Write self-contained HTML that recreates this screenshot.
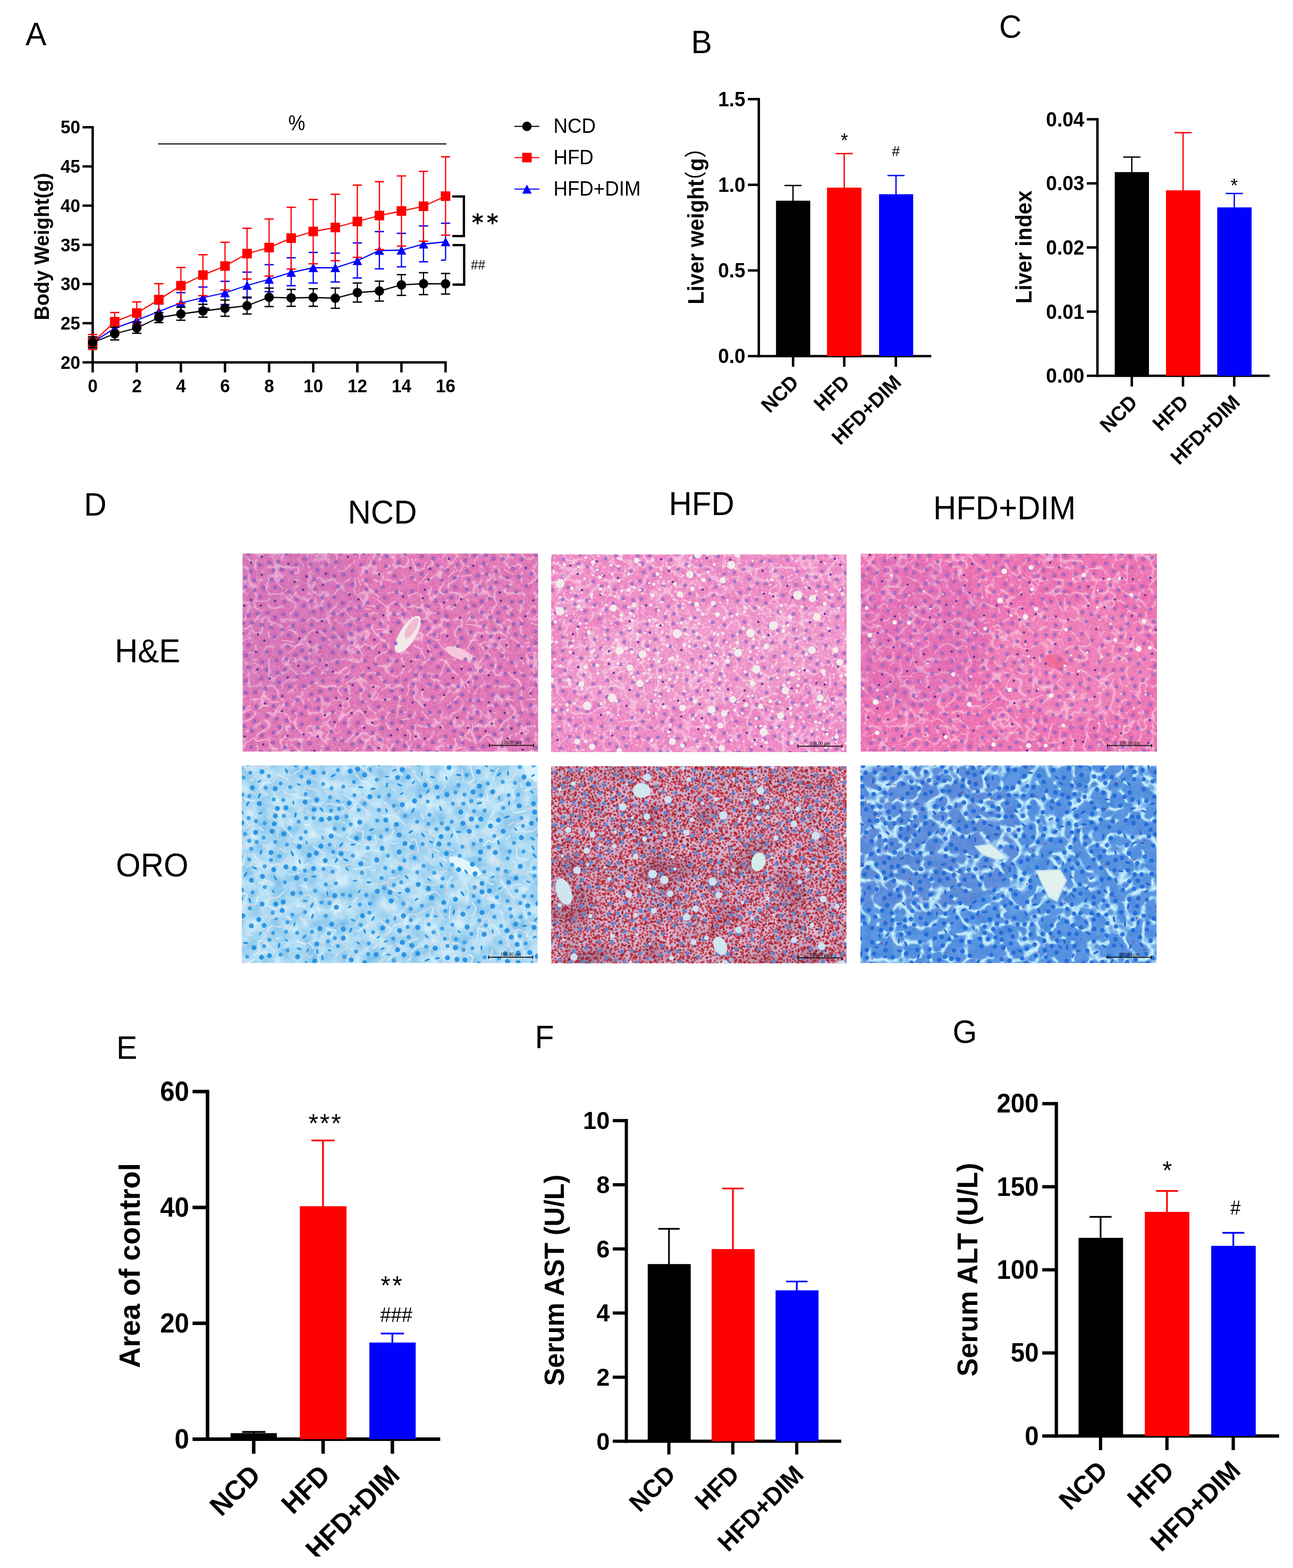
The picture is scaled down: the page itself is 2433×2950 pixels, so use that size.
<!DOCTYPE html>
<html lang="en"><head><meta charset="utf-8"><title>Figure</title>
<style>html,body{margin:0;padding:0;background:#fff}body{width:2433px;height:2950px}svg{display:block}text{font-family:"Liberation Sans",sans-serif;fill:#000}</style>
</head><body>
<svg width="2433" height="2950" viewBox="0 0 2433 2950">
<rect width="2433" height="2950" fill="#fff"/>
<text transform="translate(48 85) scale(1 1.041)" font-size="59">A</text>
<text transform="translate(1300.5 100) scale(1 1.041)" font-size="59">B</text>
<text transform="translate(1880 70.5) scale(1 1.041)" font-size="59">C</text>
<text transform="translate(158 970.3) scale(1 1.041)" font-size="59">D</text>
<text transform="translate(219 1992) scale(1 1.041)" font-size="59">E</text>
<text transform="translate(1006.5 1971.5) scale(1 1.041)" font-size="59">F</text>
<text transform="translate(1792.5 1961.5) scale(1 1.041)" font-size="59">G</text>
<line x1="174.4" y1="237.15" x2="174.4" y2="684.05" stroke="#000" stroke-width="4.5" stroke-linecap="butt"/>
<line x1="155.3" y1="681.8" x2="840.65" y2="681.8" stroke="#000" stroke-width="4.5" stroke-linecap="butt"/>
<text transform="translate(151 693.72) scale(1 1.041)" font-size="33.3" text-anchor="end" font-weight="bold">20</text>
<line x1="155.3" y1="608.07" x2="174.4" y2="608.07" stroke="#000" stroke-width="4.5" stroke-linecap="butt"/>
<text transform="translate(151 619.99) scale(1 1.041)" font-size="33.3" text-anchor="end" font-weight="bold">25</text>
<line x1="155.3" y1="534.33" x2="174.4" y2="534.33" stroke="#000" stroke-width="4.5" stroke-linecap="butt"/>
<text transform="translate(151 546.25) scale(1 1.041)" font-size="33.3" text-anchor="end" font-weight="bold">30</text>
<line x1="155.3" y1="460.6" x2="174.4" y2="460.6" stroke="#000" stroke-width="4.5" stroke-linecap="butt"/>
<text transform="translate(151 472.52) scale(1 1.041)" font-size="33.3" text-anchor="end" font-weight="bold">35</text>
<line x1="155.3" y1="386.87" x2="174.4" y2="386.87" stroke="#000" stroke-width="4.5" stroke-linecap="butt"/>
<text transform="translate(151 398.79) scale(1 1.041)" font-size="33.3" text-anchor="end" font-weight="bold">40</text>
<line x1="155.3" y1="313.13" x2="174.4" y2="313.13" stroke="#000" stroke-width="4.5" stroke-linecap="butt"/>
<text transform="translate(151 325.05) scale(1 1.041)" font-size="33.3" text-anchor="end" font-weight="bold">45</text>
<line x1="155.3" y1="239.4" x2="174.4" y2="239.4" stroke="#000" stroke-width="4.5" stroke-linecap="butt"/>
<text transform="translate(151 251.32) scale(1 1.041)" font-size="33.3" text-anchor="end" font-weight="bold">50</text>
<line x1="174.4" y1="681.8" x2="174.4" y2="700.7" stroke="#000" stroke-width="4.5" stroke-linecap="butt"/>
<text transform="translate(174.4 738.2) scale(1 1.041)" font-size="33.3" text-anchor="middle" font-weight="bold">0</text>
<line x1="257.4" y1="681.8" x2="257.4" y2="700.7" stroke="#000" stroke-width="4.5" stroke-linecap="butt"/>
<text transform="translate(257.4 738.2) scale(1 1.041)" font-size="33.3" text-anchor="middle" font-weight="bold">2</text>
<line x1="340.4" y1="681.8" x2="340.4" y2="700.7" stroke="#000" stroke-width="4.5" stroke-linecap="butt"/>
<text transform="translate(340.4 738.2) scale(1 1.041)" font-size="33.3" text-anchor="middle" font-weight="bold">4</text>
<line x1="423.4" y1="681.8" x2="423.4" y2="700.7" stroke="#000" stroke-width="4.5" stroke-linecap="butt"/>
<text transform="translate(423.4 738.2) scale(1 1.041)" font-size="33.3" text-anchor="middle" font-weight="bold">6</text>
<line x1="506.4" y1="681.8" x2="506.4" y2="700.7" stroke="#000" stroke-width="4.5" stroke-linecap="butt"/>
<text transform="translate(506.4 738.2) scale(1 1.041)" font-size="33.3" text-anchor="middle" font-weight="bold">8</text>
<line x1="589.4" y1="681.8" x2="589.4" y2="700.7" stroke="#000" stroke-width="4.5" stroke-linecap="butt"/>
<text transform="translate(589.4 738.2) scale(1 1.041)" font-size="33.3" text-anchor="middle" font-weight="bold">10</text>
<line x1="672.4" y1="681.8" x2="672.4" y2="700.7" stroke="#000" stroke-width="4.5" stroke-linecap="butt"/>
<text transform="translate(672.4 738.2) scale(1 1.041)" font-size="33.3" text-anchor="middle" font-weight="bold">12</text>
<line x1="755.4" y1="681.8" x2="755.4" y2="700.7" stroke="#000" stroke-width="4.5" stroke-linecap="butt"/>
<text transform="translate(755.4 738.2) scale(1 1.041)" font-size="33.3" text-anchor="middle" font-weight="bold">14</text>
<line x1="838.4" y1="681.8" x2="838.4" y2="700.7" stroke="#000" stroke-width="4.5" stroke-linecap="butt"/>
<text transform="translate(838.4 738.2) scale(1 1.041)" font-size="33.3" text-anchor="middle" font-weight="bold">16</text>
<text transform="translate(92.4 464) rotate(-90) scale(1 1.041)" font-size="37.6" text-anchor="middle" font-weight="bold">Body Weight(g)</text>
<line x1="297.5" y1="270.75" x2="840" y2="270.75" stroke="#000" stroke-width="2.2" stroke-linecap="butt"/>
<text transform="translate(558.4 245.1) scale(1 1.141)" font-size="35.8" text-anchor="middle">%</text>
<g stroke="#0000ff" stroke-width="2.3" fill="none">
<path d="M174.4 634V654M165.7 634h17.4M165.7 654h17.4M215.9 607V628M207.2 607h17.4M207.2 628h17.4M257.4 592V613M248.7 592h17.4M248.7 613h17.4M298.9 572V600M290.2 572h17.4M290.2 600h17.4M340.4 550.5V589.5M331.7 550.5h17.4M331.7 589.5h17.4M381.9 540V580M373.2 540h17.4M373.2 580h17.4M423.4 529.25V573M414.7 529.25h17.4M414.7 573h17.4M464.9 512V560.5M456.2 512h17.4M456.2 560.5h17.4M506.4 498V548.75M497.7 498h17.4M497.7 548.75h17.4M547.9 485V537.5M539.2 485h17.4M539.2 537.5h17.4M589.4 475V532.5M580.7 475h17.4M580.7 532.5h17.4M630.9 476.25V530.5M622.2 476.25h17.4M622.2 530.5h17.4M672.4 457V523M663.7 457h17.4M663.7 523h17.4M713.9 435.75V505.75M705.2 435.75h17.4M705.2 505.75h17.4M755.4 439V502M746.7 439h17.4M746.7 502h17.4M796.9 425V492.5M788.2 425h17.4M788.2 492.5h17.4M838.4 420V489.5M829.7 420h17.4M829.7 489.5h8.7"/>
<polyline points="174.4,644 215.9,617.5 257.4,602.5 298.9,586 340.4,570 381.9,560 423.4,551 464.9,537 506.4,525.5 547.9,512.5 589.4,503.75 630.9,503.75 672.4,490.5 713.9,471.25 755.4,470.75 796.9,459.25 838.4,455"/>
</g>
<g fill="#0000ff">
<path d="M174.4 635.2l9 17h-18z"/>
<path d="M215.9 608.7l9 17h-18z"/>
<path d="M257.4 593.7l9 17h-18z"/>
<path d="M298.9 577.2l9 17h-18z"/>
<path d="M340.4 561.2l9 17h-18z"/>
<path d="M381.9 551.2l9 17h-18z"/>
<path d="M423.4 542.2l9 17h-18z"/>
<path d="M464.9 528.2l9 17h-18z"/>
<path d="M506.4 516.7l9 17h-18z"/>
<path d="M547.9 503.7l9 17h-18z"/>
<path d="M589.4 494.95l9 17h-18z"/>
<path d="M630.9 494.95l9 17h-18z"/>
<path d="M672.4 481.7l9 17h-18z"/>
<path d="M713.9 462.45l9 17h-18z"/>
<path d="M755.4 461.95l9 17h-18z"/>
<path d="M796.9 450.45l9 17h-18z"/>
<path d="M838.4 446.2l9 17h-18z"/>
</g>
<g stroke="#ff0000" stroke-width="2.3" fill="none">
<path d="M174.4 629.25V657.5M165.7 629.25h17.4M165.7 657.5h17.4M215.9 588V622.5M207.2 588h17.4M207.2 622.5h17.4M257.4 568V610M248.7 568h17.4M248.7 610h17.4M298.9 533.75V593.75M290.2 533.75h17.4M290.2 593.75h17.4M340.4 503.25V571.25M331.7 503.25h17.4M331.7 571.25h17.4M381.9 479.25V556.25M373.2 479.25h17.4M373.2 556.25h17.4M423.4 455.75V545.5M414.7 455.75h17.4M414.7 545.5h17.4M464.9 429.5V525M456.2 429.5h17.4M456.2 525h17.4M506.4 412V519.5M497.7 412h17.4M497.7 519.5h17.4M547.9 390V506.25M539.2 390h17.4M539.2 506.25h17.4M589.4 375.25V496.25M580.7 375.25h17.4M580.7 496.25h17.4M630.9 365.5V490.5M622.2 365.5h17.4M622.2 490.5h17.4M672.4 348.25V484.25M663.7 348.25h17.4M663.7 484.25h17.4M713.9 341.75V469.5M705.2 341.75h17.4M705.2 469.5h17.4M755.4 331V463M746.7 331h17.4M746.7 463h17.4M796.9 322.5V453.75M788.2 322.5h17.4M788.2 453.75h17.4M838.4 295V442.5M829.7 295h17.4M829.7 442.5h17.4"/>
<polyline points="174.4,644.25 215.9,605.25 257.4,589 298.9,563.75 340.4,537.5 381.9,517.5 423.4,500.5 464.9,477.2 506.4,465.75 547.9,448 589.4,435.5 630.9,428 672.4,416.75 713.9,405.5 755.4,397 796.9,388 838.4,369"/>
</g>
<g fill="#ff0000">
<rect x="165.4" y="635.25" width="18" height="18"/>
<rect x="206.9" y="596.25" width="18" height="18"/>
<rect x="248.4" y="580" width="18" height="18"/>
<rect x="289.9" y="554.75" width="18" height="18"/>
<rect x="331.4" y="528.5" width="18" height="18"/>
<rect x="372.9" y="508.5" width="18" height="18"/>
<rect x="414.4" y="491.5" width="18" height="18"/>
<rect x="455.9" y="468.2" width="18" height="18"/>
<rect x="497.4" y="456.75" width="18" height="18"/>
<rect x="538.9" y="439" width="18" height="18"/>
<rect x="580.4" y="426.5" width="18" height="18"/>
<rect x="621.9" y="419" width="18" height="18"/>
<rect x="663.4" y="407.75" width="18" height="18"/>
<rect x="704.9" y="396.5" width="18" height="18"/>
<rect x="746.4" y="388" width="18" height="18"/>
<rect x="787.9" y="379" width="18" height="18"/>
<rect x="829.4" y="360" width="18" height="18"/>
</g>
<g stroke="#000" stroke-width="2.3" fill="none">
<path d="M174.4 633.75V654.5M165.7 633.75h17.4M165.7 654.5h17.4M215.9 615.75V639.5M207.2 615.75h17.4M207.2 639.5h17.4M257.4 606V627M248.7 606h17.4M248.7 627h17.4M298.9 588V607M290.2 588h17.4M290.2 607h17.4M340.4 578V602.5M331.7 578h17.4M331.7 602.5h17.4M381.9 572.5V596.75M373.2 572.5h17.4M373.2 596.75h17.4M423.4 564.5V595M414.7 564.5h17.4M414.7 595h17.4M464.9 559V590.75M456.2 559h17.4M456.2 590.75h17.4M506.4 542V576.75M497.7 542h17.4M497.7 576.75h17.4M547.9 544.5V576.25M539.2 544.5h17.4M539.2 576.25h17.4M589.4 543.25V576.25M580.7 543.25h17.4M580.7 576.25h17.4M630.9 542V580M622.2 542h17.4M622.2 580h17.4M672.4 532.5V568.25M663.7 532.5h17.4M663.7 568.25h17.4M713.9 529V566.5M705.2 529h17.4M705.2 566.5h17.4M755.4 516.75V555.75M746.7 516.75h17.4M746.7 555.75h17.4M796.9 513V554.25M788.2 513h17.4M788.2 554.25h17.4M838.4 514.5V553.25M829.7 514.5h17.4M829.7 553.25h17.4"/>
<polyline points="174.4,644.25 215.9,628 257.4,617 298.9,597.5 340.4,590.75 381.9,585 423.4,580 464.9,575.2 506.4,559.25 547.9,560.5 589.4,559.75 630.9,561 672.4,550.5 713.9,547.5 755.4,536 796.9,533.75 838.4,534"/>
</g>
<g fill="#000">
<circle cx="174.4" cy="644.25" r="8.9"/>
<circle cx="215.9" cy="628" r="8.9"/>
<circle cx="257.4" cy="617" r="8.9"/>
<circle cx="298.9" cy="597.5" r="8.9"/>
<circle cx="340.4" cy="590.75" r="8.9"/>
<circle cx="381.9" cy="585" r="8.9"/>
<circle cx="423.4" cy="580" r="8.9"/>
<circle cx="464.9" cy="575.2" r="8.9"/>
<circle cx="506.4" cy="559.25" r="8.9"/>
<circle cx="547.9" cy="560.5" r="8.9"/>
<circle cx="589.4" cy="559.75" r="8.9"/>
<circle cx="630.9" cy="561" r="8.9"/>
<circle cx="672.4" cy="550.5" r="8.9"/>
<circle cx="713.9" cy="547.5" r="8.9"/>
<circle cx="755.4" cy="536" r="8.9"/>
<circle cx="796.9" cy="533.75" r="8.9"/>
<circle cx="838.4" cy="534" r="8.9"/>
</g>
<text transform="translate(388.5 590.5) scale(1 1.041)" font-size="17" font-weight="bold">*</text>
<path d="M851 369.7H872.9V444.1H851M851.6 461.2H873.4V535.5H851.6" fill="none" stroke="#000" stroke-width="4.3"/>
<text transform="translate(887.8 433.6) scale(1 1.041)" font-size="42" font-weight="bold" style="font-family:'DejaVu Sans',sans-serif;letter-spacing:6px">**</text>
<text transform="translate(886 507) scale(1 1.041)" font-size="24.5">##</text>
<line x1="968" y1="237.75" x2="1015" y2="237.75" stroke="#000" stroke-width="2" stroke-linecap="butt"/>
<circle cx="991.5" cy="237.75" r="8.9" fill="#000"/>
<text transform="translate(1041.4 250.15) scale(1 1.041)" font-size="36.7">NCD</text>
<line x1="968" y1="296.5" x2="1015" y2="296.5" stroke="#ff0000" stroke-width="2" stroke-linecap="butt"/>
<rect x="982.5" y="287.5" width="18" height="18" fill="#ff0000"/>
<text transform="translate(1041.4 308.9) scale(1 1.041)" font-size="36.7">HFD</text>
<line x1="968" y1="355.75" x2="1015" y2="355.75" stroke="#0000ff" stroke-width="2" stroke-linecap="butt"/>
<path d="M991.5 347.25l9 17h-18z" fill="#0000ff"/>
<text transform="translate(1041.4 368.15) scale(1 1.041)" font-size="36.7">HFD+DIM</text>
<line x1="1427.8" y1="184.2" x2="1427.8" y2="672.3" stroke="#000" stroke-width="4.6" stroke-linecap="butt"/>
<line x1="1407.3" y1="670" x2="1752.3" y2="670" stroke="#000" stroke-width="4.6" stroke-linecap="butt"/>
<line x1="1407.3" y1="186.5" x2="1427.8" y2="186.5" stroke="#000" stroke-width="4.6" stroke-linecap="butt"/>
<text transform="translate(1402.6 199.75) scale(1 1.041)" font-size="37" text-anchor="end" font-weight="bold">1.5</text>
<line x1="1407.3" y1="347.7" x2="1427.8" y2="347.7" stroke="#000" stroke-width="4.6" stroke-linecap="butt"/>
<text transform="translate(1402.6 360.95) scale(1 1.041)" font-size="37" text-anchor="end" font-weight="bold">1.0</text>
<line x1="1407.3" y1="508.8" x2="1427.8" y2="508.8" stroke="#000" stroke-width="4.6" stroke-linecap="butt"/>
<text transform="translate(1402.6 522.05) scale(1 1.041)" font-size="37" text-anchor="end" font-weight="bold">0.5</text>
<text transform="translate(1402.6 683.25) scale(1 1.041)" font-size="37" text-anchor="end" font-weight="bold">0.0</text>
<path d="M1492.15 378.6V349.1M1476 349.1H1508.3" stroke="#000" stroke-width="2.5" fill="none"/>
<rect x="1460.2" y="377.6" width="64.4" height="292.4" fill="#000"/>
<path d="M1588.55 354V288.9M1572.5 288.9H1604.6" stroke="#ff0000" stroke-width="2.5" fill="none"/>
<rect x="1556.2" y="353" width="64.8" height="317" fill="#ff0000"/>
<path d="M1686 366.4V330.3M1670 330.3H1702" stroke="#0000ff" stroke-width="2.5" fill="none"/>
<rect x="1654.1" y="365.4" width="64.2" height="304.6" fill="#0000ff"/>
<line x1="1492.3" y1="670" x2="1492.3" y2="690" stroke="#000" stroke-width="4.6" stroke-linecap="butt"/>
<line x1="1588.6" y1="670" x2="1588.6" y2="690" stroke="#000" stroke-width="4.6" stroke-linecap="butt"/>
<line x1="1685.7" y1="670" x2="1685.7" y2="690" stroke="#000" stroke-width="4.6" stroke-linecap="butt"/>
<text transform="translate(1505 721.8) rotate(-45) scale(1 1.041)" font-size="37" text-anchor="end" font-weight="bold">NCD</text>
<text transform="translate(1601 721.8) rotate(-45) scale(1 1.041)" font-size="37" text-anchor="end" font-weight="bold">HFD</text>
<text transform="translate(1698 721.8) rotate(-45) scale(1 1.041)" font-size="37" text-anchor="end" font-weight="bold">HFD+DIM</text>
<text transform="translate(1323.9 572.8) rotate(-90) scale(1 1.041)" font-size="40.3" font-weight="bold" style="font-family:'Liberation Sans','Noto Sans CJK SC',sans-serif">Liver weight<tspan dx="-24.5" font-weight="normal">（</tspan>g<tspan font-weight="normal">）</tspan></text>
<text transform="translate(1588.9 277.2) scale(1 1.041)" font-size="35.5" text-anchor="middle">*</text>
<text transform="translate(1685.7 293.6) scale(1 1.041)" font-size="27" text-anchor="middle">#</text>
<line x1="2065" y1="222.1" x2="2065" y2="709.3" stroke="#000" stroke-width="4.6" stroke-linecap="butt"/>
<line x1="2045" y1="707" x2="2389.1" y2="707" stroke="#000" stroke-width="4.6" stroke-linecap="butt"/>
<line x1="2045" y1="224.4" x2="2065" y2="224.4" stroke="#000" stroke-width="4.6" stroke-linecap="butt"/>
<text transform="translate(2040.3 237.65) scale(1 1.041)" font-size="37" text-anchor="end" font-weight="bold">0.04</text>
<line x1="2045" y1="345" x2="2065" y2="345" stroke="#000" stroke-width="4.6" stroke-linecap="butt"/>
<text transform="translate(2040.3 358.25) scale(1 1.041)" font-size="37" text-anchor="end" font-weight="bold">0.03</text>
<line x1="2045" y1="465.6" x2="2065" y2="465.6" stroke="#000" stroke-width="4.6" stroke-linecap="butt"/>
<text transform="translate(2040.3 478.85) scale(1 1.041)" font-size="37" text-anchor="end" font-weight="bold">0.02</text>
<line x1="2045" y1="586.3" x2="2065" y2="586.3" stroke="#000" stroke-width="4.6" stroke-linecap="butt"/>
<text transform="translate(2040.3 599.55) scale(1 1.041)" font-size="37" text-anchor="end" font-weight="bold">0.01</text>
<text transform="translate(2040.3 720.25) scale(1 1.041)" font-size="37" text-anchor="end" font-weight="bold">0.00</text>
<path d="M2129.65 324.8V295.4M2113.5 295.4H2145.8" stroke="#000" stroke-width="2.5" fill="none"/>
<rect x="2097.6" y="323.8" width="64.4" height="383.2" fill="#000"/>
<path d="M2226.15 359.1V249.5M2210 249.5H2242.3" stroke="#ff0000" stroke-width="2.5" fill="none"/>
<rect x="2194" y="358.1" width="64.5" height="348.9" fill="#ff0000"/>
<path d="M2322.5 391.2V363.95M2306.3 363.95H2338.7" stroke="#0000ff" stroke-width="2.5" fill="none"/>
<rect x="2290.4" y="390.2" width="64.7" height="316.8" fill="#0000ff"/>
<line x1="2129.7" y1="707" x2="2129.7" y2="727.2" stroke="#000" stroke-width="4.6" stroke-linecap="butt"/>
<line x1="2226" y1="707" x2="2226" y2="727.2" stroke="#000" stroke-width="4.6" stroke-linecap="butt"/>
<line x1="2322.4" y1="707" x2="2322.4" y2="727.2" stroke="#000" stroke-width="4.6" stroke-linecap="butt"/>
<text transform="translate(2142.5 759.3) rotate(-45) scale(1 1.041)" font-size="37" text-anchor="end" font-weight="bold">NCD</text>
<text transform="translate(2238.5 759.3) rotate(-45) scale(1 1.041)" font-size="37" text-anchor="end" font-weight="bold">HFD</text>
<text transform="translate(2335.5 759.3) rotate(-45) scale(1 1.041)" font-size="37" text-anchor="end" font-weight="bold">HFD+DIM</text>
<text transform="translate(1940.8 464.8) rotate(-90) scale(1 1.041)" font-size="40.3" text-anchor="middle" font-weight="bold">Liver index</text>
<text transform="translate(2322.3 362.2) scale(1 1.041)" font-size="35.5" text-anchor="middle">*</text>
<line x1="390.5" y1="2050.4" x2="390.5" y2="2710.9" stroke="#000" stroke-width="6.6" stroke-linecap="butt"/>
<line x1="362.3" y1="2707.6" x2="828.3" y2="2707.6" stroke="#000" stroke-width="6.6" stroke-linecap="butt"/>
<line x1="362.3" y1="2053.7" x2="390.5" y2="2053.7" stroke="#000" stroke-width="6.6" stroke-linecap="butt"/>
<text transform="translate(356 2071.35) scale(1 1.041)" font-size="49.3" text-anchor="end" font-weight="bold">60</text>
<line x1="362.3" y1="2271.7" x2="390.5" y2="2271.7" stroke="#000" stroke-width="6.6" stroke-linecap="butt"/>
<text transform="translate(356 2289.35) scale(1 1.041)" font-size="49.3" text-anchor="end" font-weight="bold">40</text>
<line x1="362.3" y1="2489.6" x2="390.5" y2="2489.6" stroke="#000" stroke-width="6.6" stroke-linecap="butt"/>
<text transform="translate(356 2507.25) scale(1 1.041)" font-size="49.3" text-anchor="end" font-weight="bold">20</text>
<text transform="translate(356 2725.25) scale(1 1.041)" font-size="49.3" text-anchor="end" font-weight="bold">0</text>
<path d="M477.6 2697.3V2694M455.8 2694H499.4" stroke="#000" stroke-width="3.3" fill="none"/>
<rect x="433.8" y="2696.3" width="87.1" height="11.3" fill="#000"/>
<path d="M607.8 2270.3V2145.7M586 2145.7H629.6" stroke="#ff0000" stroke-width="3.3" fill="none"/>
<rect x="564.2" y="2269.3" width="87.8" height="438.3" fill="#ff0000"/>
<path d="M738.3 2526.8V2508.9M716.5 2508.9H760.1" stroke="#0000ff" stroke-width="3.3" fill="none"/>
<rect x="695" y="2525.8" width="87.2" height="181.8" fill="#0000ff"/>
<line x1="477.4" y1="2707.6" x2="477.4" y2="2735" stroke="#000" stroke-width="6.6" stroke-linecap="butt"/>
<line x1="608" y1="2707.6" x2="608" y2="2735" stroke="#000" stroke-width="6.6" stroke-linecap="butt"/>
<line x1="738.3" y1="2707.6" x2="738.3" y2="2735" stroke="#000" stroke-width="6.6" stroke-linecap="butt"/>
<text transform="translate(493 2778.3) rotate(-45) scale(1 1.041)" font-size="50" text-anchor="end" font-weight="bold">NCD</text>
<text transform="translate(624 2778.3) rotate(-45) scale(1 1.041)" font-size="50" text-anchor="end" font-weight="bold">HFD</text>
<text transform="translate(755 2778.3) rotate(-45) scale(1 1.041)" font-size="50" text-anchor="end" font-weight="bold">HFD+DIM</text>
<text transform="translate(262.5 2381) rotate(-90) scale(1 1.041)" font-size="54.2" text-anchor="middle" font-weight="bold">Area of control</text>
<text transform="translate(612.55 2130.9) scale(1 1.041)" font-size="47.5" text-anchor="middle" style="letter-spacing:2.9px">***</text>
<text transform="translate(738.25 2436.1) scale(1 1.041)" font-size="47.5" text-anchor="middle" style="letter-spacing:3.4px">**</text>
<text transform="translate(745.65 2487.3) scale(1 1.041)" font-size="36.6" text-anchor="middle">###</text>
<line x1="1178.6" y1="2105.3" x2="1178.6" y2="2714.6" stroke="#000" stroke-width="6" stroke-linecap="butt"/>
<line x1="1153" y1="2711.6" x2="1583" y2="2711.6" stroke="#000" stroke-width="6" stroke-linecap="butt"/>
<line x1="1153" y1="2108.3" x2="1178.6" y2="2108.3" stroke="#000" stroke-width="6" stroke-linecap="butt"/>
<text transform="translate(1147.3 2124.48) scale(1 1.041)" font-size="45.2" text-anchor="end" font-weight="bold">10</text>
<line x1="1153" y1="2229" x2="1178.6" y2="2229" stroke="#000" stroke-width="6" stroke-linecap="butt"/>
<text transform="translate(1147.3 2245.18) scale(1 1.041)" font-size="45.2" text-anchor="end" font-weight="bold">8</text>
<line x1="1153" y1="2349.7" x2="1178.6" y2="2349.7" stroke="#000" stroke-width="6" stroke-linecap="butt"/>
<text transform="translate(1147.3 2365.88) scale(1 1.041)" font-size="45.2" text-anchor="end" font-weight="bold">6</text>
<line x1="1153" y1="2470.3" x2="1178.6" y2="2470.3" stroke="#000" stroke-width="6" stroke-linecap="butt"/>
<text transform="translate(1147.3 2486.48) scale(1 1.041)" font-size="45.2" text-anchor="end" font-weight="bold">4</text>
<line x1="1153" y1="2591" x2="1178.6" y2="2591" stroke="#000" stroke-width="6" stroke-linecap="butt"/>
<text transform="translate(1147.3 2607.18) scale(1 1.041)" font-size="45.2" text-anchor="end" font-weight="bold">2</text>
<text transform="translate(1147.3 2727.78) scale(1 1.041)" font-size="45.2" text-anchor="end" font-weight="bold">0</text>
<path d="M1258.8 2379.2V2311.8M1238.7 2311.8H1278.9" stroke="#000" stroke-width="3.2" fill="none"/>
<rect x="1218.8" y="2378.2" width="80.9" height="333.4" fill="#000"/>
<path d="M1379.1 2351V2236M1359 2236H1399.2" stroke="#ff0000" stroke-width="3.2" fill="none"/>
<rect x="1339.1" y="2350" width="80.9" height="361.6" fill="#ff0000"/>
<path d="M1499.3 2428.6V2411M1479.2 2411H1519.4" stroke="#0000ff" stroke-width="3.2" fill="none"/>
<rect x="1459.4" y="2427.6" width="80.8" height="284" fill="#0000ff"/>
<line x1="1258.6" y1="2711.6" x2="1258.6" y2="2736.5" stroke="#000" stroke-width="6" stroke-linecap="butt"/>
<line x1="1378.9" y1="2711.6" x2="1378.9" y2="2736.5" stroke="#000" stroke-width="6" stroke-linecap="butt"/>
<line x1="1499.2" y1="2711.6" x2="1499.2" y2="2736.5" stroke="#000" stroke-width="6" stroke-linecap="butt"/>
<text transform="translate(1273.8 2777) rotate(-45) scale(1 1.041)" font-size="45.7" text-anchor="end" font-weight="bold">NCD</text>
<text transform="translate(1393.8 2777) rotate(-45) scale(1 1.041)" font-size="45.7" text-anchor="end" font-weight="bold">HFD</text>
<text transform="translate(1514.8 2777) rotate(-45) scale(1 1.041)" font-size="45.7" text-anchor="end" font-weight="bold">HFD+DIM</text>
<text transform="translate(1061.2 2408.5) rotate(-90) scale(1 1.041)" font-size="50.3" text-anchor="middle" font-weight="bold">Serum AST (U/L)</text>
<line x1="1987.7" y1="2073.3" x2="1987.7" y2="2704.8" stroke="#000" stroke-width="6.2" stroke-linecap="butt"/>
<line x1="1961.2" y1="2701.7" x2="2406.9" y2="2701.7" stroke="#000" stroke-width="6.2" stroke-linecap="butt"/>
<line x1="1961.2" y1="2076.4" x2="1987.7" y2="2076.4" stroke="#000" stroke-width="6.2" stroke-linecap="butt"/>
<text transform="translate(1954.7 2093.41) scale(1 1.041)" font-size="47.5" text-anchor="end" font-weight="bold">200</text>
<line x1="1961.2" y1="2232.7" x2="1987.7" y2="2232.7" stroke="#000" stroke-width="6.2" stroke-linecap="butt"/>
<text transform="translate(1954.7 2249.7) scale(1 1.041)" font-size="47.5" text-anchor="end" font-weight="bold">150</text>
<line x1="1961.2" y1="2389" x2="1987.7" y2="2389" stroke="#000" stroke-width="6.2" stroke-linecap="butt"/>
<text transform="translate(1954.7 2406.01) scale(1 1.041)" font-size="47.5" text-anchor="end" font-weight="bold">100</text>
<line x1="1961.2" y1="2545.4" x2="1987.7" y2="2545.4" stroke="#000" stroke-width="6.2" stroke-linecap="butt"/>
<text transform="translate(1954.7 2562.41) scale(1 1.041)" font-size="47.5" text-anchor="end" font-weight="bold">50</text>
<text transform="translate(1954.7 2718.7) scale(1 1.041)" font-size="47.5" text-anchor="end" font-weight="bold">0</text>
<path d="M2070.95 2329.8V2289.4M2050.2 2289.4H2091.7" stroke="#000" stroke-width="3.2" fill="none"/>
<rect x="2029.5" y="2328.8" width="83.7" height="372.9" fill="#000"/>
<path d="M2195.9 2281V2240.7M2175.1 2240.7H2216.7" stroke="#ff0000" stroke-width="3.2" fill="none"/>
<rect x="2154.2" y="2280" width="83.8" height="421.7" fill="#ff0000"/>
<path d="M2320.7 2344.9V2319.3M2300 2319.3H2341.4" stroke="#0000ff" stroke-width="3.2" fill="none"/>
<rect x="2279.1" y="2343.9" width="83.8" height="357.8" fill="#0000ff"/>
<line x1="2070.9" y1="2701.7" x2="2070.9" y2="2728.2" stroke="#000" stroke-width="6.2" stroke-linecap="butt"/>
<line x1="2195.8" y1="2701.7" x2="2195.8" y2="2728.2" stroke="#000" stroke-width="6.2" stroke-linecap="butt"/>
<line x1="2320.6" y1="2701.7" x2="2320.6" y2="2728.2" stroke="#000" stroke-width="6.2" stroke-linecap="butt"/>
<text transform="translate(2087 2769.7) rotate(-45) scale(1 1.041)" font-size="48" text-anchor="end" font-weight="bold">NCD</text>
<text transform="translate(2212 2769.7) rotate(-45) scale(1 1.041)" font-size="48" text-anchor="end" font-weight="bold">HFD</text>
<text transform="translate(2337 2769.7) rotate(-45) scale(1 1.041)" font-size="48" text-anchor="end" font-weight="bold">HFD+DIM</text>
<text transform="translate(1839.2 2388.7) rotate(-90) scale(1 1.041)" font-size="51.7" text-anchor="middle" font-weight="bold">Serum ALT (U/L)</text>
<text transform="translate(2196.35 2218.1) scale(1 1.041)" font-size="46" text-anchor="middle">*</text>
<text transform="translate(2324.7 2285.4) scale(1 1.041)" font-size="35" text-anchor="middle">#</text>
<text transform="translate(654.5 985) scale(1 1.041)" font-size="60">NCD</text>
<text transform="translate(1258.5 969.3) scale(1 1.041)" font-size="60">HFD</text>
<text transform="translate(1755.9 977) scale(1 1.041)" font-size="60">HFD+DIM</text>
<text transform="translate(216 1246.4) scale(1 1.041)" font-size="60">H&amp;E</text>
<text transform="translate(218 1649.3) scale(1 1.041)" font-size="60">ORO</text>
<defs><clipPath id="cl0"><rect width="556" height="372.5"/></clipPath><filter id="he1n" x="0" y="0" width="100%" height="100%" color-interpolation-filters="sRGB"><feTurbulence type="fractalNoise" baseFrequency="0.09" numOctaves="2" seed="4"/><feColorMatrix type="matrix" values="0 0 0 0.090 0.827 0 0 0 0.118 0.400 0 0 0 0.102 0.659 0 0 0 0 1"/></filter><filter id="he1nr" x="0" y="0" width="100%" height="100%" color-interpolation-filters="sRGB"><feTurbulence type="turbulence" baseFrequency="0.04" numOctaves="2" seed="7"/><feComponentTransfer><feFuncR type="linear" slope="0" intercept="0.984"/><feFuncG type="linear" slope="0" intercept="0.827"/><feFuncB type="linear" slope="0" intercept="0.910"/><feFuncA type="table" tableValues="0.95 0.75 0.3 0.05 0 0 0 0 0 0 0 0 0 0 0 0"/></feComponentTransfer></filter><clipPath id="cl1"><rect width="556" height="372"/></clipPath><filter id="he2n" x="0" y="0" width="100%" height="100%" color-interpolation-filters="sRGB"><feTurbulence type="fractalNoise" baseFrequency="0.09" numOctaves="2" seed="14"/><feColorMatrix type="matrix" values="0 0 0 0.075 0.890 0 0 0 0.133 0.463 0 0 0 0.086 0.722 0 0 0 0 1"/></filter><filter id="he2nr" x="0" y="0" width="100%" height="100%" color-interpolation-filters="sRGB"><feTurbulence type="turbulence" baseFrequency="0.04" numOctaves="2" seed="17"/><feComponentTransfer><feFuncR type="linear" slope="0" intercept="0.984"/><feFuncG type="linear" slope="0" intercept="0.839"/><feFuncB type="linear" slope="0" intercept="0.918"/><feFuncA type="table" tableValues="0.95 0.75 0.3 0.05 0 0 0 0 0 0 0 0 0 0 0 0"/></feComponentTransfer></filter><filter id="he2v" x="0" y="0" width="100%" height="100%" color-interpolation-filters="sRGB"><feTurbulence type="fractalNoise" baseFrequency="0.2" numOctaves="1" seed="5"/><feComponentTransfer><feFuncR type="linear" slope="0" intercept="0.973"/><feFuncG type="linear" slope="0" intercept="0.918"/><feFuncB type="linear" slope="0" intercept="0.941"/><feFuncA type="table" tableValues="0 0 0 0 0 0 0 0.5 1 1 1"/></feComponentTransfer></filter><clipPath id="cl2"><rect width="557.3" height="372.2"/></clipPath><filter id="he3n" x="0" y="0" width="100%" height="100%" color-interpolation-filters="sRGB"><feTurbulence type="fractalNoise" baseFrequency="0.09" numOctaves="2" seed="24"/><feColorMatrix type="matrix" values="0 0 0 0.082 0.882 0 0 0 0.125 0.384 0 0 0 0.110 0.643 0 0 0 0 1"/></filter><filter id="he3nr" x="0" y="0" width="100%" height="100%" color-interpolation-filters="sRGB"><feTurbulence type="turbulence" baseFrequency="0.04" numOctaves="2" seed="27"/><feComponentTransfer><feFuncR type="linear" slope="0" intercept="0.988"/><feFuncG type="linear" slope="0" intercept="0.816"/><feFuncB type="linear" slope="0" intercept="0.894"/><feFuncA type="table" tableValues="0.95 0.75 0.3 0.05 0 0 0 0 0 0 0 0 0 0 0 0"/></feComponentTransfer></filter><clipPath id="cl3"><rect width="556.7" height="371.7"/></clipPath><filter id="o1n" x="0" y="0" width="100%" height="100%" color-interpolation-filters="sRGB"><feTurbulence type="fractalNoise" baseFrequency="0.035" numOctaves="3" seed="7"/><feColorMatrix type="matrix" values="0 0 0 0.483 0.425 0 0 0 0.264 0.715 0 0 0 0.093 0.904 0 0 0 0 1"/></filter><clipPath id="cl4"><rect width="556" height="370.9"/></clipPath><filter id="o2n" x="0" y="0" width="100%" height="100%" color-interpolation-filters="sRGB"><feTurbulence type="fractalNoise" baseFrequency="0.03" numOctaves="2" seed="31"/><feColorMatrix type="matrix" values="0 0 0 0.141 0.745 0 0 0 0.173 0.596 0 0 0 0.125 0.745 0 0 0 0 1"/></filter><filter id="o2b" x="0" y="0" width="100%" height="100%" color-interpolation-filters="sRGB"><feTurbulence type="fractalNoise" baseFrequency="0.022" numOctaves="2" seed="77"/><feComponentTransfer><feFuncR type="linear" slope="0" intercept="0.612"/><feFuncG type="linear" slope="0" intercept="0.714"/><feFuncB type="linear" slope="0" intercept="0.886"/><feFuncA type="table" tableValues="0.9 0.8 0.6 0.3 0 0 0 0 0 0"/></feComponentTransfer></filter><filter id="o2s" x="0" y="0" width="100%" height="100%" color-interpolation-filters="sRGB"><feTurbulence type="fractalNoise" baseFrequency="0.012" numOctaves="2" seed="5"/><feComponentTransfer><feFuncR type="linear" slope="0" intercept="0.431"/><feFuncG type="linear" slope="0" intercept="0.118"/><feFuncB type="linear" slope="0" intercept="0.235"/><feFuncA type="table" tableValues="0.5 0.45 0.35 0.2 0.05 0 0 0 0 0"/></feComponentTransfer></filter><clipPath id="cl5"><rect width="557.2" height="371.7"/></clipPath><filter id="o3n" x="0" y="0" width="100%" height="100%" color-interpolation-filters="sRGB"><feTurbulence type="fractalNoise" baseFrequency="0.05" numOctaves="2" seed="41"/><feColorMatrix type="matrix" values="0 0 0 0.157 0.259 0 0 0 0.125 0.510 0 0 0 0.063 0.847 0 0 0 0 1"/></filter><filter id="o3p" x="0" y="0" width="100%" height="100%" color-interpolation-filters="sRGB"><feTurbulence type="fractalNoise" baseFrequency="0.2" numOctaves="1" seed="3"/><feComponentTransfer><feFuncR type="linear" slope="0" intercept="0.745"/><feFuncG type="linear" slope="0" intercept="0.353"/><feFuncB type="linear" slope="0" intercept="0.510"/><feFuncA type="table" tableValues="0 0 0 0 0 0 0 0.5 0.8 1"/></feComponentTransfer></filter><filter id="o3g" x="0" y="0" width="100%" height="100%" color-interpolation-filters="sRGB"><feTurbulence type="turbulence" baseFrequency="0.03" numOctaves="2" seed="8"/><feComponentTransfer><feFuncR type="linear" slope="0" intercept="0.690"/><feFuncG type="linear" slope="0" intercept="0.886"/><feFuncB type="linear" slope="0" intercept="0.973"/><feFuncA type="table" tableValues="1 1 0.55 0 0 0 0 0 0 0 0 0 0 0"/></feComponentTransfer></filter><filter id="o3h" x="0" y="0" width="100%" height="100%" color-interpolation-filters="sRGB"><feTurbulence type="turbulence" baseFrequency="0.03" numOctaves="2" seed="8"/><feComponentTransfer><feFuncR type="linear" slope="0" intercept="0.839"/><feFuncG type="linear" slope="0" intercept="0.949"/><feFuncB type="linear" slope="0" intercept="0.988"/><feFuncA type="table" tableValues="1 0.5 0 0 0 0 0 0 0 0 0 0 0 0 0 0 0 0 0 0"/></feComponentTransfer></filter></defs>
<g transform="translate(456.5 1041.5)"><g clip-path="url(#cl0)">
<rect width="556" height="372.5" filter="url(#he1n)"/>
<path d="M544 16l-4 -2M538 7l2 7M534 308l15 7M534 308l2 -12M536 296l19 -4M549 315l15 -18M564 297l-9 -5M550 323l-1 -8M9 141l0 -15M9 126l-17 -13M26 -83l-26 90M31 -26l-8 31M23 5l-19 6M0 7l4 4M15 293l9 8M0 301l5 13M5 314l6 2M24 301l-13 15M9 141l5 4M14 145l0 12M-57 108l60 -24M3 84l5 -8M-14 55l26 -1M12 54l5 6M17 60l-6 15M8 76l3 -1M17 60l11 -1M23 79l-12 -4M23 79l9 -7M32 72l-4 -13M-36 47l37 -14M12 54l2 -11M14 43l-13 -10M4 11l2 13M1 33l5 -9M23 5l3 6M6 24l16 2M31 -26l18 31M49 5l-8 11M26 11l15 5M756 50l-208 12M548 62l-5 -11M543 51l17 -16M544 16l2 9M546 25l14 10M15 293l-2 -16M0 301l-54 -21M13 277l-32 -4M-36 337l44 -3M11 316l3 6M8 334l6 -12M-80 349l81 10M8 334l12 14M28 364l-10 20M28 364l15 4M43 368l-12 343M14 183l-33 -7M14 183l12 -14M14 157l12 10M26 169l0 -2M374 143l-1 -2M374 143l20 2M394 145l6 -14M373 141l3 -14M400 131l-4 -7M376 127l20 -3M538 7l-16 -9M540 14l-19 9M521 23l-8 -8M513 15l9 -17M521 31l-13 8M521 31l10 9M531 40l2 7M533 47l-13 12M508 39l2 14M520 59l-7 -2M513 57l-3 -4M521 23l0 8M546 25l-15 15M543 51l-10 -4M534 308l-5 4M536 296l-9 -10M529 312l-8 -2M510 293l11 17M510 293l5 -7M527 286l-12 0M548 62l-6 11M542 73l36 23M243 192l-12 -3M243 192l8 -17M237 166l14 9M237 166l-12 8M231 189l-6 -15M245 196l-2 -4M245 196l-4 10M231 189l-15 11M216 200l6 13M241 206l-19 7M283 195l-1 14M283 195l5 -4M288 191l15 8M303 199l-11 14M292 213l-10 -4M374 143l-2 19M394 145l5 10M390 170l-9 2M390 170l8 -9M399 155l-1 6M381 172l-9 -10M529 312l1 16M521 310l-11 9M530 328l-14 3M510 319l6 12M-19 273l26 -23M-17 227l24 23M13 277l2 -2M15 275l-1 -25M14 250l-7 0M21 201l1 4M21 201l-15 2M22 205l-6 23M6 203l-13 20M-7 223l23 5M14 183l7 17M-19 176l25 27M21 200l0 1M20 232l-4 -4M20 232l1 13M21 245l-7 5M59 254l-3 -6M59 254l-15 14M56 248l-12 -5M44 243l-14 6M30 249l7 19M30 274l7 -6M21 245l9 4M58 173l0 16M58 173l-2 -1M56 172l-21 4M58 189l-8 10M50 199l-15 -7M35 192l0 -16M26 169l9 7M26 167l17 -18M47 151l-4 -2M47 151l9 21M21 200l14 -8M57 212l-6 -7M57 212l-3 12M51 205l-14 9M54 224l-11 4M37 214l0 11M37 225l6 3M50 199l1 6M61 234l-5 14M61 234l-7 -10M44 243l-1 -15M20 232l17 -7M225 174l-7 -2M207 197l-1 -16M207 197l-12 6M222 215l0 -2M222 215l-12 13M210 228l-18 -12M195 203l-3 13M161 133l-16 5M161 133l4 16M161 154l4 -5M161 154l-12 -2M149 152l-4 -14M144 115l-8 7M144 115l13 0M136 122l6 15M157 115l7 12M161 133l3 -6M142 137l3 1M164 171l-3 -17M139 161l10 -9M139 161l1 4M162 172l-22 -7M126 121l-8 -9M126 121l10 1M118 112l8 -12M144 115l-6 -17M126 100l12 -2M159 110l-6 -17M153 93l-12 0M141 93l-3 5M180 29l12 -6M180 29l-9 -1M192 23l-5 -14M187 9l-13 -6M174 3l-9 8M165 11l6 17M156 -124l-6 132M174 3l-13 -164M165 11l-15 -3M156 -124l-27 130M129 6l1 1M150 8l-7 6M130 7l13 7M74 156l-10 -11M74 156l12 -13M64 145l2 -12M86 143l-5 -15M66 133l8 -5M74 163l-4 6M74 163l0 -7M70 169l-12 4M47 151l17 -6M14 145l11 -5M43 149l0 -1M25 140l18 8M43 148l5 -22M64 104l-2 0M64 104l10 24M62 104l-14 21M48 126l0 -1M64 104l4 -2M50 76l-1 1M49 77l-3 12M71 76l1 1M62 104l-13 -8M68 102l4 -25M46 89l3 7M23 79l3 11M32 72l17 5M462 101l-8 -25M462 101l-15 0M447 101l-7 -13M454 76l-14 12M305 -49l12 60M305 -49l-9 54M296 5l12 9M317 11l-9 3M325 133l4 8M325 133l-19 -3M306 130l-5 10M301 140l11 14M329 141l-17 13M100 67l-15 -8M100 67l12 -13M112 54l-6 -12M106 42l-20 4M86 46l-1 13M50 76l0 -16M71 76l4 -11M50 60l14 -6M68 102l22 1M81 128l8 -6M90 103l-1 19M90 85l3 16M101 73l15 9M101 101l-8 0M101 101l15 -17M116 82l0 2M72 77l18 8M90 103l3 -2M100 67l1 6M75 65l10 -6M115 112l-13 15M115 112l-14 -11M89 122l13 5M118 112l-3 0M126 100l-10 -16M69 1l9 9M69 1l-11 6M78 10l-2 10M76 20l-10 5M85 29l-9 -9M85 29l-3 12M82 41l-15 0M66 25l1 16M82 41l4 5M64 54l1 -12M67 41l-2 1M69 1l17 -110M78 10l17 -2M95 8l-9 -117M93 25l3 -17M93 25l15 9M108 34l7 -6M105 10l-9 -2M115 23l0 5M85 29l8 -4M95 8l1 0M106 42l2 -8M115 0l-10 10M115 0l-28 -132M129 6l-14 -6M130 7l-15 16M129 33l-14 -5M129 33l14 -18M143 15l0 -1M513 15l-10 0M522 -2l-42 -135M503 15l-20 -49M539 251l-8 12M539 251l11 5M550 256l2 14M531 263l5 11M549 274l3 -4M555 292l-6 -18M527 286l9 -12M810 229l-258 41M537 241l2 10M537 241l3 -4M550 256l29 -18M540 237l39 1M501 77l14 7M501 77l12 -20M520 59l10 17M530 76l-15 8M542 73l-8 4M530 76l4 1M577 96l-40 3M534 77l3 22M420 229l-9 4M420 229l8 1M411 233l0 3M425 257l-7 -4M425 257l9 -15M428 230l6 12M390 170l12 15M398 161l21 11M419 172l-2 12M412 187l5 -3M420 229l0 -19M411 233l-12 -12M399 211l10 -5M399 211l0 10M420 210l-11 -4M245 196l16 3M261 199l7 -9M268 190l0 -5M251 175l3 -1M268 185l-14 -11M268 190l15 5M289 180l-1 11M289 180l-11 -6M268 185l10 -11M261 199l5 15M241 206l6 13M247 219l19 -5M282 209l-15 6M266 214l1 1M340 174l-3 9M340 174l14 1M354 175l7 11M343 196l18 -10M510 319l-11 -2M516 331l-5 11M496 322l3 -5M496 322l2 15M511 342l-13 -5M480 324l16 -2M480 324l-3 5M477 329l9 15M498 337l-12 7M510 293l-4 2M499 317l-1 -5M506 295l-8 17M550 323l-7 12M554 348l-11 -13M543 335l-4 -1M70 169l13 18M58 189l15 6M73 195l10 -8M126 254l-12 10M126 254l-7 -20M102 245l0 14M102 245l16 -12M102 259l12 5M118 233l1 1M126 121l-7 15M102 127l4 9M106 136l13 0M142 137l-15 10M119 136l8 11M139 161l-13 -9M127 147l-1 5M208 142l-17 1M208 142l7 13M191 143l7 17M215 155l-1 3M164 171l16 -8M164 171l18 15M180 163l12 6M182 186l11 -13M193 173l-1 -4M179 149l1 14M179 149l-14 0M187 140l4 3M187 140l-8 9M198 160l-6 9M206 181l-13 -8M181 191l14 12M181 191l1 -5M218 172l-4 -14M181 191l-14 8M167 199l-8 -3M162 172l-7 16M159 196l-4 -8M166 55l-4 -4M166 55l16 -5M182 50l-2 -21M171 28l-3 2M162 51l6 -21M143 15l9 14M168 30l-16 -1M112 54l12 3M131 37l-7 20M152 29l-6 14M131 37l15 6M162 51l-14 -4M146 43l2 4M325 133l4 -14M329 119l-10 -11M306 130l-1 -4M319 108l-5 1M305 126l9 -17M164 127l13 0M187 140l-2 -8M296 5l-12 4M284 9l-4 6M300 33l8 -19M300 33l-16 -5M284 28l-4 -13M272 39l12 -11M272 39l-15 -13M280 15l-19 -1M257 26l4 -12M187 9l12 -18M20 100l-2 1M17 102l4 18M17 102l1 -1M37 108l1 13M21 120l8 5M29 125l9 -4M49 96l-12 12M26 90l-6 10M3 84l15 17M9 126l12 -6M-8 113l25 -11M48 125l-10 -4M25 140l4 -15M458 53l5 -1M458 53l-3 22M455 75l17 1M472 76l5 -12M477 64l-14 -12M476 81l21 -1M476 81l-4 -5M499 77l-2 3M499 77l-12 -16M477 64l10 -3M510 53l-21 1M487 61l2 -7M454 75l0 1M454 75l-19 -9M435 66l-10 15M440 88l-14 -2M426 86l-1 -5M334 143l6 11M334 143l17 -14M361 140l-10 -11M361 140l-13 14M348 154l-8 0M329 141l5 2M337 164l-15 1M337 164l3 -10M322 165l-10 -11M373 141l-12 -1M340 174l-3 -10M354 175l9 -12M48 38l-3 -9M48 38l-6 14M43 28l-16 4M43 28l2 1M25 38l2 -6M25 38l9 14M34 52l8 0M60 22l-15 7M65 42l-17 -4M50 60l-8 -8M41 16l2 12M22 26l5 6M14 43l11 -5M470 44l15 0M470 44l-4 -19M485 44l8 -14M481 21l11 5M481 21l-14 3M493 30l-1 -4M467 24l-1 1M489 54l-4 -10M503 15l-11 11M480 -25l1 46M462 12l5 12M462 12l18 -37M435 66l-2 -6M425 81l-16 -9M409 72l3 -16M412 56l21 4M494 253l22 5M494 253l4 20M510 277l7 -16M517 261l-1 -3M515 286l-5 -9M487 279l1 11M487 279l11 -6M506 295l-18 -5M531 263l-14 -2M537 241l-16 -1M521 240l-5 18M481 255l-5 -1M481 255l11 -4M476 254l-8 -14M492 251l3 -10M495 241l-13 -14M468 240l9 -13M477 227l5 0M479 274l8 5M479 274l2 -19M494 253l-2 -2M517 237l-12 -2M505 235l-10 6M399 155l19 -6M419 172l8 -8M418 149l9 15M400 131l21 2M418 149l3 -16M453 240l15 0M453 240l-2 -8M474 223l-14 -5M474 223l3 4M460 218l-9 14M428 230l10 -6M434 242l16 2M450 244l3 -4M438 224l13 8M554 218l-14 6M554 218l-6 -14M548 204l-13 0M540 224l-13 -11M527 213l8 -9M540 237l0 -13M605 232l-51 -14M766 228l-211 -32M555 196l-7 8M534 190l15 -5M534 190l1 14M555 196l-6 -11M524 213l-7 24M524 213l3 0M249 303l20 -8M249 303l8 15M269 295l8 13M257 318l12 1M277 308l-8 11M303 199l2 0M292 213l4 13M305 199l11 18M312 223l-16 3M278 232l18 -5M278 232l-8 -6M270 226l-3 -11M296 226l0 1M24 301l6 1M30 274l7 21M30 302l7 -7M44 268l8 11M52 279l-5 14M37 295l10 -2M213 270l-3 14M213 270l15 -2M210 284l7 7M228 268l13 16M241 284l0 1M217 291l24 -6M188 302l16 12M188 302l10 -14M198 288l12 -4M217 291l1 13M204 314l14 -10M247 302l-6 -17M247 302l-16 11M231 313l-13 -9M278 246l0 -14M270 226l-16 14M254 240l8 17M309 194l10 -2M309 194l-6 -18M319 192l5 -7M324 185l-7 -11M303 176l14 -2M301 174l-12 6M305 199l4 -5M337 183l-13 2M322 165l-5 9M300 165l12 -11M300 165l1 9M316 217l6 -2M319 192l9 13M322 215l6 -10M343 196l-1 6M328 205l14 -3M380 173l-18 14M380 173l5 28M362 187l8 13M370 200l12 3M382 203l3 -1M385 202l0 -1M381 172l-1 1M361 186l1 1M402 185l-17 16M342 202l10 12M352 214l18 -14M399 211l-14 -9M412 187l-3 19M539 362l15 -14M539 362l21 123M511 342l-8 21M511 342l15 8M528 357l-11 9M517 366l-14 -3M539 334l-13 16M539 362l-11 -5M560 485l-43 -119M483 373l-12 -16M483 373l18 -8M501 365l2 -2M503 363l-18 -15M471 357l14 -9M473 481l10 -108M473 481l-15 -107M469 357l-11 17M469 357l2 0M486 344l-1 4M399 221l-19 12M375 223l5 10M411 236l-14 8M397 244l-17 -11M289 309l-12 -1M289 309l1 13M275 330l5 0M290 322l-10 8M304 329l-10 14M304 329l-14 -7M280 330l10 13M290 343l4 0M429 350l-9 15M429 350l12 8M441 358l2 10M443 368l-13 15M430 383l-10 -18M479 274l-7 2M472 276l-4 11M488 290l-8 9M468 287l12 12M480 324l-6 -16M498 312l-19 -10M474 308l5 -6M479 302l1 -3M472 276l-17 -10M453 290l15 -3M453 290l-1 -1M452 289l3 -23M450 244l1 18M476 254l-21 10M451 262l4 2M455 266l0 -2M477 329l-9 2M468 331l-7 18M458 374l-15 -6M441 358l19 -9M461 349l-1 0M441 309l13 -6M441 309l-4 10M437 319l13 8M461 309l-3 13M458 322l-8 5M453 290l1 13M474 308l-13 1M468 331l-10 -9M447 336l3 -9M447 336l13 13M57 212l12 0M73 195l2 12M69 212l6 -5M136 173l4 14M136 173l-16 1M120 174l0 13M120 187l13 7M140 187l-7 7M140 165l-4 8M155 188l-15 -1M159 196l-15 19M132 203l1 -9M132 203l5 8M137 211l7 4M117 227l1 6M119 234l21 1M144 215l5 9M149 224l-9 11M135 254l-9 0M135 254l7 -6M140 235l2 13M186 303l2 -1M186 303l-16 -18M198 288l-11 -13M187 275l-17 10M100 148l-5 18M100 148l18 9M95 166l5 7M115 170l3 -13M106 136l-6 12M126 152l-8 5M99 177l1 -4M83 187l4 0M99 177l11 16M110 193l10 -6M120 174l-5 -4M125 58l16 0M125 58l0 18M141 58l6 13M147 71l-10 9M125 76l12 4M148 47l-7 11M124 57l1 1M116 82l9 -6M141 93l-4 -13M271 48l8 9M271 48l-22 6M249 54l12 19M279 57l0 3M279 60l-4 11M261 73l14 -2M300 33l3 5M272 39l-1 9M303 40l0 -2M303 40l-24 17M305 66l-2 1M305 66l5 -8M303 67l-24 -7M310 58l-7 -18M303 67l-12 17M275 71l6 13M281 84l10 0M305 66l10 17M315 83l-14 10M291 84l10 9M201 119l-16 13M177 127l3 -23M190 104l-10 0M159 110l18 -9M177 101l3 3M182 50l10 5M192 23l11 22M203 45l-11 10M244 58l-4 22M244 58l-22 1M240 80l-10 1M222 59l-4 11M230 81l-12 -11M217 45l-14 0M192 55l1 9M193 64l21 7M218 70l-4 1M244 58l5 -4M240 80l9 6M261 73l-8 13M253 86l-4 0M272 100l9 -16M272 100l-1 0M249 54l-5 -12M217 45l3 -3M220 42l24 0M257 26l-10 5M244 42l3 -11M261 14l-1 -2M260 12l10 -31M425 89l-14 7M425 89l6 20M411 96l-3 12M408 108l13 7M431 109l-10 6M426 86l-1 3M402 88l9 8M402 88l1 -13M403 75l6 -3M438 110l9 -9M438 110l-7 -1M396 124l2 -12M398 112l10 -4M421 133l0 -18M398 112l-11 -8M402 88l-12 6M390 94l-3 10M376 127l-2 -4M374 123l5 -18M387 104l-8 1M329 119l17 -4M351 129l0 -12M351 117l-5 -2M374 123l-23 -7M351 117l0 -1M368 100l11 5M368 100l-6 1M351 116l11 -15M462 12l-15 -3M447 9l1 -71M387 57l7 15M387 57l-15 6M372 63l2 17M394 72l-12 10M382 82l-8 -2M388 55l-1 2M388 55l23 -1M403 75l-9 -3M411 54l1 2M390 94l-8 -12M368 100l5 -19M373 81l1 -1M448 31l-2 -1M448 31l6 20M446 30l-13 5M454 51l-17 3M437 54l-6 -14M433 35l-2 5M447 9l-5 5M442 14l4 16M466 25l-18 6M458 53l-4 -2M433 60l4 -6M411 54l1 -11M524 213l-4 -2M505 235l-2 -19M520 211l-17 5M482 227l15 -14M497 213l6 3M534 190l-8 -6M520 211l-10 -23M526 184l-16 4M438 110l8 14M438 135l8 -11M462 101l3 2M465 103l-11 20M446 124l8 -1M458 166l0 -19M458 147l-15 -3M443 144l-8 19M435 163l10 8M438 135l5 9M417 184l10 6M445 171l0 16M445 187l-18 3M420 210l8 -3M427 190l1 17M438 224l2 -13M428 207l12 4M549 185l2 -5M551 180l50 -25M249 303l-2 -1M241 284l12 -10M269 295l2 -6M271 289l-18 -15M228 268l7 -11M235 257l20 7M277 130l-9 12M277 130l15 13M268 142l6 19M292 143l-4 13M288 156l-13 5M275 161l-1 0M300 165l-12 -9M301 140l-9 3M278 174l-3 -13M254 174l6 -10M260 164l14 -3M125 329l4 7M125 329l3 -9M128 320l25 -1M153 336l-24 0M153 336l3 -15M156 321l-3 -2M128 320l-4 -10M130 299l15 2M124 310l3 -8M153 319l-8 -18M59 254l6 2M68 279l-3 -23M68 279l2 2M90 265l-1 6M90 265l-15 -11M75 254l-10 2M89 271l-19 10M14 322l13 4M30 302l5 12M27 326l8 -12M47 293l10 7M57 300l-6 19M35 314l16 5M125 329l-19 3M129 336l-1 8M128 344l-13 8M106 332l-6 10M100 342l0 3M100 345l15 7M72 351l19 5M72 351l-7 17M65 368l8 26M73 394l19 -35M92 359l-1 -3M208 263l-21 4M208 263l0 -1M208 262l-14 -17M191 245l3 0M191 245l-11 9M213 270l-5 -7M187 275l0 -8M221 243l-13 19M221 243l-10 -10M230 244l1 1M230 244l4 -18M231 245l22 -6M253 239l-8 -16M221 243l9 1M235 257l-4 -12M222 215l12 11M210 228l1 5M254 240l-1 -1M262 257l0 1M262 258l-7 6M247 219l-2 4M418 253l-22 11M397 244l-3 17M394 261l2 3M435 286l1 -21M435 286l-5 4M430 290l-15 -10M427 261l-12 16M427 261l9 4M415 277l0 3M452 289l-17 -3M451 262l-15 3M441 309l-13 -12M428 297l2 -7M428 297l-11 9M417 306l-15 -12M402 294l13 -14M396 264l19 13M73 231l7 12M73 231l2 -3M75 228l18 -6M80 243l14 -3M94 240l-1 -18M61 234l12 -3M75 254l5 -11M69 212l6 16M102 245l-8 -5M102 259l-12 6M94 220l-3 -10M94 220l18 2M112 222l2 -16M95 203l-4 7M114 206l-6 -7M93 222l1 -2M117 227l-5 -5M132 203l-18 3M87 187l8 16M110 193l-2 6M165 235l-10 -10M165 235l18 -8M155 225l14 -14M169 211l17 8M183 227l3 -8M165 241l-11 10M165 241l0 -6M165 241l15 13M191 245l-8 -18M167 199l2 12M192 216l-6 3M135 254l4 12M114 264l3 9M117 273l12 6M139 266l-10 13M303 38l22 -4M326 32l-1 2M273 101l20 5M273 101l3 27M293 106l0 14M293 120l-16 9M276 128l1 1M301 101l-8 5M301 101l0 -8M314 109l-13 -8M277 130l0 -1M186 75l1 4M186 75l-22 -6M187 79l-12 16M175 95l-13 -9M162 86l-1 -15M161 71l3 -2M201 91l-14 -12M193 64l-7 11M214 71l-9 19M166 55l-2 14M201 91l-11 13M177 101l-2 -6M153 93l9 -7M147 71l14 0M208 142l5 -8M201 119l3 0M215 155l16 -7M213 134l12 -1M225 133l6 15M237 166l1 -15M231 148l7 3M260 164l-13 -17M238 151l9 -4M247 147l3 -4M225 93l-15 2M225 93l6 11M231 104l-9 9M210 95l2 17M212 112l10 1M230 81l-5 12M205 90l5 5M249 86l-8 19M204 119l8 -7M225 133l4 -6M229 127l-7 -14M253 113l5 10M245 110l-7 16M258 123l-9 12M249 135l-11 -9M271 100l-18 13M241 105l4 5M276 128l-18 -5M229 127l9 -1M250 143l-1 -8M220 42l0 -8M247 31l-11 -9M220 34l16 -12M192 23l17 -6M220 34l-11 -17M199 -9l12 23M362 101l-11 -13M338 96l13 -8M319 108l8 -15M338 96l-11 -3M373 81l-21 -1M352 80l-1 8M315 83l9 3M327 93l-3 -7M319 11l6 -2M341 27l-15 5M345 17l-20 -8M325 9l24 -39M497 213l-3 -9M510 188l-3 -1M507 187l-3 1M494 204l10 -16M474 223l5 -21M494 204l-15 -2M476 81l-2 17M497 80l-1 12M496 92l-13 8M483 100l-9 -2M474 98l-9 5M446 187l3 19M446 187l24 -1M473 196l0 -8M473 196l-18 12M455 208l-6 -2M470 186l3 2M445 187l1 0M440 211l9 -5M458 166l6 2M464 168l6 18M504 188l-18 -9M486 179l-13 9M479 202l-6 -6M460 218l-5 -10M271 289l8 -5M262 258l15 10M277 268l2 16M291 307l-2 2M279 284l13 2M157 321l24 8M165 309l19 -4M181 329l3 -24M156 321l1 0M158 290l7 19M158 290l-13 11M57 300l5 -1M70 281l0 4M20 348l1 1M27 326l2 7M29 333l-8 16M1 359l17 25M28 364l-2 -11M26 353l-5 -4M43 368l6 -4M49 364l-3 -15M139 358l-11 -14M139 358l-15 10M115 352l1 13M124 368l-8 -3M100 345l-9 11M116 365l-9 7M107 372l-29 133M257 318l-6 9M231 313l0 1M231 314l9 14M251 327l-11 1M231 314l-12 15M240 328l-8 15M232 343l-3 -1M229 342l-10 -13M237 349l-5 -6M213 350l16 -8M213 350l4 15M226 366l-9 -1M380 233l-5 7M394 261l-16 -6M375 240l3 15M322 215l12 9M352 214l0 2M334 224l18 -8M312 223l6 13M318 236l14 3M375 223l-21 -4M352 216l2 3M431 341l-3 3M428 344l-18 -18M433 321l-16 -5M417 316l-8 7M447 336l-16 5M437 319l-4 2M429 350l-1 -3M428 347l0 -3M400 349l10 -23M400 349l28 -2M417 306l0 10M405 366l-15 33M400 349l-1 1M167 266l2 18M167 266l-10 -3M157 263l-7 5M150 268l1 14M151 282l7 7M158 289l11 -5M170 285l-1 -1M179 258l-12 8M154 251l3 12M139 266l11 2M132 284l-3 -5M132 284l19 -2M130 299l2 -15M158 290l0 -1M186 303l-2 2M234 13l-14 -4M234 13l8 -9M242 4l-5 -394M211 14l9 -5M236 22l-2 -9M260 12l-18 -8M332 74l20 5M332 74l-2 -16M330 58l3 -3M356 62l-21 -8M335 54l-2 1M352 80l0 -1M324 86l8 -12M310 58l20 0M325 34l8 21M362 58l10 5M362 58l-6 4M363 40l-1 18M363 40l-15 -2M348 38l-7 -11M363 40l3 -3M388 55l-1 -11M387 44l-15 -9M366 37l6 -2M412 43l-4 -8M408 35l-9 -2M454 123l12 10M458 147l5 -3M463 144l3 -11M476 119l-11 -16M476 119l-7 13M469 132l-3 1M551 180l-12 -13M601 155l-57 3M544 158l-5 9M526 184l6 -15M296 227l3 18M318 236l-9 12M299 245l10 3M278 246l12 6M299 245l-9 7M277 268l14 -7M290 252l1 9M328 254l7 -12M328 254l-15 0M332 239l3 3M309 248l4 6M293 285l16 3M309 288l4 -18M297 267l13 -1M313 270l-3 -4M292 286l1 -1M291 261l6 6M361 286l1 25M361 286l-3 -1M362 311l-13 0M358 285l-20 12M328 254l6 17M313 270l20 2M334 271l-1 1M106 332l-7 -19M100 342l-18 -11M99 313l-16 13M53 323l-7 13M53 323l4 0M57 323l15 17M48 345l-2 -9M48 345l22 3M70 348l2 -8M51 319l2 4M29 333l17 3M62 299l12 9M74 308l-1 8M73 316l-16 7M82 331l-10 9M83 326l-10 -10M46 349l2 -4M72 351l-2 -3M256 339l-11 12M256 339l11 2M267 341l7 16M248 356l23 4M248 356l-3 -5M274 357l-3 3M251 327l5 12M237 349l8 2M275 330l-8 11M290 343l-14 14M276 357l-2 0M271 361l0 -1M271 361l-26 33M245 393l3 -37M226 366l19 27M200 349l6 -2M200 349l-17 -13M206 347l3 -19M183 333l22 -9M183 333l0 3M205 324l4 4M213 350l-7 -3M219 329l-10 -1M204 314l1 10M181 329l2 4M153 336l4 11M157 347l26 -11M124 368l22 54M389 275l-15 7M389 275l13 19M374 282l12 22M402 294l-12 10M390 304l-4 0M396 264l-7 11M371 281l3 1M371 281l-3 -18M378 255l-10 8M406 323l3 0M406 323l-16 -19M339 243l15 -9M339 243l13 16M352 259l4 -1M356 258l6 -17M335 242l4 1M354 219l0 15M344 270l-10 1M344 270l8 -11M361 286l10 -5M368 263l-12 -5M358 285l-14 -15M375 240l-13 1M311 292l18 2M311 292l-6 15M324 315l6 -20M324 315l-12 2M329 294l1 1M312 317l-7 -10M309 288l2 4M333 272l-4 22M291 307l14 0M336 326l13 -15M336 326l-12 -11M338 297l-8 -2M306 328l-2 1M306 328l6 -11M390 399l-15 -39M399 350l-3 -1M396 349l-21 11M294 343l8 9M276 357l18 8M302 352l-8 13M306 328l10 10M302 352l13 1M336 326l1 5M316 338l21 -7M294 365l1 3M285 390l10 -22M352 -14l-6 30M352 -14l19 24M371 10l-14 9M346 16l11 3M345 17l1 -1M366 37l-9 -18M431 12l-7 11M431 12l-4 -6M427 6l-21 -2M424 23l-9 1M415 24l-10 -19M406 4l-1 1M442 14l-11 -2M433 35l-9 -12M463 -473l-57 477M402 6l-19 -6M392 21l-12 -1M375 10l5 10M399 33l-7 -12M405 5l-3 1M353 -225l30 225M372 35l8 -15M371 10l4 0M485 148l-9 4M486 170l-12 -7M486 170l12 -13M474 163l2 -11M484 138l1 10M484 138l-15 -6M463 144l13 8M464 168l10 -5M486 179l0 -9M476 119l17 1M484 138l11 -12M495 126l-2 -6M483 100l10 16M493 116l0 4M496 92l11 11M493 116l14 -13M515 84l0 19M507 103l8 0M495 126l11 18M498 157l1 -1M506 144l-7 12M507 187l2 -23M532 169l-11 -8M521 161l-12 3M509 164l-10 -8M100 312l6 -23M100 312l-1 1M99 313l-14 -11M95 285l-10 10M95 285l11 4M85 295l0 7M124 310l-24 2M127 302l-21 -13M74 308l11 -6M89 271l6 14M70 285l15 10M117 273l-11 16M208 372l-8 56M208 372l-12 -11M196 361l-14 4M200 349l-4 12M183 336l-5 27M178 363l4 2M152 394l22 -30M152 394l-6 -35M174 364l-18 -13M146 359l10 -8M178 363l-4 1M139 358l7 1M157 347l-1 4M362 311l2 2M386 304l-8 8M378 312l-14 1M406 323l-21 7M378 312l7 18M396 349l-11 -18M385 330l0 1M315 353l3 3M295 368l13 3M537 99l-3 4M515 103l5 4M534 103l-14 4M534 103l12 19M546 122l-2 9M337 331l1 1M318 356l15 -4M338 332l-5 20M518 122l1 -1M518 122l0 19M519 121l24 10M524 145l-6 -4M524 145l13 -3M537 142l6 -11M495 126l23 -4M520 107l-1 14M506 144l12 -3M544 131l-1 0M521 161l3 -16M544 158l-7 -16M318 359l15 22M333 352l10 8M343 360l-10 21M308 371l27 90M358 366l-11 -6M358 366l16 -6M347 360l10 -22M374 360l-8 -18M366 342l-7 -4M359 338l-2 0M343 360l4 0M339 493l19 -127M375 360l-1 0M338 332l19 6M385 331l-19 11M364 313l-5 25" stroke="#f6b4da" stroke-width="1.2" stroke-linecap="round" fill="none" stroke-opacity="0.4"/>
<path d="M9 141l-265 -13M15 293l-15 8M-20 175l34 -18M-14 55l22 21M26 11l-4 15M-36 337l41 -23M1 359l19 -11M44 268l-7 0M15 275l15 -1M22 205l15 9M207 197l9 3M218 172l-12 9M164 171l-2 1M159 110l-2 5M74 128l7 0M66 133l-18 -7M50 76l21 0M46 89l-20 1M64 54l11 11M90 85l11 -12M58 7l2 15M60 22l6 3M49 5l9 2M105 10l10 13M536 274l13 0M411 236l7 17M402 185l10 2M337 183l6 13M530 328l9 6M198 160l16 -2M129 33l2 4M177 127l8 5M20 100l17 8M501 77l-2 0M372 162l-9 1M363 163l-15 -9M28 59l6 -7M463 52l7 -8M508 39l-15 -9M498 273l12 4M521 240l-4 -3M316 217l-4 6M278 246l-16 11M301 174l2 2M526 350l2 7M382 203l-7 20M269 319l6 11M469 357l-8 -8M461 309l-7 -6M117 227l20 -16M100 173l15 -3M86 143l14 5M74 163l21 3M99 177l-12 10M201 119l-11 -15M222 59l-5 -14M253 86l18 14M284 9l-14 -28M454 75l1 0M412 43l19 -3M421 133l17 2M458 166l-13 5M427 164l8 -1M253 274l2 -10M130 299l-3 3M52 279l16 0M187 267l-8 -9M180 254l-1 4M211 233l-17 12M234 226l11 -3M425 257l2 4M95 203l13 -4M75 207l16 3M149 224l6 1M142 248l12 3M317 11l2 0M319 11l7 21M272 100l1 1M305 126l-12 -6M201 91l4 -1M213 134l-9 -15M268 142l-18 1M241 105l-10 -1M253 113l-8 -3M209 17l2 -3M346 115l-8 -19M341 27l4 -10M291 307l1 -21M157 321l8 -12M62 299l8 -14M26 353l20 -4M92 359l15 13M49 364l16 4M237 349l-11 17M334 224l-2 15M431 341l2 -20M409 323l1 3M420 365l-15 1M405 366l-6 -16M220 9l16 -419M356 62l-4 17M348 38l-13 16M387 44l12 -11M532 169l7 -2M293 285l4 -18M313 254l-3 12M349 311l-11 -14M82 331l1 -5M362 241l-8 -7M316 338l-1 15M271 361l14 29M448 -62l-21 68M408 35l7 -11M402 6l-10 15M383 0l-8 10M485 148l13 9M200 428l-18 -63M217 365l-9 7M308 371l10 -12M318 359l0 -3M577 96l-31 26M608 153l-64 -22" stroke="#fbd3e8" stroke-width="1.92" stroke-linecap="round" fill="none" stroke-opacity="0.7"/>
<rect width="556" height="372.5" filter="url(#he1nr)" opacity="0.75"/>
<ellipse cx="60" cy="110" rx="170" ry="150" fill="#a060c0" opacity="0.12"/>
<ellipse rx="15" ry="40" transform="translate(311 152) rotate(32)" fill="#f3e9ea"/>
<ellipse rx="8" ry="22" transform="translate(318 140) rotate(32)" fill="#ee9cc0" opacity="0.6"/>
<ellipse rx="27" ry="10" transform="translate(407 188) rotate(22)" fill="#f7c6dd"/>
<path d="M238 364h0M280 258h0M342 230h0M475 173h0M268 241h0M463 250h0M498 284h0M114 146h0M330 194h0M132 225h0M551 229h0M441 298h0M293 130h0M151 240h0M59 270h0M367 22h0M45 218h0M484 214h0M218 186h0M366 251h0M24 261h0M561 317h0M544 196h0M114 126h0M319 71h0M141 31h0M80 218h0M538 320h0M87 72h0M141 328h0M433 120h0M171 141h0M384 118h0M45 185h0M135 49h0M490 10h0M429 148h0M515 72h0M171 113h0M516 355h0M321 262h0M471 266h0M16 364h0M2 290h0M205 168h0M364 73h0M545 303h0M122 213h0M102 87h0M95 297h0M436 98h0M15 33h0M64 201h0M467 156h0M358 355h0M303 276h0M363 128h0M126 357h0M215 339h0M163 98h0M74 51h0M233 34h0M11 214h0M200 337h0M35 374h0M195 373h0M331 21h0M187 115h0M494 102h0M169 186h0M289 95h0M412 159h0M285 114h0M537 349h0M519 173h0M331 363h0M312 96h0M129 265h0M74 30h0M251 209h0M364 175h0M101 21h0M551 3h0M68 242h0M6 63h0M158 21h0M333 107h0M67 15h0M361 152h0M178 240h0M524 272h0M358 9h0M207 58h0M466 120h0M558 19h0M179 62h0M494 377h0M543 212h0M130 134h0M387 246h0M507 115h0M120 197h0M59 337h0M290 72h0M548 109h0M71 185h0M133 109h0M18 130h0M389 289h0M180 174h0M510 375h0M542 285h0M458 3h0M33 82h0M352 299h0M398 334h0M94 136h0M112 182h0M402 280h0M436 198h0M117 10h0M524 91h0M428 276h0M11 -1h0M471 375h0M558 207h0M365 231h0M430 310h0M118 378h0M485 315h0M480 128h0M247 17h0M223 257h0M509 28h0M494 142h0M37 134h0M220 376h0M54 139h0M282 220h0M560 122h0M-6 75h0M150 83h0M387 219h0M43 254h0M459 38h0M194 186h0M520 44h0M505 264h0M267 174h0M51 17h0M432 366h0M223 21h0M136 67h0M337 38h0M111 302h0M226 161h0M79 365h0M58 31h0M287 272h0M477 54h0M351 166h0M179 205h0M-5 -6h0M289 240h0M443 42h0M291 354h0M301 257h0M274 201h0M165 255h0M185 -2h0M551 247h0M405 174h0M382 344h0M338 5h0M239 268h0M119 288h0M433 179h0M510 133h0M46 305h0M219 143h0M295 55h0M488 331h0M281 319h0M415 375h0M472 10h0M319 45h0M444 277h0M173 42h0M32 21h0M317 373h0M75 143h0M70 326h0M514 152h0M83 284h0M526 132h0M420 -2h0M290 202h0M488 362h0M323 -4h0M400 63h0M-5 250h0M106 -2h0M237 136h0M453 363h0M233 50h0M525 11h0M531 156h0M152 161h0M248 123h0M39 64h0M5 46h0M102 275h0M404 21h0M-6 20h0M454 136h0M413 265h0M94 373h0M357 198h0M256 288h0M85 175h0M267 83h0M245 337h0M556 51h0M448 221h0M551 147h0M212 -1h0M413 340h0M446 378h0M509 2h0M223 354h0M498 45h0M61 120h0M552 168h0M259 350h0M479 241h0M369 213h0M220 101h0M65 224h0M392 319h0M26 288h0M231 202h0M190 40h0M450 111h0M38 326h0M358 270h0M477 285h0M143 291h0M552 365h0M508 248h0M207 359h0M349 99h0M11 172h0M264 63h0M557 71h0M79 91h0M425 49h0M77 114h0M325 228h0M255 0h0M208 213h0M534 -6h0M22 315h0M140 311h0M474 340h0M475 143h0M36 342h0M3 325h0M315 305h0M440 330h0M363 88h0M129 90h0M60 156h0M58 287h0M420 102h0M529 229h0M279 185h0M524 300h0M465 85h0M299 317h0M270 376h0M64 311h0M260 133h0M383 71h0M167 334h0M115 249h0M439 234h0M510 308h0M47 111h0M225 229h0M454 19h0M562 278h0M559 260h0M481 111h0M147 176h0M507 205h0M83 0h0M439 78h0M142 275h0M393 83h0M99 191h0M422 33h0M302 114h0M449 316h0M192 319h0M321 246h0M283 297h0M95 328h0M335 214h0M176 15h0M233 116h0M139 -2h0M351 323h0M264 309h0M-5 203h0M159 274h0M18 333h0M170 298h0M284 369h0M155 145h0M0 131h0M194 257h0M7 192h0M173 349h0M386 31h0M392 364h0M348 372h0M337 311h0M128 20h0M115 98h0M539 180h0M544 38h0M450 90h0M101 115h0M414 356h0M399 46h0M57 356h0M83 314h0M160 367h0M112 321h0M488 192h0M419 199h0M373 -3h0M6 239h0M299 298h0M488 268h0M241 233h0M93 35h0M534 61h0M271 5h0M-1 150h0M188 352h0M37 204h0M306 0h0M226 279h0M145 200h0M83 198h0M459 194h0M128 182h0M51 374h0M387 134h0M520 321h0M61 64h0M408 143h0M447 62h0M89 250h0M233 67h0M466 65h0M254 101h0M23 69h0M217 318h0M406 250h0M196 232h0M103 232h0M499 62h0M365 374h0M218 124h0M202 104h0M28 113h0M320 327h0M458 178h0M338 128h0M286 42h0M477 34h0M131 243h0M527 253h0M203 150h0M207 32h0M428 218h0M375 50h0M558 332h0M106 359h0M10 304h0M469 210h0M202 134h0M294 17h0M171 157h0M437 3h0M235 93h0M270 24h0M438 251h0M288 169h0M251 71h0M173 82h0M261 152h0M352 246h0M495 226h0M374 188h0M305 362h0M54 49h0M371 298h0M368 112h0M255 226h0M262 329h0M11 116h0M349 141h0M35 236h0M6 262h0M146 259h0M307 237h0M188 156h0M445 346h0M149 104h0M238 178h0M417 293h0M188 93h0M419 13h0M22 50h0M87 154h0M422 67h0M507 91h0" stroke="#8459b9" stroke-width="7.2" stroke-linecap="round" fill="none" stroke-opacity="0.82"/>
<path d="M238 364h0M280 258h0M342 230h0M475 173h0M268 241h0M463 250h0M498 284h0M114 146h0M330 194h0M132 225h0M551 229h0M441 298h0M293 130h0M151 240h0M59 270h0M367 22h0M45 218h0M484 214h0M218 186h0M366 251h0M24 261h0M561 317h0M544 196h0M114 126h0M319 71h0M141 31h0M80 218h0M538 320h0M87 72h0M141 328h0M433 120h0M171 141h0M384 118h0M45 185h0M135 49h0M490 10h0M429 148h0M515 72h0M171 113h0M516 355h0M321 262h0M471 266h0M16 364h0M2 290h0M205 168h0M364 73h0M545 303h0M122 213h0M102 87h0M95 297h0M436 98h0M15 33h0M64 201h0M467 156h0M358 355h0M303 276h0M363 128h0M126 357h0M215 339h0M163 98h0M74 51h0M233 34h0M11 214h0M200 337h0M35 374h0M195 373h0M331 21h0M187 115h0M494 102h0M169 186h0M289 95h0M412 159h0M285 114h0M537 349h0M519 173h0M331 363h0M312 96h0M129 265h0M74 30h0M251 209h0M364 175h0M101 21h0M551 3h0M68 242h0M6 63h0M158 21h0M333 107h0M67 15h0M361 152h0M178 240h0M524 272h0M358 9h0M207 58h0M466 120h0M558 19h0M179 62h0M494 377h0M543 212h0M130 134h0M387 246h0M507 115h0M120 197h0M59 337h0M290 72h0M548 109h0M71 185h0M133 109h0M18 130h0M389 289h0M180 174h0M510 375h0M542 285h0M458 3h0M33 82h0M352 299h0M398 334h0M94 136h0M112 182h0M402 280h0M436 198h0M117 10h0M524 91h0M428 276h0M11 -1h0M471 375h0M558 207h0M365 231h0M430 310h0M118 378h0M485 315h0M480 128h0M247 17h0M223 257h0M509 28h0M494 142h0M37 134h0M220 376h0M54 139h0M282 220h0M560 122h0M-6 75h0M150 83h0M387 219h0M43 254h0M459 38h0M194 186h0M520 44h0M505 264h0M267 174h0M51 17h0M432 366h0M223 21h0M136 67h0M337 38h0M111 302h0M226 161h0M79 365h0M58 31h0M287 272h0M477 54h0M351 166h0M179 205h0M-5 -6h0M289 240h0M443 42h0M291 354h0M301 257h0M274 201h0M165 255h0M185 -2h0M551 247h0M405 174h0M382 344h0M338 5h0M239 268h0M119 288h0M433 179h0M510 133h0M46 305h0M219 143h0M295 55h0M488 331h0M281 319h0M415 375h0M472 10h0M319 45h0M444 277h0M173 42h0M32 21h0M317 373h0M75 143h0M70 326h0M514 152h0M83 284h0M526 132h0M420 -2h0M290 202h0M488 362h0M323 -4h0M400 63h0M-5 250h0M106 -2h0M237 136h0M453 363h0M233 50h0M525 11h0M531 156h0M152 161h0M248 123h0M39 64h0M5 46h0M102 275h0M404 21h0M-6 20h0M454 136h0M413 265h0M94 373h0M357 198h0M256 288h0M85 175h0M267 83h0M245 337h0M556 51h0M448 221h0M551 147h0M212 -1h0M413 340h0M446 378h0M509 2h0M223 354h0M498 45h0M61 120h0M552 168h0M259 350h0M479 241h0M369 213h0M220 101h0M65 224h0M392 319h0M26 288h0M231 202h0M190 40h0M450 111h0M38 326h0M358 270h0M477 285h0M143 291h0M552 365h0M508 248h0M207 359h0M349 99h0M11 172h0M264 63h0M557 71h0M79 91h0M425 49h0M77 114h0M325 228h0M255 0h0M208 213h0M534 -6h0M22 315h0M140 311h0M474 340h0M475 143h0M36 342h0M3 325h0M315 305h0M440 330h0M363 88h0M129 90h0M60 156h0M58 287h0M420 102h0M529 229h0M279 185h0M524 300h0M465 85h0M299 317h0M270 376h0M64 311h0M260 133h0M383 71h0M167 334h0M115 249h0M439 234h0M510 308h0M47 111h0M225 229h0M454 19h0M562 278h0M559 260h0M481 111h0M147 176h0M507 205h0M83 0h0M439 78h0M142 275h0M393 83h0M99 191h0M422 33h0M302 114h0M449 316h0M192 319h0M321 246h0M283 297h0M95 328h0M335 214h0M176 15h0M233 116h0M139 -2h0M351 323h0M264 309h0M-5 203h0M159 274h0M18 333h0M170 298h0M284 369h0M155 145h0M0 131h0M194 257h0M7 192h0M173 349h0M386 31h0M392 364h0M348 372h0M337 311h0M128 20h0M115 98h0M539 180h0M544 38h0M450 90h0M101 115h0M414 356h0M399 46h0M57 356h0M83 314h0M160 367h0M112 321h0M488 192h0M419 199h0M373 -3h0M6 239h0M299 298h0M488 268h0M241 233h0M93 35h0M534 61h0M271 5h0M-1 150h0M188 352h0M37 204h0M306 0h0M226 279h0M145 200h0M83 198h0M459 194h0M128 182h0M51 374h0M387 134h0M520 321h0M61 64h0M408 143h0M447 62h0M89 250h0M233 67h0M466 65h0M254 101h0M23 69h0M217 318h0M406 250h0M196 232h0M103 232h0M499 62h0M365 374h0M218 124h0M202 104h0M28 113h0M320 327h0M458 178h0M338 128h0M286 42h0M477 34h0M131 243h0M527 253h0M203 150h0M207 32h0M428 218h0M375 50h0M558 332h0M106 359h0M10 304h0M469 210h0M202 134h0M294 17h0M171 157h0M437 3h0M235 93h0M270 24h0M438 251h0M288 169h0M251 71h0M173 82h0M261 152h0M352 246h0M495 226h0M374 188h0M305 362h0M54 49h0M371 298h0M368 112h0M255 226h0M262 329h0M11 116h0M349 141h0M35 236h0M6 262h0M146 259h0M307 237h0M188 156h0M445 346h0M149 104h0M238 178h0M417 293h0M188 93h0M419 13h0M22 50h0M87 154h0M422 67h0M507 91h0" stroke="#b58fd4" stroke-width="3.2" stroke-linecap="round" fill="none" stroke-opacity="0.55"/>
<path d="M450 156h0M425 242h0M532 118h0M29 152h0M231 298h0M4 344h0M533 27h0M114 68h0M127 166h0M326 344h0M75 268h0M469 320h0M561 186h0M248 162h0M244 318h0M379 266h0M396 234h0M268 275h0M16 17h0M379 92h0M61 89h0M155 304h0M317 203h0M228 0h0M16 87h0M525 197h0M343 285h0M343 348h0M41 164h0M135 371h0M86 19h0M279 147h0M353 29h0M0 375h0M484 73h0M411 86h0M98 53h0M506 329h0M404 309h0M39 359h0M115 340h0M339 256h0M457 334h0M34 98h0M246 251h0M122 -5h0M463 229h0M388 10h0M162 -1h0M205 300h0M349 184h0M542 263h0M120 43h0M412 217h0M400 97h0M486 89h0M512 224h0M424 328h0M320 280h0M36 6h0M547 88h0M25 185h0M303 212h0M434 23h0M85 343h0M74 297h0M372 327h0M301 377h0M140 148h0M207 247h0M173 317h0M483 159h0M302 81h0M176 272h0M493 300h0M51 235h0M198 6h0M85 233h0M175 378h0M229 328h0M316 27h0M256 366h0M350 49h0M527 369h0M343 68h0M151 59h0M141 344h0M36 40h0M56 -5h0M3 98h0M218 86h0M237 216h0M257 186h0M158 210h0M265 116h0M409 121h0M466 296h0M339 84h0M28 218h0M170 222h0M149 127h0M393 -5h0M197 273h0M184 286h0M107 160h0M306 342h0M497 172h0M288 -3h0M463 280h0M499 348h0M525 338h0M279 342h0M201 77h0M-5 310h0M42 282h0M157 38h0M105 211h0M291 331h0M385 155h0M257 39h0" stroke="#4f349c" stroke-width="4.6" stroke-linecap="round" fill="none" stroke-opacity="0.95"/>
</g></g>
<g transform="translate(1037 1043)"><g clip-path="url(#cl1)">
<rect width="556" height="372" filter="url(#he2n)"/>
<path d="M298 393l3 -31M298 393l-23 -29M301 362l-12 -9M289 353l-14 11M-129 53l133 32M-24 48l41 16M17 64l1 6M4 85l14 -15M659 66l-105 -42M550 7l4 17M540 34l14 -10M540 34l15 18M555 52l72 16M202 275l-4 12M202 275l20 -6M224 277l-2 -8M224 277l-4 13M198 287l7 5M220 290l-15 2M289 353l-1 -12M275 364l-9 0M288 341l-30 -2M258 339l8 25M248 386l18 -22M8 239l-41 6M8 239l7 9M15 248l-7 14M-33 245l41 17M8 239l5 -15M13 224l-1 -3M12 221l-130 8M137 400l-5 -45M132 355l-8 -5M124 350l-3 2M121 352l-25 48M1396 81l-845 38M551 119l-4 8M547 127l8 15M1054 136l-499 6M551 119l-3 -10M548 109l42 -31M164 128l-5 6M164 128l13 13M159 134l-3 20M156 154l19 3M177 141l-2 16M118 235l13 -15M118 235l-16 -14M131 220l-11 -9M250 69l20 -10M250 69l3 18M275 76l-5 -17M275 76l-2 6M273 82l-20 5M187 257l15 18M187 257l9 -8M222 269l1 -4M223 265l-9 -12M196 249l18 4M223 265l12 -5M235 260l8 -13M243 247l-1 -2M242 245l-19 -11M169 178l12 10M164 178l-13 17M181 188l2 5M183 193l-11 14M151 195l13 12M164 207l8 0M141 194l-3 26M141 194l10 1M146 226l-8 -6M146 226l1 0M104 334l-19 -1M104 334l2 12M106 346l-9 11M97 357l-15 -16M82 341l3 -8M124 350l3 -13M110 328l17 9M110 328l-6 6M121 352l-15 -6M96 400l1 -43M179 223l-10 12M147 226l20 10M167 236l2 -1M119 241l12 10M119 241l-1 -6M146 226l-6 17M140 243l-9 8M167 236l-9 15M140 243l18 8M185 258l-5 4M185 258l-16 -23M180 262l-21 -7M158 251l1 4M187 257l-2 1M198 287l-13 3M180 262l-7 16M173 278l12 12M124 314l-14 12M124 314l-14 -19M110 326l-9 -14M135 315l-2 19M135 315l-11 -1M110 328l0 -2M127 337l6 -3M137 400l21 -40M190 398l-22 -39M158 360l10 -1M132 355l18 -6M158 360l-8 -11M133 334l17 7M150 349l0 -8M313 44l-1 3M313 44l21 2M334 46l3 22M337 68l-14 0M312 47l11 21M310 37l-26 3M310 37l3 7M284 40l-3 10M281 50l16 11M312 47l-15 14M301 362l17 -10M321 498l12 -126M333 372l-15 -20M201 478l15 -116M190 398l6 -40M216 362l-7 -6M209 356l-13 2M168 359l4 -2M172 357l22 0M194 357l2 1M219 320l13 2M219 320l-2 -10M217 310l9 -10M232 322l6 -9M238 313l-5 -12M226 300l7 1M220 290l6 10M205 292l0 13M205 305l12 5M224 277l24 12M248 289l-15 12M258 338l-23 23M258 338l-22 -5M228 341l8 -8M228 341l7 20M258 338l0 1M248 386l-13 -25M258 338l3 -19M232 322l4 11M238 313l19 2M257 315l4 4M209 331l5 9M209 331l10 -11M214 340l14 1M216 362l19 -1M214 340l-5 16M340 168l-12 -20M343 136l-15 12M343 136l11 23M354 159l-2 5M366 179l-14 -15M366 179l16 -20M354 159l19 -12M373 147l9 12M4 85l6 10M-11 118l21 -23M165 120l-1 8M165 120l-21 -6M137 134l-1 -7M144 114l-8 13M65 241l0 12M65 241l-16 -11M65 253l-6 3M59 256l-22 -10M49 230l-12 16M13 224l12 5M15 248l14 -3M25 229l4 16M50 273l9 -17M50 273l-17 -8M33 265l0 -18M33 247l4 -1M8 262l5 13M-84 311l94 -32M33 265l-15 10M29 245l4 2M18 275l-5 0M50 275l-14 18M50 275l0 -2M18 275l18 18M72 381l-6 -29M82 341l-15 10M67 351l-1 1M-7 360l18 -21M-5 316l16 23M43 353l23 -1M43 353l0 -19M67 351l-11 -20M56 331l-13 3M50 275l12 8M62 283l-6 24M36 293l0 3M36 296l13 10M72 9l7 13M72 9l19 -10M79 22l18 -1M97 21l-6 -22M68 8l4 1M104 -27l-13 26M-24 48l33 -11M17 64l4 -10M9 37l12 17M9 37l8 -12M310 37l3 -14M282 35l2 5M282 35l10 -17M313 23l-7 -6M292 18l14 -1M540 34l-1 0M550 7l-2 -1M548 6l-20 17M528 23l11 11M539 104l1 -10M539 104l-11 6M528 110l-16 -15M532 87l-20 8M532 87l8 7M548 109l-9 -5M563 81l-23 13M534 72l29 9M534 72l-2 15M21 119l-11 -23M21 119l18 -10M10 96l23 -4M39 109l-6 -17M18 70l15 6M10 95l0 1M33 76l2 9M33 92l2 -7M76 259l18 -14M76 259l4 12M80 271l13 1M93 272l10 -15M103 257l-3 -8M100 249l-6 -4M79 226l10 0M79 226l-14 15M89 226l5 19M65 253l11 6M75 281l-13 2M75 281l5 -10M110 288l0 2M110 288l-17 -16M75 281l7 14M110 290l-28 5M110 288l8 -22M118 266l-15 -9M118 266l13 -7M119 241l-19 8M131 259l0 -8M89 226l7 -6M96 220l6 1M143 154l8 3M151 157l0 10M151 167l-10 8M141 175l-19 -8M123 161l-1 6M136 135l1 -1M136 135l7 19M176 158l-1 -1M176 158l-7 20M164 178l-13 -11M141 194l0 -19M104 171l15 -1M104 171l-6 19M119 170l2 23M98 190l2 4M100 194l20 0M121 193l-1 1M141 194l-20 -1M122 167l-3 3M96 220l-1 -17M120 211l0 -17M95 203l5 -9M290 164l19 9M290 164l3 -20M293 144l19 1M313 172l-4 1M313 172l3 -24M316 148l-4 -3M328 148l-12 0M324 179l13 -5M324 179l-11 -7M345 130l-26 -14M345 130l-2 6M319 116l-7 29M192 194l-9 -1M192 194l19 -11M211 183l-3 -13M181 188l10 -19M208 170l-17 -1M176 158l7 1M183 159l8 10M210 167l-4 -19M183 159l17 -13M206 148l-6 -2M177 141l16 -5M200 146l-7 -10M171 114l13 0M171 114l-6 6M193 136l1 -15M184 114l9 -26M193 88l16 9M194 121l5 -2M199 119l12 -13M209 97l2 9M206 148l13 -8M199 119l18 10M219 140l-2 -11M284 170l6 -6M284 170l-20 -11M264 159l23 -20M319 116l-1 -3M303 112l-18 22M285 134l2 5M192 226l9 -18M192 226l4 5M201 208l19 0M220 208l1 16M221 224l-1 3M192 194l9 14M179 223l13 3M196 249l0 -18M223 234l-3 -7M211 183l17 11M228 194l-8 14M242 245l7 -23M159 255l-10 16M173 278l-14 4M159 282l-10 -11M131 259l10 10M141 269l8 2M110 288l19 2M141 269l-12 21M337 68l23 -11M337 68l2 8M339 76l20 6M360 57l7 18M359 82l8 -7M543 253l19 11M543 253l-12 5M531 258l12 20M562 264l-19 14M623 257l-76 -18M547 239l-4 14M288 341l0 -1M318 352l-6 -12M312 340l-24 0M272 316l-11 3M272 316l18 6M288 340l2 -18M203 329l-12 9M203 329l-8 -15M187 312l8 2M187 312l-13 16M191 338l-15 -4M174 328l0 4M176 334l-2 -2M209 331l-6 -2M194 357l-3 -19M205 305l-10 9M182 303l3 -13M182 303l5 9M172 357l4 -23M150 341l1 -2M151 339l23 -7M266 287l-12 2M266 287l9 -17M251 274l1 14M251 274l12 -13M252 288l2 1M263 261l12 9M272 316l7 -21M279 295l-13 -8M257 315l-3 -26M235 260l16 14M248 289l4 -1M243 247l18 3M261 250l2 11M462 237l0 -4M462 237l-18 10M444 247l-14 -10M430 234l0 3M430 234l9 -10M439 224l23 9M333 372l17 -15M318 352l21 -14M350 357l-11 -19M350 357l12 0M373 147l0 -5M373 142l-28 -12M335 95l22 12M335 95l-9 4M326 99l-8 14M345 130l12 -23M378 91l-1 -13M359 82l1 24M367 75l10 3M363 107l-3 -1M339 76l-4 19M357 107l3 -1M398 136l9 -22M398 136l-21 1M377 117l0 20M377 117l22 -6M399 111l8 3M382 159l8 3M402 143l-4 -7M402 143l-5 16M373 142l4 -5M363 107l14 10M378 91l15 4M393 95l6 16M402 143l14 1M397 159l9 3M406 162l16 -8M416 144l6 10M-58 191l69 -16M-58 191l66 9M8 200l7 -11M11 175l4 14M-118 192l126 -36M15 168l-7 -12M15 168l-4 7M12 221l2 -11M14 210l-6 -10M26 354l-25 8M26 354l8 6M34 363l0 -3M34 363l-8 20M26 383l-25 -21M-7 360l8 2M22 340l-11 -1M22 340l4 14M43 353l-9 7M31 327l-9 13M31 327l1 0M32 327l11 7M72 381l-38 -18M27 302l-14 -3M27 302l-4 17M23 319l-26 -3M13 299l-16 17M10 279l3 20M36 296l-9 6M31 327l-8 -8M49 306l-17 21M62 320l19 4M58 309l23 -10M81 299l7 15M81 324l7 -10M56 331l6 -11M56 307l2 2M85 333l-4 -9M82 295l-1 4M110 290l0 5M101 312l-13 2M115 17l-6 8M115 17l20 -5M137 35l5 -19M114 34l-5 -9M97 21l5 3M104 -27l11 44M102 24l7 1M112 -71l23 83M170 -64l-21 78M149 14l-7 2M36 35l-15 -10M36 35l9 -8M45 27l-3 -19M21 25l18 -20M39 5l3 3M17 25l4 0M21 54l17 -7M38 47l-2 -12M63 11l-6 17M57 28l-12 -1M68 8l-5 3M171 114l-6 -17M193 88l-3 -9M165 97l25 -18M144 114l-2 -4M142 110l7 -14M149 96l14 0M165 97l-2 -1M111 52l3 -18M111 52l24 7M137 35l5 9M135 59l7 -15M282 -119l-29 120M288 -86l-6 95M253 1l15 17M268 18l14 -9M292 18l-10 -9M282 35l-15 -10M267 25l1 -7M334 46l2 -3M313 23l9 -3M336 43l-2 -18M334 25l-12 -5M292 -73l34 76M548 6l-11 -22M528 23l-5 -2M523 21l-2 -10M336 43l21 -1M360 57l0 -1M358 43l-1 -1M334 25l15 -5M357 42l-8 -22M1054 136l-502 30M555 142l-8 9M547 151l5 15M547 127l-21 0M526 127l10 24M547 151l-11 0M514 142l11 -15M514 142l-18 1M498 128l11 -7M498 128l-2 14M509 121l16 5M496 143l0 -1M525 126l0 1M486 114l12 14M486 114l10 -14M503 100l-7 0M503 100l6 21M473 118l13 -4M473 118l-4 8M469 126l1 3M470 129l26 13M503 100l9 -5M528 110l-3 16M470 129l-2 19M495 146l1 -3M495 146l-21 9M474 155l-6 -7M526 127l-1 0M170 -64l4 70M149 14l8 3M79 22l-5 15M102 24l-15 18M87 42l-13 -5M57 28l9 12M74 37l-8 3M79 135l-15 2M79 135l-2 -20M51 123l13 14M51 116l26 -1M39 109l8 2M55 87l-20 -2M55 87l3 8M47 111l11 -16M119 143l-12 -17M119 143l-1 7M118 150l-24 2M107 126l-21 14M94 152l-8 -11M86 140l0 1M136 135l-17 8M108 121l8 -6M108 121l-1 5M123 161l-5 -11M95 164l-1 -12M95 164l9 7M317 71l-19 -5M317 71l-4 15M313 86l-14 1M299 87l-5 -11M294 76l4 -10M323 68l-6 3M297 61l1 5M326 99l-13 -13M303 112l-10 -12M293 100l6 -13M275 76l19 0M273 82l7 18M280 100l13 0M281 50l-11 7M270 59l0 -2M249 222l1 -1M228 194l2 0M230 194l15 5M245 199l7 11M250 221l2 -11M282 179l14 12M282 179l-12 7M270 186l8 23M296 192l-7 13M296 192l0 -1M289 205l-11 4M284 170l-2 9M309 173l-13 18M245 199l15 -15M260 184l10 2M252 210l26 -1M227 144l10 -3M227 144l0 19M227 163l10 6M237 169l17 -7M254 162l0 -1M210 167l17 -4M219 140l8 4M230 194l7 -25M260 184l-6 -22M264 159l-7 1M257 160l-3 1M211 106l10 3M217 129l8 -9M221 109l4 11M165 304l-9 -12M165 304l-4 12M156 292l-16 7M161 316l-10 3M151 319l-13 -6M138 313l2 -14M182 303l-17 1M159 282l-3 10M174 328l-13 -12M129 290l11 9M151 339l0 -20M135 315l3 -2M470 253l-8 -16M470 253l-3 10M444 247l0 19M444 266l21 -1M467 263l-2 2M547 321l-9 -5M547 321l72 -21M538 316l20 -21M555 340l-8 -19M555 340l-6 5M549 345l-19 -9M530 336l-1 -10M529 326l8 -10M537 316l1 0M543 278l-2 5M541 283l17 12M392 181l16 4M392 181l-7 6M385 187l3 19M388 206l21 -5M409 201l-1 -16M414 180l-8 -18M414 180l-6 5M366 179l1 4M367 183l18 4M337 174l10 15M367 183l-3 4M347 189l17 -2M296 237l-12 12M296 237l-17 -12M284 249l-19 -3M279 225l-12 8M265 246l2 -13M303 231l-6 6M303 231l3 -12M306 219l-17 -14M297 237l-1 0M278 209l1 16M261 250l4 -4M275 270l10 -2M250 221l17 12M418 250l12 -13M418 250l4 12M444 266l-4 3M440 269l-18 -6M416 144l8 -19M407 114l17 11M474 155l0 11M468 148l-20 5M474 166l-22 2M452 168l-4 -15M80 81l17 10M80 81l-10 16M97 91l-7 15M70 97l9 14M90 106l-11 5M51 116l-4 -5M58 95l12 2M77 115l2 -4M79 135l7 5M108 121l-18 -15M116 115l3 -8M97 91l4 -2M101 89l18 18M142 110l-18 -6M119 107l5 -3M51 123l-13 15M64 137l-10 12M54 149l-16 -11M4 142l13 -19M4 142l5 9M9 151l20 -8M20 122l11 17M31 139l-2 4M-38 125l42 17M-11 118l28 5M8 156l1 -5M21 119l-1 3M38 138l-7 1M144 90l-15 2M144 90l3 -19M138 65l9 6M138 65l-16 15M122 80l7 12M149 96l-5 -6M124 104l5 -12M109 78l-8 11M109 78l13 2M163 96l-2 -21M190 79l0 -3M161 75l29 1M147 71l8 -1M161 75l-6 -5M162 38l-6 5M162 38l15 7M156 43l6 17M177 45l-3 12M174 57l-12 3M142 44l14 -1M157 17l6 9M163 26l-1 12M135 59l3 6M155 70l7 -10M191 74l-17 -17M191 74l-1 2M267 25l-14 9M241 11l-1 2M241 11l12 -10M240 13l13 21M250 69l-11 -6M270 57l-19 -17M239 63l5 -19M244 44l7 -4M251 40l2 -6M226 83l-17 14M226 83l-2 -11M191 74l5 -4M196 70l28 2M473 118l-10 -22M496 100l-9 -10M487 90l-24 6M351 17l13 -5M351 17l-9 -15M354 -26l12 36M354 -26l-12 28M366 10l-2 2M374 33l-10 -21M374 33l-16 10M349 20l2 -3M444 -4l17 18M461 14l22 -41M419 2l10 10M419 2l-13 -556M429 12l15 -16M486 23l-8 1M486 23l-3 -50M478 24l-17 -9M461 15l0 -1M521 11l-16 -10M505 1l-17 -53M360 56l18 0M378 56l8 -16M374 33l9 2M383 35l3 5M523 21l-10 26M539 34l-13 16M513 47l13 3M526 50l8 12M534 72l-2 -3M534 62l-2 7M512 95l-1 -22M532 69l-21 4M496 71l14 2M496 71l-9 6M487 90l0 -13M511 73l-1 0M491 25l-3 26M491 25l1 0M488 51l5 3M493 54l19 -6M513 47l-20 -22M492 25l1 0M475 54l-8 -9M475 54l13 -3M486 23l5 2M467 45l11 -21M505 1l-13 24M475 54l-4 14M496 71l-3 -17M471 68l16 9M510 73l2 -25M523 21l-30 4M536 151l-10 8M514 142l9 16M523 158l3 1M555 217l-13 11M90 49l-9 17M90 49l20 4M81 66l25 3M110 53l-4 16M111 52l-1 1M87 42l3 7M109 78l-3 -9M76 70l0 -1M76 70l-18 9M76 69l-15 -19M58 79l-13 -14M61 50l-14 4M47 54l-2 11M80 81l-4 -11M81 66l-5 3M55 87l3 -8M66 40l-5 10M33 76l12 -11M38 47l9 7M226 83l4 3M221 109l10 -8M230 86l1 15M253 87l-1 1M239 63l-13 6M224 72l2 -3M230 86l22 2M237 141l5 -8M225 120l11 1M242 133l-6 -12M231 101l12 9M236 121l7 -11M252 88l3 19M243 110l12 -3M549 345l-3 11M549 362l-3 -6M512 352l-12 26M512 352l7 -1M519 351l7 6M526 357l4 45M530 336l-11 15M546 356l-20 1M549 362l-19 40M529 326l-27 -3M512 352l-7 -7M505 345l-3 -22M540 284l-10 21M540 284l-22 -3M518 281l-5 8M513 289l6 12M530 305l-11 -4M541 283l-1 1M537 316l-7 -11M500 321l19 -20M285 268l3 1M297 237l13 21M288 269l22 -11M279 295l7 -1M286 294l9 -10M288 269l7 15M303 231l28 6M331 237l-14 24M310 258l7 3M312 340l3 -16M290 322l6 -5M315 324l-19 -7M416 207l-3 14M416 207l-7 -6M413 221l-9 5M388 206l-4 7M384 213l20 13M413 221l17 13M410 247l8 3M410 247l-8 -14M402 233l2 -7M324 179l-2 18M347 189l-6 11M341 200l-19 -3M306 219l12 -9M296 192l23 9M318 210l1 -9M422 263l-6 23M399 281l-3 -10M362 357l4 -3M339 338l2 -9M366 354l-10 -27M341 329l15 -2M441 115l-14 10M441 115l17 11M427 125l15 20M458 126l-16 19M422 154l6 3M424 125l3 0M428 157l14 -8M442 149l0 -4M469 126l-11 0M442 149l6 4M163 26l14 -1M174 6l9 7M183 13l-6 12M244 44l-12 -5M226 69l-9 -25M217 44l15 -5M240 13l-11 9M232 39l-3 -17M438 26l-19 21M438 26l7 2M445 28l7 16M419 47l5 12M451 45l1 -1M451 45l-27 15M424 60l0 -1M429 15l9 11M429 15l-19 10M410 25l0 16M410 41l9 6M429 12l0 3M461 15l-16 13M467 45l-15 -1M405 21l-15 2M405 21l-1 -15M390 23l-7 -17M404 6l-13 -10M391 -4l-8 10M383 35l7 -12M386 40l10 4M410 25l-5 -4M396 44l14 -3M419 2l-15 4M366 10l17 -4M495 146l5 17M477 171l-3 -5M477 171l6 2M483 173l17 -10M526 159l5 17M520 186l11 -10M520 186l-9 2M511 188l-7 -23M500 163l4 2M568 189l-23 7M568 189l-19 -16M545 196l-5 -18M549 173l-9 5M555 217l-12 -17M543 200l2 -4M552 166l-3 7M520 186l13 16M531 176l9 2M533 202l10 -2M470 253l17 -5M497 266l-1 -12M497 266l-9 11M488 277l-21 -14M487 248l9 6M439 224l0 -18M462 233l3 -4M439 206l24 3M463 209l2 20M491 233l-4 15M491 233l-6 -6M465 229l20 -2M15 168l8 0M15 189l15 1M30 190l4 -12M34 178l-11 -10M29 143l4 14M23 168l10 -11M54 149l1 15M33 157l22 7M44 200l-6 3M44 200l22 7M37 205l1 -2M37 205l3 14M48 225l-8 -6M48 225l18 -12M66 213l0 -6M14 210l23 -5M30 190l8 13M25 229l15 -10M49 230l-1 -5M79 226l-13 -13M95 203l-24 -6M71 197l-5 10M275 105l-18 3M275 105l8 28M257 108l3 22M283 133l-22 -2M261 131l-1 -1M280 100l-5 5M255 107l2 1M285 134l-2 -1M242 133l18 -3M257 160l4 -29M440 269l0 9M465 265l-3 27M440 278l21 15M462 292l-1 1M429 296l11 -18M461 293l-11 10M494 321l5 -1M494 321l-20 -9M499 320l-6 -30M474 312l-2 -16M472 296l17 -9M489 287l4 3M500 321l-1 -1M513 289l-20 1M488 277l1 10M462 292l10 4M516 270l-19 -4M516 270l2 11M500 378l-15 -16M505 345l-15 4M485 362l5 -13M494 321l-17 17M490 349l-13 -11M416 286l4 8M429 296l-1 1M420 294l8 3M295 284l5 1M297 313l12 -13M309 300l-9 -15M317 261l-1 15M316 276l-16 9M331 237l1 0M318 210l18 15M332 237l4 -12M341 200l9 16M336 225l14 -9M410 247l-20 10M396 271l-1 0M395 271l-5 -14M378 244l24 -11M390 257l-9 -7M315 324l13 -7M309 300l11 1M328 317l-8 -16M341 329l-12 -11M328 317l1 1M316 276l11 10M320 301l7 -15M395 271l-20 8M381 250l-11 16M375 279l-5 -13M449 175l-21 1M449 175l4 8M453 183l-16 21M427 178l1 -2M427 178l8 25M435 203l2 1M428 157l0 19M452 168l-3 7M477 171l-14 17M463 188l-10 -5M463 188l7 14M439 206l-2 -2M470 202l-7 7M414 180l13 -2M416 207l19 -4M241 11l-24 -17M229 22l-13 -3M216 19l1 -25M183 13l11 0M194 13l13 -42M210 42l-5 -16M210 42l-12 11M198 53l-16 -11M203 25l2 1M203 25l-19 10M182 42l2 -7M217 44l-7 -2M216 19l-11 7M196 70l2 -17M177 45l5 -3M194 13l9 12M177 25l7 10M466 71l-4 25M466 71l-12 -3M454 68l-8 3M446 71l-4 25M443 97l-1 -1M471 68l-5 3M463 96l-1 0M451 45l3 23M425 61l21 10M425 61l-1 -1M425 61l3 31M428 92l14 4M441 115l2 -18M407 114l13 -19M420 95l8 -3M396 63l16 3M396 63l-9 6M386 70l1 -1M386 70l12 14M412 66l-4 16M398 84l10 -2M396 44l0 19M378 56l9 13M377 78l9 -8M393 95l5 -11M420 95l-12 -13M542 228l-12 -1M533 202l-6 12M530 227l-3 -13M509 190l2 -2M509 190l3 17M527 214l-15 -7M474 202l13 7M474 202l12 -19M486 183l17 8M503 191l-15 17M488 208l-1 1M470 202l4 0M485 227l2 -18M483 173l3 10M509 190l-6 1M512 207l-8 9M491 233l14 -4M505 229l-1 -13M55 164l-3 9M55 164l13 0M55 181l16 11M68 164l13 9M71 192l10 -12M81 173l0 7M34 178l18 -5M86 141l-18 23M44 200l11 -19M71 197l0 -5M95 164l-14 9M98 190l-17 -10M450 303l1 17M474 312l-14 12M460 324l-9 -4M422 332l13 5M427 312l-7 6M427 312l16 11M443 323l-8 14M427 312l1 -15M443 323l8 -3M462 457l4 -92M485 362l-17 1M466 365l2 -2M477 338l-4 0M468 363l5 -25M460 324l4 9M473 338l-9 -5M393 352l13 5M393 352l-8 8M406 357l-12 31M385 360l9 28M427 359l-14 -6M427 359l-31 73M413 353l-7 4M367 353l-1 1M367 353l18 7M399 281l-7 14M420 294l-17 11M403 305l-11 -10M378 243l2 -29M378 243l-16 -2M362 241l-9 -24M380 214l-15 -4M365 210l-12 7M378 244l0 -1M384 213l-4 1M332 237l17 14M349 251l13 -10M350 216l3 1M364 187l1 23M356 327l3 -3M359 324l4 -16M329 318l18 -19M347 299l16 9M375 279l-2 6M392 295l-16 2M373 285l3 12M525 231l-16 1M525 231l1 26M509 232l-3 17M506 249l18 9M526 257l-2 1M505 229l4 3M530 227l-5 4M531 258l-5 -1M496 254l10 -5M516 270l8 -12M458 361l-5 -15M458 361l-19 4M453 346l-17 -2M436 344l-7 15M439 365l-10 -6M466 365l-8 -4M464 333l-11 13M462 457l-23 -92M435 337l1 7M427 359l2 0M422 332l-12 6M413 353l-3 -15M403 316l0 -1M403 315l-19 2M402 333l-11 5M384 317l-4 14M391 338l-9 -3M382 335l-2 -4M420 318l-17 -2M403 305l0 10M374 302l2 -5M374 302l10 15M393 352l-2 -14M359 324l21 7M363 308l11 -6M367 353l15 -18M335 285l11 8M335 285l7 -20M346 293l11 -11M357 282l-4 -17M342 265l6 -4M348 261l5 4M327 286l8 -1M347 299l-1 -6M317 261l25 4M373 285l-16 -3M370 266l-17 -1M349 251l-1 10" stroke="#f8c0e0" stroke-width="1.2" stroke-linecap="round" fill="none" stroke-opacity="0.4"/>
<path d="M102 221l18 -10M214 253l9 -19M169 178l-5 0M147 226l17 -19M179 223l-7 -16M138 220l-7 0M110 295l-9 17M340 168l12 -4M159 134l-22 0M10 279l3 -4M56 307l-7 -1M143 154l-20 7M156 154l-5 3M340 168l-3 6M210 167l-2 3M184 114l10 7M293 144l-6 -5M318 113l-15 -1M196 231l24 -4M249 222l-28 2M388 484l-26 -127M378 91l-15 16M390 162l7 -3M62 320l-4 -11M137 35l-23 -1M135 12l7 4M63 11l-21 -3M306 17l-14 -90M322 20l4 -17M537 -16l-16 27M360 56l-2 -13M157 17l17 -11M51 123l0 -7M136 127l-20 -12M237 141l17 20M390 162l2 19M285 268l-1 -19M422 262l0 1M20 122l-3 1M326 3l16 -1M555 52l-21 10M513 47l-1 1M547 239l-5 -11M663 210l-108 7M502 323l-2 -2M286 294l11 19M296 317l1 -4M319 201l3 -4M422 262l-26 9M416 286l-17 -5M523 158l-19 7M429 296l21 7M378 244l3 6M462 96l-19 1M424 59l-12 7M504 216l-16 -8M52 173l3 8M422 332l-2 -14M403 316l-1 17M410 338l-8 -5" stroke="#fbd6ea" stroke-width="1.6" stroke-linecap="round" fill="none" stroke-opacity="0.7"/>
<rect width="556" height="372" filter="url(#he2nr)" opacity="0.75"/>
<rect width="556" height="372" filter="url(#he2v)" opacity="0.8"/>
<ellipse cx="290" cy="190" rx="270" ry="95" fill="#fff" opacity="0.1" transform="rotate(-8 290 190)"/>
<path d="M444 130h0M274 378h0M387 85h0M326 37h0M440 165h0M420 192h0M401 347h0M250 262h0M125 302h0M152 307h0M61 227h0M401 213h0M110 356h0M94 177h0M165 344h0M64 107h0M504 277h0M68 149h0M79 244h0M79 51h0M286 86h0M106 143h0M3 295h0M55 0h0M23 41h0M36 232h0M37 125h0M529 273h0M540 164h0M436 77h0M536 244h0M408 -4h0M335 352h0M486 159h0M295 177h0M231 112h0M404 55h0M167 376h0M235 215h0M4 248h0M255 236h0M231 289h0M414 326h0M542 83h0M212 58h0M95 60h0M95 344h0M326 163h0M535 347h0M154 241h0M-5 149h0M373 47h0M551 186h0M282 193h0M180 131h0M132 148h0M181 172h0M238 346h0M319 225h0M554 35h0M308 96h0M429 -4h0M310 310h0M454 279h0M463 348h0M25 102h0M517 368h0M445 11h0M520 61h0M82 95h0M449 336h0M163 3h0M113 312h0M194 39h0M535 191h0M2 67h0M104 104h0M560 111h0M138 99h0M225 10h0M497 358h0M77 -5h0M187 25h0M496 178h0M206 370h0M416 166h0M348 314h0M266 94h0M558 -5h0M120 66h0M353 372h0M57 195h0M105 268h0M554 375h0M67 86h0M196 160h0M376 197h0M206 263h0M209 315h0M333 209h0M167 50h0M326 133h0M501 206h0M152 55h0M416 308h0M547 67h0M173 314h0M230 130h0M141 361h0M314 4h0M22 85h0M270 119h0M481 41h0M352 2h0M148 209h0M298 300h0M332 298h0M195 180h0M201 344h0M35 343h0M445 236h0M362 28h0M396 13h0M124 363h0M103 8h0M397 194h0M224 372h0M188 326h0M247 122h0M241 97h0M255 19h0M390 308h0M391 146h0M523 81h0M3 130h0M562 16h0M545 264h0M167 145h0M499 83h0M380 268h0M7 377h0M337 189h0M170 67h0M130 207h0M168 249h0M392 325h0M301 331h0M364 127h0M251 142h0M310 61h0M503 60h0M223 351h0M251 358h0M338 112h0M91 121h0M288 366h0M22 257h0M278 157h0M429 324h0M463 175h0M65 124h0M16 139h0M368 87h0M1 213h0M405 260h0M383 101h0M271 172h0M136 345h0M189 209h0M486 305h0M127 26h0M18 365h0M221 98h0M160 328h0M96 324h0M543 299h0M348 278h0M479 351h0M480 143h0M242 77h0M268 39h0M65 269h0M207 198h0M451 219h0M434 252h0M500 117h0M26 218h0M47 78h0M267 302h0M90 284h0M325 336h0M51 344h0M4 186h0M513 218h0M171 294h0M304 128h0M486 261h0M476 7h0M456 112h0M114 253h0M529 97h0M538 48h0M236 231h0M235 -3h0M550 98h0M183 367h0M268 145h0M263 273h0M45 258h0M50 291h0M0 25h0M23 9h0M335 -6h0M184 54h0M374 319h0M373 65h0M555 311h0M52 18h0M0 339h0M414 234h0M493 6h0M292 218h0M488 195h0M-6 100h0M342 153h0M461 57h0M131 180h0M380 174h0M275 351h0M107 159h0M517 171h0M266 221h0M124 129h0M172 17h0M135 83h0M454 196h0M368 227h0M153 106h0M506 302h0M473 281h0M412 12h0M35 278h0M491 338h0M353 342h0M510 32h0M51 362h0M215 118h0M542 333h0M440 185h0M15 329h0M206 218h0M81 208h0M163 265h0M427 219h0M405 292h0M519 314h0M270 5h0M457 141h0M117 92h0M422 31h0M106 237h0M219 155h0M376 368h0M199 104h0M68 178h0M22 181h0M360 292h0M421 342h0M345 51h0M475 84h0M163 223h0M463 32h0M373 -5h0M17 308h0M227 312h0M378 20h0M2 231h0M313 290h0M301 349h0M508 132h0M508 259h0M479 238h0M130 233h0M281 21h0M275 257h0M559 354h0M0 168h0M476 325h0M303 271h0M91 260h0M-5 270h0M517 -2h0M388 54h0M174 34h0M127 276h0M87 29h0M122 3h0M462 308h0M47 322h0M461 159h0M243 323h0M539 117h0M183 347h0M475 185h0M170 84h0M143 328h0M34 311h0M51 243h0M252 58h0M210 85h0M302 160h0M20 292h0M298 48h0M495 220h0M151 31h0M306 77h0M278 238h0M391 229h0M439 309h0M435 43h0M138 165h0M324 54h0M316 243h0M351 88h0M411 367h0M367 164h0M527 291h0M458 -3h0M227 248h0M427 143h0M480 373h0M142 -3h0M151 180h0M22 156h0M84 355h0M428 108h0M239 28h0M22 198h0M310 187h0M561 157h0M125 326h0M446 355h0M426 280h0M349 235h0M68 295h0M433 376h0M356 146h0M45 94h0M32 62h0M351 179h0M555 201h0M85 192h0M522 202h0M295 30h0M498 43h0M410 135h0M387 283h0M70 334h0M554 249h0M330 272h0M182 239h0M36 167h0M214 300h0M353 198h0M148 142h0M68 23h0M345 34h0M510 152h0M189 276h0M356 72h0M402 172h0M75 311h0M185 2h0M537 366h0M404 92h0M479 102h0M313 369h0M17 237h0M165 191h0M265 198h0M82 160h0M562 173h0M560 126h0M224 173h0M324 81h0M44 377h0M539 138h0M261 74h0M557 280h0M154 86h0" stroke="#9468c4" stroke-width="7.2" stroke-linecap="round" fill="none" stroke-opacity="0.82"/>
<path d="M444 130h0M274 378h0M387 85h0M326 37h0M440 165h0M420 192h0M401 347h0M250 262h0M125 302h0M152 307h0M61 227h0M401 213h0M110 356h0M94 177h0M165 344h0M64 107h0M504 277h0M68 149h0M79 244h0M79 51h0M286 86h0M106 143h0M3 295h0M55 0h0M23 41h0M36 232h0M37 125h0M529 273h0M540 164h0M436 77h0M536 244h0M408 -4h0M335 352h0M486 159h0M295 177h0M231 112h0M404 55h0M167 376h0M235 215h0M4 248h0M255 236h0M231 289h0M414 326h0M542 83h0M212 58h0M95 60h0M95 344h0M326 163h0M535 347h0M154 241h0M-5 149h0M373 47h0M551 186h0M282 193h0M180 131h0M132 148h0M181 172h0M238 346h0M319 225h0M554 35h0M308 96h0M429 -4h0M310 310h0M454 279h0M463 348h0M25 102h0M517 368h0M445 11h0M520 61h0M82 95h0M449 336h0M163 3h0M113 312h0M194 39h0M535 191h0M2 67h0M104 104h0M560 111h0M138 99h0M225 10h0M497 358h0M77 -5h0M187 25h0M496 178h0M206 370h0M416 166h0M348 314h0M266 94h0M558 -5h0M120 66h0M353 372h0M57 195h0M105 268h0M554 375h0M67 86h0M196 160h0M376 197h0M206 263h0M209 315h0M333 209h0M167 50h0M326 133h0M501 206h0M152 55h0M416 308h0M547 67h0M173 314h0M230 130h0M141 361h0M314 4h0M22 85h0M270 119h0M481 41h0M352 2h0M148 209h0M298 300h0M332 298h0M195 180h0M201 344h0M35 343h0M445 236h0M362 28h0M396 13h0M124 363h0M103 8h0M397 194h0M224 372h0M188 326h0M247 122h0M241 97h0M255 19h0M390 308h0M391 146h0M523 81h0M3 130h0M562 16h0M545 264h0M167 145h0M499 83h0M380 268h0M7 377h0M337 189h0M170 67h0M130 207h0M168 249h0M392 325h0M301 331h0M364 127h0M251 142h0M310 61h0M503 60h0M223 351h0M251 358h0M338 112h0M91 121h0M288 366h0M22 257h0M278 157h0M429 324h0M463 175h0M65 124h0M16 139h0M368 87h0M1 213h0M405 260h0M383 101h0M271 172h0M136 345h0M189 209h0M486 305h0M127 26h0M18 365h0M221 98h0M160 328h0M96 324h0M543 299h0M348 278h0M479 351h0M480 143h0M242 77h0M268 39h0M65 269h0M207 198h0M451 219h0M434 252h0M500 117h0M26 218h0M47 78h0M267 302h0M90 284h0M325 336h0M51 344h0M4 186h0M513 218h0M171 294h0M304 128h0M486 261h0M476 7h0M456 112h0M114 253h0M529 97h0M538 48h0M236 231h0M235 -3h0M550 98h0M183 367h0M268 145h0M263 273h0M45 258h0M50 291h0M0 25h0M23 9h0M335 -6h0M184 54h0M374 319h0M373 65h0M555 311h0M52 18h0M0 339h0M414 234h0M493 6h0M292 218h0M488 195h0M-6 100h0M342 153h0M461 57h0M131 180h0M380 174h0M275 351h0M107 159h0M517 171h0M266 221h0M124 129h0M172 17h0M135 83h0M454 196h0M368 227h0M153 106h0M506 302h0M473 281h0M412 12h0M35 278h0M491 338h0M353 342h0M510 32h0M51 362h0M215 118h0M542 333h0M440 185h0M15 329h0M206 218h0M81 208h0M163 265h0M427 219h0M405 292h0M519 314h0M270 5h0M457 141h0M117 92h0M422 31h0M106 237h0M219 155h0M376 368h0M199 104h0M68 178h0M22 181h0M360 292h0M421 342h0M345 51h0M475 84h0M163 223h0M463 32h0M373 -5h0M17 308h0M227 312h0M378 20h0M2 231h0M313 290h0M301 349h0M508 132h0M508 259h0M479 238h0M130 233h0M281 21h0M275 257h0M559 354h0M0 168h0M476 325h0M303 271h0M91 260h0M-5 270h0M517 -2h0M388 54h0M174 34h0M127 276h0M87 29h0M122 3h0M462 308h0M47 322h0M461 159h0M243 323h0M539 117h0M183 347h0M475 185h0M170 84h0M143 328h0M34 311h0M51 243h0M252 58h0M210 85h0M302 160h0M20 292h0M298 48h0M495 220h0M151 31h0M306 77h0M278 238h0M391 229h0M439 309h0M435 43h0M138 165h0M324 54h0M316 243h0M351 88h0M411 367h0M367 164h0M527 291h0M458 -3h0M227 248h0M427 143h0M480 373h0M142 -3h0M151 180h0M22 156h0M84 355h0M428 108h0M239 28h0M22 198h0M310 187h0M561 157h0M125 326h0M446 355h0M426 280h0M349 235h0M68 295h0M433 376h0M356 146h0M45 94h0M32 62h0M351 179h0M555 201h0M85 192h0M522 202h0M295 30h0M498 43h0M410 135h0M387 283h0M70 334h0M554 249h0M330 272h0M182 239h0M36 167h0M214 300h0M353 198h0M148 142h0M68 23h0M345 34h0M510 152h0M189 276h0M356 72h0M402 172h0M75 311h0M185 2h0M537 366h0M404 92h0M479 102h0M313 369h0M17 237h0M165 191h0M265 198h0M82 160h0M562 173h0M560 126h0M224 173h0M324 81h0M44 377h0M539 138h0M261 74h0M557 280h0M154 86h0" stroke="#b58fd4" stroke-width="3.2" stroke-linecap="round" fill="none" stroke-opacity="0.55"/>
<path d="M109 206h0M544 20h0M295 256h0M245 180h0M36 21h0M333 254h0M58 67h0M515 112h0M337 10h0M115 341h0M50 37h0M148 255h0M368 336h0M508 14h0M454 81h0M409 152h0M164 165h0M499 242h0M453 252h0M126 44h0M558 233h0M397 244h0M245 305h0M142 285h0M285 66h0M132 115h0M559 326h0M487 128h0M524 144h0M390 127h0M445 59h0M86 13h0M179 96h0M303 205h0M148 126h0M450 372h0M93 76h0M477 218h0M8 52h0M6 111h0M51 212h0M94 302h0M99 40h0M540 211h0M534 8h0M363 275h0M42 186h0M526 38h0M398 31h0M207 9h0M51 136h0M445 291h0M12 349h0M109 182h0M400 74h0M280 282h0M195 300h0M284 308h0M515 245h0M206 134h0M224 330h0M41 150h0M235 155h0M211 282h0M229 52h0M396 361h0M210 240h0M383 349h0M239 275h0M418 79h0M186 147h0M486 63h0M222 31h0M277 329h0M410 275h0M364 256h0M286 114h0M293 7h0M118 223h0M517 335h0" stroke="#55389f" stroke-width="4.6" stroke-linecap="round" fill="none" stroke-opacity="0.95"/>
<g fill="#f2ecec"><circle cx="512" cy="220" r="5"/><circle cx="228" cy="195" r="3.2"/><circle cx="379" cy="243" r="5.4"/><circle cx="17" cy="107" r="7.9"/><circle cx="450" cy="119" r="3.7"/><circle cx="321" cy="365" r="6"/><circle cx="441" cy="256" r="7.1"/><circle cx="453" cy="324" r="3.5"/><circle cx="148" cy="213" r="6.3"/><circle cx="156" cy="95" r="4.4"/><circle cx="386" cy="216" r="7.9"/><circle cx="323" cy="49" r="5.9"/><circle cx="543" cy="203" r="6.5"/><circle cx="237" cy="149" r="8.3"/><circle cx="132" cy="114" r="3.5"/><circle cx="452" cy="354" r="3.3"/><circle cx="346" cy="293" r="3.2"/><circle cx="33" cy="236" r="3.6"/><circle cx="293" cy="324" r="4.2"/><circle cx="71" cy="147" r="4.2"/><circle cx="313" cy="113" r="4.8"/><circle cx="261" cy="38" r="6.9"/><circle cx="77" cy="183" r="3.4"/><circle cx="418" cy="134" r="8.5"/><circle cx="79" cy="15" r="3.8"/><circle cx="311" cy="-4" r="5.8"/><circle cx="76" cy="76" r="3.3"/><circle cx="332" cy="201" r="4.7"/><circle cx="247" cy="289" r="6.3"/><circle cx="128" cy="369" r="5"/><circle cx="257" cy="212" r="3.6"/><circle cx="558" cy="273" r="3.5"/><circle cx="302" cy="292" r="7.4"/><circle cx="51" cy="99" r="3.3"/><circle cx="228" cy="352" r="6.6"/><circle cx="-2" cy="114" r="3.3"/><circle cx="375" cy="148" r="8.2"/><circle cx="233" cy="56" r="3.8"/><circle cx="342" cy="273" r="6.2"/><circle cx="146" cy="67" r="3.6"/><circle cx="432" cy="304" r="6.5"/><circle cx="68" cy="285" r="8.2"/><circle cx="39" cy="64" r="3.2"/><circle cx="213" cy="287" r="3.7"/><circle cx="172" cy="188" r="7.3"/><circle cx="305" cy="92" r="4.6"/><circle cx="30" cy="283" r="3.2"/><circle cx="200" cy="37" r="3.5"/><circle cx="287" cy="48" r="4.2"/><circle cx="65" cy="212" r="4.3"/><circle cx="0" cy="165" r="3.3"/><circle cx="266" cy="65" r="4.2"/><circle cx="152" cy="184" r="3.7"/><circle cx="237" cy="231" r="3.2"/><circle cx="191" cy="77" r="3.8"/><circle cx="492" cy="83" r="6.8"/><circle cx="556" cy="355" r="3.2"/><circle cx="491" cy="180" r="7.3"/><circle cx="274" cy="94" r="4.6"/><circle cx="115" cy="270" r="8.2"/><circle cx="205" cy="231" r="3.7"/><circle cx="400" cy="334" r="7.7"/><circle cx="276" cy="1" r="6.6"/><circle cx="271" cy="276" r="4.4"/><circle cx="131" cy="8" r="3.6"/><circle cx="161" cy="11" r="5.3"/><circle cx="300" cy="190" r="3.4"/><circle cx="537" cy="343" r="4.3"/><circle cx="367" cy="283" r="4.5"/><circle cx="318" cy="322" r="5.7"/><circle cx="0" cy="236" r="5.8"/><circle cx="454" cy="225" r="5.2"/><circle cx="77" cy="362" r="5.9"/><circle cx="464" cy="77" r="8.4"/><circle cx="378" cy="-3" r="3.3"/><circle cx="535" cy="180" r="5.7"/><circle cx="49" cy="352" r="5.5"/><circle cx="350" cy="1" r="5.2"/><circle cx="167" cy="243" r="6.9"/><circle cx="87" cy="209" r="3.7"/><circle cx="117" cy="101" r="6.6"/><circle cx="203" cy="201" r="3.3"/><circle cx="506" cy="270" r="6.7"/><circle cx="17" cy="55" r="8.5"/><circle cx="222" cy="-3" r="3.2"/><circle cx="412" cy="276" r="3.6"/><circle cx="247" cy="360" r="4.2"/><circle cx="57" cy="244" r="5.5"/><circle cx="515" cy="93" r="3.7"/><circle cx="242" cy="75" r="6"/><circle cx="394" cy="286" r="5.1"/><circle cx="92" cy="43" r="3.3"/><circle cx="339" cy="20" r="7.7"/><circle cx="326" cy="299" r="6.1"/><circle cx="352" cy="185" r="7.8"/><circle cx="251" cy="170" r="3.2"/><circle cx="405" cy="173" r="5.4"/><circle cx="129" cy="181" r="7.7"/><circle cx="437" cy="144" r="3.4"/><circle cx="500" cy="118" r="7.4"/></g>
<g fill="#f5e6ee"><circle cx="202" cy="105" r="2.7"/><circle cx="72" cy="88" r="1.7"/><circle cx="205" cy="66" r="2.2"/><circle cx="177" cy="148" r="2"/><circle cx="126" cy="170" r="1.8"/><circle cx="415" cy="210" r="1.8"/><circle cx="391" cy="100" r="2.8"/><circle cx="476" cy="198" r="1.7"/><circle cx="185" cy="124" r="3"/><circle cx="365" cy="221" r="3"/><circle cx="42" cy="16" r="2.3"/><circle cx="225" cy="371" r="2.5"/><circle cx="109" cy="197" r="2.5"/><circle cx="312" cy="170" r="3"/><circle cx="333" cy="193" r="2.3"/><circle cx="548" cy="74" r="3"/><circle cx="117" cy="175" r="2.5"/><circle cx="341" cy="311" r="1.7"/><circle cx="31" cy="293" r="3"/><circle cx="480" cy="123" r="1.7"/><circle cx="-5" cy="69" r="3.2"/><circle cx="344" cy="219" r="1.9"/><circle cx="167" cy="19" r="2.5"/><circle cx="257" cy="138" r="1.8"/><circle cx="416" cy="295" r="2.9"/><circle cx="462" cy="257" r="2.8"/><circle cx="433" cy="21" r="1.7"/><circle cx="223" cy="235" r="3.1"/><circle cx="216" cy="249" r="1.9"/><circle cx="193" cy="56" r="3.2"/><circle cx="498" cy="315" r="3"/><circle cx="339" cy="260" r="2.2"/><circle cx="88" cy="224" r="2.8"/><circle cx="194" cy="197" r="2.6"/><circle cx="463" cy="164" r="2.4"/><circle cx="33" cy="321" r="2.4"/><circle cx="350" cy="166" r="3.2"/><circle cx="515" cy="17" r="2.1"/><circle cx="339" cy="350" r="2.7"/><circle cx="451" cy="299" r="2.5"/><circle cx="57" cy="104" r="2.5"/><circle cx="79" cy="39" r="2.1"/><circle cx="261" cy="90" r="2.8"/><circle cx="529" cy="302" r="2.7"/><circle cx="207" cy="28" r="2.6"/><circle cx="65" cy="6" r="2.8"/><circle cx="307" cy="19" r="2.7"/><circle cx="146" cy="37" r="3.1"/><circle cx="517" cy="363" r="3"/><circle cx="309" cy="91" r="1.8"/><circle cx="93" cy="65" r="3.1"/><circle cx="516" cy="276" r="2.8"/><circle cx="63" cy="174" r="1.6"/><circle cx="47" cy="368" r="1.9"/><circle cx="314" cy="151" r="2.7"/><circle cx="183" cy="179" r="3.2"/><circle cx="372" cy="143" r="2.6"/><circle cx="313" cy="206" r="2.5"/><circle cx="401" cy="155" r="3.1"/><circle cx="399" cy="289" r="1.6"/><circle cx="437" cy="135" r="2.8"/><circle cx="394" cy="323" r="2.5"/><circle cx="116" cy="137" r="1.6"/><circle cx="480" cy="188" r="3.2"/><circle cx="403" cy="377" r="2.6"/><circle cx="294" cy="355" r="2"/><circle cx="298" cy="335" r="1.8"/><circle cx="401" cy="14" r="1.9"/><circle cx="352" cy="303" r="2.2"/><circle cx="321" cy="50" r="1.7"/><circle cx="153" cy="124" r="2.7"/><circle cx="175" cy="224" r="2.2"/><circle cx="532" cy="226" r="2.1"/><circle cx="171" cy="173" r="1.7"/><circle cx="4" cy="112" r="2.3"/><circle cx="232" cy="199" r="1.7"/><circle cx="104" cy="95" r="2.6"/><circle cx="461" cy="283" r="1.9"/><circle cx="289" cy="172" r="3.1"/><circle cx="141" cy="177" r="3.1"/><circle cx="274" cy="78" r="1.7"/><circle cx="93" cy="251" r="2.5"/><circle cx="194" cy="276" r="2.3"/><circle cx="202" cy="185" r="2.7"/><circle cx="49" cy="140" r="2.1"/><circle cx="218" cy="149" r="2.1"/><circle cx="441" cy="94" r="1.9"/><circle cx="446" cy="133" r="2.8"/><circle cx="66" cy="130" r="2.4"/><circle cx="317" cy="252" r="2.6"/><circle cx="197" cy="255" r="2.4"/><circle cx="268" cy="269" r="2.4"/><circle cx="66" cy="138" r="2.3"/><circle cx="304" cy="223" r="2"/><circle cx="353" cy="3" r="2.9"/><circle cx="55" cy="130" r="2.8"/><circle cx="94" cy="281" r="3"/><circle cx="58" cy="253" r="2.9"/><circle cx="379" cy="266" r="2.6"/><circle cx="340" cy="116" r="2.5"/><circle cx="307" cy="149" r="3.1"/><circle cx="365" cy="100" r="3.2"/><circle cx="151" cy="224" r="3.1"/><circle cx="403" cy="324" r="2.8"/><circle cx="469" cy="306" r="2.6"/><circle cx="207" cy="161" r="2.2"/><circle cx="148" cy="139" r="3.1"/><circle cx="435" cy="297" r="1.9"/><circle cx="212" cy="55" r="2.6"/><circle cx="351" cy="278" r="2.3"/><circle cx="222" cy="25" r="2.9"/><circle cx="364" cy="108" r="3"/><circle cx="260" cy="164" r="2.1"/><circle cx="377" cy="239" r="3"/><circle cx="292" cy="199" r="2.5"/><circle cx="196" cy="264" r="2.2"/><circle cx="332" cy="86" r="2.6"/><circle cx="288" cy="245" r="1.7"/><circle cx="449" cy="117" r="3.2"/><circle cx="484" cy="180" r="1.8"/><circle cx="289" cy="341" r="2.9"/><circle cx="181" cy="14" r="2"/><circle cx="471" cy="98" r="2.4"/><circle cx="167" cy="67" r="2.6"/><circle cx="123" cy="161" r="3.1"/><circle cx="181" cy="238" r="2.9"/><circle cx="185" cy="54" r="2.4"/><circle cx="230" cy="84" r="1.8"/><circle cx="553" cy="159" r="1.9"/><circle cx="108" cy="61" r="2.5"/><circle cx="209" cy="146" r="2.6"/><circle cx="438" cy="246" r="3.1"/><circle cx="43" cy="112" r="1.7"/><circle cx="472" cy="45" r="2.2"/><circle cx="505" cy="259" r="2.4"/><circle cx="247" cy="-2" r="2.7"/><circle cx="322" cy="220" r="2.4"/><circle cx="479" cy="62" r="2.4"/><circle cx="204" cy="267" r="2.6"/><circle cx="63" cy="46" r="2.7"/><circle cx="233" cy="240" r="2.6"/><circle cx="189" cy="231" r="1.7"/><circle cx="410" cy="250" r="1.9"/><circle cx="416" cy="48" r="2.8"/><circle cx="248" cy="40" r="1.9"/><circle cx="405" cy="354" r="3.1"/><circle cx="162" cy="150" r="2.9"/><circle cx="242" cy="208" r="2.3"/><circle cx="17" cy="81" r="2.7"/><circle cx="332" cy="294" r="2.5"/><circle cx="442" cy="26" r="1.6"/><circle cx="522" cy="139" r="3.1"/><circle cx="317" cy="235" r="3"/><circle cx="439" cy="227" r="2.1"/><circle cx="549" cy="366" r="2.8"/><circle cx="131" cy="0" r="3"/><circle cx="509" cy="206" r="1.9"/><circle cx="551" cy="64" r="1.6"/><circle cx="238" cy="130" r="1.7"/><circle cx="101" cy="152" r="2.4"/><circle cx="184" cy="297" r="3"/><circle cx="9" cy="293" r="3.2"/><circle cx="387" cy="176" r="3"/><circle cx="320" cy="360" r="2.4"/><circle cx="501" cy="355" r="1.9"/><circle cx="559" cy="315" r="1.8"/><circle cx="126" cy="302" r="2.6"/><circle cx="396" cy="271" r="2.8"/><circle cx="360" cy="299" r="2.5"/><circle cx="530" cy="186" r="1.9"/><circle cx="530" cy="279" r="2.3"/><circle cx="313" cy="259" r="2.3"/><circle cx="186" cy="163" r="2.5"/><circle cx="301" cy="344" r="1.9"/><circle cx="409" cy="232" r="2.1"/><circle cx="81" cy="180" r="2.7"/><circle cx="556" cy="272" r="2.5"/><circle cx="238" cy="192" r="2.9"/><circle cx="553" cy="210" r="2.5"/><circle cx="154" cy="-2" r="2.1"/><circle cx="168" cy="204" r="2.3"/><circle cx="137" cy="207" r="1.7"/><circle cx="496" cy="77" r="2.1"/><circle cx="384" cy="357" r="2.7"/><circle cx="458" cy="204" r="2"/><circle cx="280" cy="203" r="2.4"/><circle cx="234" cy="70" r="1.9"/><circle cx="519" cy="338" r="3.1"/><circle cx="529" cy="345" r="2.2"/><circle cx="265" cy="363" r="1.8"/><circle cx="480" cy="358" r="1.7"/><circle cx="278" cy="130" r="3"/><circle cx="246" cy="79" r="2.6"/><circle cx="272" cy="222" r="3.1"/><circle cx="297" cy="166" r="2.1"/><circle cx="185" cy="217" r="3.1"/><circle cx="467" cy="219" r="2.2"/><circle cx="207" cy="196" r="2.6"/><circle cx="312" cy="183" r="1.6"/><circle cx="386" cy="309" r="3.1"/><circle cx="302" cy="240" r="1.8"/><circle cx="283" cy="63" r="1.7"/><circle cx="295" cy="0" r="2.8"/><circle cx="156" cy="62" r="3"/><circle cx="318" cy="90" r="2"/><circle cx="283" cy="314" r="2.4"/><circle cx="29" cy="115" r="2.5"/><circle cx="284" cy="253" r="2"/><circle cx="326" cy="120" r="3.1"/><circle cx="223" cy="197" r="2.9"/><circle cx="126" cy="7" r="2.6"/><circle cx="113" cy="20" r="2.9"/><circle cx="35" cy="243" r="3"/><circle cx="257" cy="272" r="1.9"/><circle cx="333" cy="17" r="1.9"/><circle cx="113" cy="130" r="1.9"/><circle cx="367" cy="245" r="1.6"/><circle cx="5" cy="15" r="1.8"/><circle cx="13" cy="16" r="1.9"/><circle cx="78" cy="20" r="1.7"/><circle cx="202" cy="239" r="2"/><circle cx="24" cy="90" r="2.1"/><circle cx="-2" cy="78" r="2.1"/><circle cx="209" cy="90" r="2.5"/><circle cx="530" cy="210" r="1.9"/><circle cx="97" cy="39" r="1.8"/><circle cx="210" cy="133" r="2.3"/><circle cx="219" cy="171" r="3.1"/><circle cx="453" cy="355" r="3.2"/><circle cx="398" cy="349" r="2.5"/><circle cx="272" cy="303" r="2.5"/><circle cx="84" cy="191" r="2.1"/><circle cx="118" cy="267" r="3"/><circle cx="121" cy="79" r="2.7"/><circle cx="155" cy="231" r="3.1"/><circle cx="512" cy="328" r="3.1"/><circle cx="254" cy="349" r="2.3"/><circle cx="14" cy="91" r="1.8"/><circle cx="184" cy="197" r="2.3"/><circle cx="5" cy="282" r="2.3"/><circle cx="162" cy="159" r="2.4"/><circle cx="308" cy="190" r="2"/><circle cx="486" cy="371" r="1.7"/><circle cx="350" cy="113" r="2.9"/><circle cx="462" cy="374" r="2.4"/><circle cx="458" cy="339" r="2.4"/><circle cx="189" cy="350" r="3.2"/><circle cx="254" cy="150" r="2.8"/><circle cx="275" cy="150" r="3"/><circle cx="161" cy="358" r="1.6"/><circle cx="379" cy="12" r="2.2"/><circle cx="412" cy="106" r="1.9"/><circle cx="432" cy="108" r="2.9"/><circle cx="30" cy="152" r="1.8"/><circle cx="23" cy="41" r="2"/><circle cx="233" cy="55" r="1.9"/><circle cx="188" cy="95" r="2.6"/><circle cx="262" cy="7" r="2.3"/><circle cx="107" cy="298" r="3.2"/><circle cx="15" cy="106" r="3"/><circle cx="474" cy="214" r="2.6"/><circle cx="199" cy="134" r="2.9"/><circle cx="541" cy="101" r="2.8"/><circle cx="538" cy="271" r="2.5"/><circle cx="408" cy="292" r="1.7"/><circle cx="149" cy="111" r="3"/><circle cx="61" cy="368" r="2"/><circle cx="433" cy="96" r="3.2"/><circle cx="224" cy="321" r="2.8"/><circle cx="0" cy="3" r="1.8"/><circle cx="306" cy="301" r="2.2"/><circle cx="274" cy="361" r="1.7"/><circle cx="89" cy="57" r="2"/><circle cx="426" cy="232" r="2.7"/><circle cx="248" cy="102" r="2"/><circle cx="481" cy="284" r="3.1"/><circle cx="99" cy="257" r="1.9"/><circle cx="506" cy="282" r="3"/><circle cx="514" cy="226" r="2.9"/><circle cx="282" cy="227" r="3.2"/><circle cx="340" cy="374" r="3"/><circle cx="325" cy="351" r="2"/><circle cx="276" cy="-5" r="2.9"/><circle cx="37" cy="72" r="1.6"/><circle cx="529" cy="75" r="2.6"/><circle cx="475" cy="315" r="2.4"/><circle cx="252" cy="258" r="2.2"/><circle cx="463" cy="77" r="2.4"/><circle cx="42" cy="162" r="2.1"/><circle cx="546" cy="229" r="3.2"/><circle cx="477" cy="158" r="2.9"/><circle cx="156" cy="116" r="2.4"/><circle cx="276" cy="104" r="3.1"/><circle cx="53" cy="97" r="2.9"/><circle cx="76" cy="233" r="1.9"/><circle cx="191" cy="10" r="3"/><circle cx="323" cy="149" r="2.7"/><circle cx="-2" cy="180" r="2"/><circle cx="171" cy="97" r="2.1"/><circle cx="325" cy="22" r="2.3"/><circle cx="251" cy="173" r="1.9"/><circle cx="146" cy="99" r="2.5"/><circle cx="248" cy="93" r="2.4"/><circle cx="104" cy="222" r="1.7"/><circle cx="56" cy="-3" r="2.3"/><circle cx="471" cy="130" r="1.7"/><circle cx="454" cy="8" r="2"/><circle cx="326" cy="230" r="2.2"/><circle cx="267" cy="310" r="3"/><circle cx="128" cy="50" r="2.8"/><circle cx="5" cy="32" r="2.4"/><circle cx="170" cy="267" r="1.8"/><circle cx="89" cy="3" r="2.1"/><circle cx="560" cy="374" r="3.1"/><circle cx="87" cy="29" r="2.6"/><circle cx="385" cy="324" r="2.2"/><circle cx="297" cy="327" r="1.7"/><circle cx="317" cy="322" r="3.1"/><circle cx="499" cy="368" r="2.4"/><circle cx="350" cy="323" r="1.7"/><circle cx="112" cy="76" r="2"/><circle cx="259" cy="22" r="2.8"/><circle cx="395" cy="224" r="2.2"/><circle cx="245" cy="129" r="2.9"/><circle cx="58" cy="244" r="2"/><circle cx="117" cy="333" r="1.7"/><circle cx="499" cy="69" r="2"/><circle cx="79" cy="99" r="1.7"/><circle cx="8" cy="127" r="3.1"/><circle cx="544" cy="66" r="2.3"/><circle cx="17" cy="210" r="2.9"/><circle cx="278" cy="216" r="1.8"/><circle cx="327" cy="304" r="2.1"/><circle cx="330" cy="165" r="2.4"/><circle cx="345" cy="177" r="2.5"/><circle cx="7" cy="197" r="2.5"/><circle cx="326" cy="189" r="2"/><circle cx="221" cy="334" r="3.1"/><circle cx="10" cy="165" r="2.8"/><circle cx="285" cy="113" r="3.1"/><circle cx="308" cy="345" r="2.6"/><circle cx="93" cy="112" r="2.7"/><circle cx="295" cy="33" r="2.9"/><circle cx="72" cy="199" r="2.4"/><circle cx="483" cy="219" r="2.7"/><circle cx="451" cy="289" r="3.2"/><circle cx="417" cy="29" r="2.2"/><circle cx="388" cy="189" r="1.7"/><circle cx="171" cy="73" r="1.9"/><circle cx="221" cy="256" r="3.1"/><circle cx="206" cy="43" r="2.3"/><circle cx="437" cy="312" r="2.1"/><circle cx="38" cy="173" r="2.9"/><circle cx="217" cy="16" r="2"/><circle cx="500" cy="330" r="2.5"/><circle cx="103" cy="160" r="1.6"/><circle cx="554" cy="227" r="2.5"/><circle cx="446" cy="268" r="2.9"/><circle cx="514" cy="295" r="3.1"/><circle cx="260" cy="173" r="3.2"/><circle cx="0" cy="54" r="1.7"/><circle cx="351" cy="150" r="2.2"/><circle cx="197" cy="300" r="2.6"/><circle cx="436" cy="343" r="2.1"/><circle cx="58" cy="72" r="1.7"/><circle cx="490" cy="333" r="2.6"/><circle cx="430" cy="278" r="2.5"/><circle cx="16" cy="324" r="1.8"/><circle cx="465" cy="247" r="3"/><circle cx="-5" cy="163" r="1.7"/><circle cx="52" cy="23" r="2.8"/><circle cx="388" cy="204" r="2.3"/><circle cx="546" cy="313" r="1.8"/><circle cx="212" cy="226" r="1.6"/><circle cx="25" cy="19" r="3.2"/><circle cx="537" cy="331" r="2.1"/><circle cx="36" cy="184" r="2.9"/><circle cx="7" cy="52" r="2.4"/><circle cx="462" cy="142" r="2"/><circle cx="262" cy="121" r="3.2"/><circle cx="549" cy="340" r="1.7"/><circle cx="133" cy="68" r="2.8"/><circle cx="424" cy="326" r="2.8"/><circle cx="132" cy="121" r="2.3"/><circle cx="371" cy="267" r="2.8"/><circle cx="560" cy="131" r="1.9"/><circle cx="424" cy="148" r="2.1"/><circle cx="123" cy="276" r="3"/><circle cx="506" cy="317" r="2.8"/><circle cx="466" cy="234" r="2.8"/><circle cx="95" cy="74" r="2.2"/><circle cx="381" cy="159" r="3"/><circle cx="45" cy="281" r="2.3"/><circle cx="436" cy="191" r="2.8"/><circle cx="111" cy="101" r="1.6"/><circle cx="517" cy="241" r="2"/><circle cx="447" cy="241" r="2.9"/><circle cx="53" cy="87" r="2.4"/><circle cx="197" cy="123" r="2.2"/><circle cx="0" cy="255" r="2.6"/><circle cx="126" cy="205" r="3.1"/><circle cx="279" cy="40" r="2.7"/><circle cx="65" cy="352" r="2.9"/><circle cx="115" cy="37" r="2.8"/><circle cx="362" cy="139" r="3.2"/><circle cx="361" cy="180" r="1.6"/><circle cx="127" cy="22" r="2.8"/><circle cx="96" cy="179" r="1.9"/><circle cx="9" cy="101" r="2"/><circle cx="215" cy="111" r="2.3"/><circle cx="76" cy="81" r="2"/><circle cx="40" cy="84" r="3.2"/><circle cx="49" cy="105" r="1.7"/><circle cx="517" cy="71" r="2.8"/><circle cx="209" cy="179" r="1.7"/><circle cx="164" cy="198" r="2"/><circle cx="453" cy="39" r="1.7"/><circle cx="369" cy="282" r="1.9"/><circle cx="375" cy="183" r="3"/><circle cx="517" cy="375" r="1.9"/></g>
</g></g>
<g transform="translate(1619.7 1041.8)"><g clip-path="url(#cl2)">
<rect width="557.3" height="372.2" filter="url(#he3n)"/>
<path d="M560 185l-8 14M552 199l41 28M72 87l19 4M72 87l4 -21M76 66l20 4M91 91l10 -8M96 70l5 13M91 91l1 17M115 99l-10 -15M115 99l-11 15M101 83l4 1M121 100l13 -15M134 85l0 -1M134 84l-13 -9M105 84l16 -9M-1 310l10 -13M9 297l-10 -16M-1 281l-120 -11M157 87l10 -3M157 87l-7 15M167 84l7 18M150 102l5 5M155 107l19 -5M134 85l10 17M143 78l-9 6M143 78l14 9M13 -23l-8 30M13 -23l14 29M5 7l4 7M9 14l1 0M10 14l17 -8M43 0l-10 8M43 0l10 -375M33 8l-6 -2M65 100l-23 -5M65 100l1 4M42 95l-4 14M38 109l13 11M66 104l-15 16M28 161l-5 13M28 161l-10 -13M5 154l13 -6M5 154l6 25M23 174l-12 5M-463 161l472 21M-45 141l50 13M-1 281l18 -11M-32 254l38 2M17 270l-11 -14M-32 254l42 -22M10 232l8 3M6 256l12 -21M593 227l-46 17M547 244l-10 -17M537 227l2 -11M552 199l-5 1M547 200l-9 14M538 214l1 2M857 238l-303 29M547 244l-2 4M554 267l-9 -19M417 89l18 1M417 89l-5 6M412 95l14 13M426 108l15 -5M435 90l6 13M465 70l7 3M456 91l-5 -11M456 91l12 2M468 93l4 -20M121 369l15 -7M121 369l26 232M154 494l-8 -129M146 365l-10 -3M18 235l1 0M19 235l10 24M29 259l-12 11M96 374l17 -10M96 374l-10 -18M113 364l-2 -16M111 348l-7 -2M86 356l1 -1M86 356l-12 2M74 358l-8 -18M87 355l-5 -24M82 331l-16 9M113 364l8 5M111 348l7 -4M136 362l-8 -18M146 365l9 -8M136 336l-8 8M136 336l8 2M144 338l11 19M174 378l-13 -22M189 98l-15 4M189 98l1 -14M167 84l4 -8M171 76l19 8M143 78l3 -12M121 68l0 7M121 68l13 -10M134 58l12 8M27 115l-5 16M27 115l-12 -11M22 131l-22 -5M0 126l6 -19M6 107l9 -3M-45 141l45 -15M23 133l-1 -2M23 133l-5 15M41 158l-13 3M41 158l0 -1M41 157l-3 -20M38 109l-11 6M51 120l3 11M38 137l16 -6M24 27l-14 -13M24 27l11 -4M33 8l2 15M41 158l7 18M48 176l-1 4M47 180l-6 4M30 201l-20 -17M30 201l-4 9M26 210l-19 -3M10 184l-5 21M5 205l2 2M9 182l1 2M38 195l3 -11M10 232l-5 -7M19 235l4 -3M5 225l2 -18M29 218l-6 14M29 218l-3 -8M-65 207l70 -2M-65 207l70 18M550 344l-2 -19M550 344l-1 2M549 346l-23 0M526 345l0 1M526 345l8 -22M534 323l14 2M554 267l-3 5M545 248l-15 5M530 253l-4 8M551 272l-15 4M536 276l-9 -10M526 261l1 5M520 359l4 -4M520 359l24 97M524 355l21 13M544 456l1 -88M552 360l-3 -14M552 360l-7 8M526 346l-2 9M505 331l-10 19M505 331l21 14M520 359l-13 2M495 350l12 11M497 382l10 -21M354 379l18 -16M384 369l-12 -6M354 379l-6 -20M325 365l11 100M325 365l4 -7M329 358l19 1M372 363l-3 -13M348 359l6 -11M369 350l-15 -2M689 138l-133 20M556 158l-11 -13M545 145l2 -9M482 55l-10 18M482 55l16 4M472 73l15 6M487 79l11 -13M498 59l0 7M531 148l-5 -18M531 148l14 -3M547 136l-9 -12M526 130l12 -6M593 124l-34 -11M559 113l-19 4M538 124l2 -7M467 112l2 -18M467 112l15 1M482 113l7 -8M469 94l18 0M489 105l-2 -11M468 93l1 1M487 79l3 11M487 94l3 -4M498 66l10 10M508 76l-1 13M490 90l17 -1M29 259l7 0M23 232l20 7M43 239l3 10M36 259l10 -10M24 280l16 2M24 280l-5 17M40 282l1 18M41 300l-16 3M19 297l6 6M17 270l7 10M36 259l10 17M46 276l-6 6M9 297l10 0M-1 310l9 8M-525 343l527 -3M2 340l6 -22M25 303l-3 16M8 318l14 1M43 323l0 -22M43 323l11 3M54 326l10 -9M64 317l-5 -17M59 300l-16 1M41 300l2 1M30 329l-8 -10M30 329l13 -6M96 374l-43 203M74 358l-2 1M72 359l-19 107M104 346l-11 -23M93 323l-7 -1M66 340l-8 -2M58 338l-4 -12M64 317l20 3M84 320l2 2M177 349l12 -11M189 338l-9 -15M180 323l-18 4M188 366l-11 -17M188 366l-14 12M161 356l7 -6M193 366l12 -19M193 366l-5 0M205 347l-7 -7M144 338l16 -12M160 326l2 1M195 80l1 -10M195 80l18 5M196 70l14 -10M213 85l2 -17M215 68l-5 -8M189 98l9 7M198 105l16 -17M214 88l-1 -3M190 84l5 -4M9 14l-10 15M24 27l-7 13M17 40l-18 -11M28 48l-10 -6M28 48l12 -7M40 41l-5 -18M17 40l1 2M52 44l-12 -3M52 44l0 17M30 63l22 -2M71 88l-6 12M42 95l-3 -6M39 89l13 -13M72 87l-1 1M76 66l-2 -3M52 76l1 -14M96 70l8 -18M74 63l5 -19M79 44l8 -1M121 68l-15 -16M106 52l-2 0M210 48l-22 3M210 48l0 12M196 70l-11 -10M188 51l-3 9M171 76l-1 -8M185 60l-15 8M146 66l15 -6M170 68l-9 -8M219 90l19 -8M215 68l21 0M506 -16l14 22M43 0l11 7M53 -375l12 373M78 44l-4 -24M78 44l-22 -3M56 41l1 -19M74 20l-16 1M57 22l1 -1M79 44l-1 0M52 44l4 -3M35 23l22 -1M54 7l4 14M65 -2l13 9M78 7l2 7M80 14l-6 6M38 195l17 14M29 218l23 1M55 209l-3 10M43 239l12 -12M52 219l3 8M467 112l-4 3M482 113l5 16M487 129l-6 4M481 133l-20 -6M456 91l-11 13M463 115l-18 -11M435 90l6 -13M441 77l10 3M441 103l3 1M445 104l-1 0M426 108l-2 9M444 104l-6 24M424 117l14 11M497 169l4 -20M501 149l-22 1M479 167l-1 -16M479 150l-1 1M487 129l3 0M481 133l-2 17M490 129l13 17M503 146l-2 3M526 156l-3 1M526 156l21 11M523 157l-4 12M546 174l-11 9M546 174l1 -7M535 183l-10 1M556 158l-9 9M531 148l-5 8M499 171l20 -2M499 171l-2 -2M503 146l4 0M507 146l16 11M520 191l-21 -4M520 191l5 -7M499 187l0 -16M560 185l-14 -11M547 200l-12 -17M538 214l-1 -1M520 191l0 1M520 192l17 21M556 320l104 8M899 326l-340 -35M559 291l-9 6M548 302l2 -5M534 323l-7 -10M527 313l21 -11M548 325l8 -5M550 344l110 -16M551 272l8 19M536 276l-2 11M534 287l16 10M527 313l0 -1M534 287l-11 7M523 294l4 18M537 227l-16 6M530 253l-10 -13M520 240l1 -7M384 369l9 -8M407 365l-14 -4M369 350l4 -4M373 346l18 4M393 361l-2 -11M384 312l7 7M384 312l-19 7M391 319l-4 12M387 331l-11 1M376 332l-11 -13M405 298l-3 19M405 298l0 -1M402 317l-11 2M405 297l-19 -2M386 295l-2 17M370 296l14 -4M370 296l-5 23M386 295l-2 -3M406 321l-4 -4M406 321l0 17M406 338l-9 2M397 340l-10 -9M397 340l-6 10M477 263l-7 14M477 263l-8 -9M470 277l-17 -1M453 276l-3 -21M469 254l-19 1M515 290l-11 5M515 290l-1 -11M504 295l-11 -12M514 279l-11 -7M503 272l-8 3M495 275l-2 8M527 266l-13 13M523 294l-8 -4M507 258l-4 14M483 263l-6 0M483 263l12 12M470 277l8 12M478 289l15 -6M527 312l-15 5M504 295l-4 7M500 302l12 15M505 331l-1 -1M504 330l8 -13M491 351l-9 15M491 351l-15 -9M476 342l-1 0M475 342l-6 15M482 366l-5 0M495 350l-4 1M497 382l-15 -16M477 338l-1 4M477 338l16 -13M493 325l11 5M314 301l-4 -12M314 301l-20 8M310 289l-11 -4M294 309l-4 -3M290 306l0 -14M299 285l-9 7M303 265l19 9M303 265l-7 5M299 285l-3 -15M365 319l-2 1M363 320l-3 1M315 340l-3 -12M315 340l11 4M326 344l11 -6M312 328l8 -9M320 319l17 6M337 325l0 13M329 358l-3 -14M353 344l-16 -6M314 301l6 3M320 304l0 15M299 324l-5 -15M299 324l13 4M341 321l19 0M341 321l-4 4M283 339l22 10M283 339l-7 9M276 348l16 17M305 349l0 11M292 365l9 0M301 365l4 -5M283 338l0 1M315 340l-10 9M274 387l-5 -15M274 387l18 -22M276 348l-7 24M325 365l-20 -5M336 472l-35 -107M205 347l8 2M198 340l11 -24M209 316l1 0M213 349l14 -18M210 316l10 3M227 331l-7 -12M193 366l16 18M213 349l4 5M217 354l-8 30M290 306l-10 3M283 338l-13 -18M544 31l-16 13M544 31l-1 -11M543 20l-1 0M542 20l-21 -2M521 18l-1 18M520 36l8 8M538 -2l4 22M520 6l-1 8M519 14l2 4M544 31l16 9M549 92l10 21M549 92l58 -19M498 59l2 -3M500 56l19 1M508 76l15 -5M523 71l-4 -14M544 59l-16 -15M502 38l18 -2M528 44l-9 13M501 122l14 8M501 122l1 -12M507 107l11 4M518 111l1 17M490 129l11 -7M507 146l8 -16M489 105l13 5M509 91l-2 -2M509 91l-2 16M526 130l-7 -2M530 102l10 15M530 102l-12 9M72 359l-19 -1M48 414l5 -56M-525 343l533 22M2 340l7 4M9 344l-1 21M209 316l-15 -5M180 323l1 -4M194 311l-13 8M210 316l2 -27M191 295l3 16M191 295l5 -8M212 289l-16 -2M303 265l1 -19M296 270l-12 -1M284 269l-1 -20M283 249l21 -3M219 90l5 16M244 105l-1 2M244 105l0 -18M238 82l6 5M224 106l19 1M264 109l-20 -4M264 109l2 9M248 132l18 -14M248 132l-7 -3M243 107l-2 22M198 105l1 4M174 102l2 20M199 109l-9 14M176 122l14 1M-17 34l23 20M-80 85l86 -21M6 64l0 -10M18 42l-12 12M-1 29l-16 5M-15 93l21 14M47 653l-36 -284M8 365l3 4M13 70l11 0M13 70l-6 16M24 70l9 16M33 86l-17 10M16 96l-9 -10M30 63l-6 7M6 64l7 6M-15 93l22 -7M39 89l-6 -3M15 104l1 -8M87 43l9 -17M80 14l12 3M92 17l4 9M106 52l8 -10M114 42l-3 -10M167 -30l-16 34M151 4l7 11M158 15l16 -6M180 -132l19 136M199 4l-22 7M174 9l3 2M172 42l12 3M172 42l-3 -10M169 32l11 -8M189 29l-9 -5M188 51l-4 -6M161 60l0 -5M161 55l11 -13M155 26l3 -11M155 26l14 6M177 11l3 13M211 45l1 -1M211 45l29 13M212 44l26 -12M238 32l7 23M245 55l-5 3M210 48l1 -3M236 68l4 -10M264 69l-10 -14M264 69l-5 14M254 55l-9 0M259 83l-15 4M198 27l2 -21M198 27l10 8M208 35l13 -16M200 6l19 2M219 8l2 11M199 4l1 2M189 29l9 -2M212 44l-4 -9M238 32l1 -4M239 28l-18 -9M250 -174l-26 177M224 3l-5 5M239 28l2 -2M224 3l19 7M243 10l-2 16M265 42l-9 -14M265 42l-11 13M256 28l-15 -2M281 42l23 -12M279 40l-1 -14M278 26l14 -15M304 30l1 -9M305 21l-7 -10M298 11l-6 0M265 42l14 -2M264 69l8 0M287 53l-15 16M287 53l-6 -11M312 41l-8 -11M312 41l-11 19M301 60l-2 1M287 53l12 8M265 16l-9 12M265 16l13 10M296 90l-6 15M296 90l-7 -8M286 81l3 1M286 81l-17 13M270 98l-1 -4M301 60l6 4M307 64l8 19M315 83l-6 7M299 61l-10 21M309 90l-13 0M272 69l14 12M264 109l6 -11M318 42l-6 -1M318 42l12 -12M305 21l16 -1M330 30l-9 -10M393 44l0 -15M393 44l-9 7M393 29l-5 -4M374 45l10 6M374 45l-1 -9M373 36l15 -11M449 10l-8 -6M449 10l11 -4M478 -70l-18 76M441 4l-54 -722M41 157l18 -4M54 131l2 1M56 132l3 20M59 153l0 -1M48 176l14 -10M59 153l3 13M66 104l13 11M56 132l5 -1M61 131l18 -16M92 108l-12 7M80 115l-1 0M307 64l26 -4M333 60l1 -1M412 95l-4 1M424 117l-17 7M407 124l-8 -15M408 96l-9 13M357 162l21 -2M357 162l-1 -20M379 145l2 5M378 160l3 -10M381 135l25 -6M410 136l-4 -7M410 136l-7 16M381 150l22 2M410 136l18 6M407 124l-1 5M438 128l-10 14M461 127l-5 5M438 128l18 4M478 151l-20 -5M456 132l2 14M292 144l5 -6M292 144l-18 -8M274 136l0 -14M274 122l14 -4M297 138l-9 -20M274 122l-8 -4M290 105l2 6M288 118l4 -7M309 90l8 17M317 107l-4 9M292 111l21 5M357 162l-8 7M373 184l-2 0M373 184l8 -12M371 184l-22 -15M356 142l-6 -6M350 136l-11 1M339 161l0 -24M339 161l8 9M347 170l2 -1M371 184l-11 15M343 177l9 19M343 177l4 -7M360 199l-8 -3M343 177l-12 6M352 196l-16 8M331 183l5 21M362 215l1 -5M362 215l-26 1M363 210l-3 -11M336 216l-3 -6M333 210l3 -6M326 247l-3 2M326 247l16 6M323 249l2 24M342 253l-1 12M309 228l22 2M309 228l-6 5M331 230l-5 17M304 246l19 3M303 233l1 13M345 235l-1 16M345 235l-11 -8M334 227l-3 3M322 274l2 -1M324 273l1 0M363 263l-5 11M363 263l-6 -11M358 274l-2 1M356 275l-15 -10M447 284l-10 -1M447 284l5 12M452 296l-14 17M431 287l6 -4M431 287l-4 19M427 306l3 7M438 313l-8 0M405 298l22 8M411 282l-6 15M411 282l20 5M428 317l2 -4M428 317l-22 4M428 317l-1 21M453 324l-1 9M453 324l-15 -11M452 333l-25 5M499 187l-2 2M520 192l-12 22M497 189l-1 17M496 206l12 8M537 213l-28 4M508 214l1 3M521 233l-12 -15M509 217l0 1M449 213l15 -9M449 213l-15 -8M434 205l-1 -6M433 199l11 -12M444 187l5 0M464 204l-15 -17M479 167l-7 8M497 189l-20 -2M477 187l-5 -12M450 157l20 18M472 175l-2 0M492 306l-3 12M492 306l-16 -11M489 318l-22 -2M476 295l-9 9M467 304l0 12M500 302l-8 4M493 325l-4 -7M478 289l-2 6M477 338l-10 -22M453 276l-6 8M452 296l15 8M453 324l14 -8M475 342l-21 -3M452 333l2 6M469 357l-10 2M454 339l-2 8M227 331l2 1M220 319l13 -13M239 307l-6 -1M239 307l10 17M229 332l20 -8M239 307l16 -9M255 298l8 21M263 319l-9 6M254 325l-5 -1M269 372l-16 -8M253 364l-17 23M217 354l15 5M236 387l-4 -28M524 72l21 -6M524 72l4 20M544 89l-13 6M544 89l2 -22M546 67l-1 -1M528 92l3 3M523 71l1 1M544 59l1 7M509 91l19 1M549 92l-5 -3M530 102l1 -7M607 73l-61 -6M29 334l19 17M22 341l7 19M48 351l0 1M33 361l-4 -1M30 329l-1 5M9 344l13 -3M58 338l-10 13M11 369l18 -9M53 358l-5 -6M48 414l-15 -53M59 300l6 -8M65 292l-10 -17M54 252l-8 -3M54 252l5 17M59 269l-4 6M160 210l14 2M160 210l-3 17M174 212l8 17M157 227l14 7M171 234l11 -5M181 319l-10 -16M172 298l-1 5M160 326l-6 -11M171 303l-17 12M136 336l-4 -21M128 314l-5 -20M128 314l-14 5M114 319l-9 -2M105 317l-1 -21M123 294l-17 0M104 296l2 -2M132 315l-4 -1M290 292l-17 -11M284 269l-9 5M275 274l-2 7M280 309l-14 -20M273 281l-7 8M255 298l3 -7M263 319l7 1M233 306l-4 -14M258 291l-12 -10M212 289l5 -2M229 292l-12 -5M260 259l-16 12M260 259l15 15M246 281l-2 -10M144 102l-8 8M128 109l8 1M104 114l0 2M128 109l-10 13M54 252l18 -10M55 227l16 8M71 235l1 7M73 266l-14 3M73 266l3 -17M72 242l4 7M85 276l-12 -10M85 276l2 -1M76 249l20 4M87 275l9 -22M288 226l-3 -7M280 216l-11 3M269 219l-6 10M263 229l8 15M275 244l-4 0M283 249l-8 -5M303 233l-15 -7M260 259l0 -5M260 254l11 -10M172 158l5 -16M172 158l18 2M189 142l7 9M190 160l6 -9M135 24l-7 19M135 24l17 4M150 42l-17 5M150 42l2 -14M133 47l-5 -4M139 5l12 -1M139 5l-8 12M131 17l4 7M155 26l-3 2M134 58l-1 -11M161 55l-11 -13M114 42l14 1M99 11l20 5M99 11l8 -63M112 -45l8 60M120 15l-1 1M111 32l8 -16M78 7l29 -59M139 5l-27 -50M131 17l-11 -2M265 14l-14 -11M265 14l13 -13M251 3l8 -63M278 1l-19 -61M265 16l0 -2M243 10l8 -7M292 11l-14 -10M407 28l9 8M407 28l5 -13M412 15l11 -3M416 36l9 -1M423 12l2 1M425 13l4 15M393 44l13 7M393 29l14 -1M406 51l10 -15M449 10l1 18M441 4l-16 9M357 30l-13 -11M357 30l-3 8M354 38l-14 2M344 19l-12 11M340 40l-8 -10M374 45l-16 10M358 55l-4 -17M373 36l-13 -7M360 29l-3 1M358 55l-24 4M330 30l2 0M326 9l17 2M326 9l-6 -11M343 11l-9 -72M320 -2l14 -59M321 20l5 -11M343 12l0 -1M298 11l22 -13M388 25l-2 -7M412 15l-14 -10M386 18l12 -13M423 12l-22 -59M398 5l3 -52M478 16l9 18M478 16l0 -1M478 15l3 -2M481 13l14 -2M503 17l-8 -6M500 36l-13 -2M478 -70l3 83M460 6l18 9M506 -16l-11 27M519 14l-16 3M502 38l-2 -2M482 55l-6 -8M406 51l13 6M425 35l7 14M432 49l-13 8M417 89l1 -15M441 77l-3 -6M418 74l3 -3M438 71l-17 0M399 69l7 -18M399 69l19 5M421 71l-2 -14M458 59l13 -14M458 59l-15 -4M443 55l-1 -2M442 53l11 -21M471 45l-10 -12M461 33l-8 -1M465 70l-7 -11M476 47l-5 -2M432 49l10 4M450 28l3 4M478 16l-17 17M59 152l22 -2M61 131l24 12M81 150l4 -7M350 136l7 -10M381 135l-4 -9M357 126l20 0M353 78l-18 -6M353 78l-5 16M336 98l12 -4M336 98l-8 -16M328 82l7 -10M357 77l-4 1M357 77l3 -19M333 60l2 12M360 58l-2 -3M335 101l5 10M335 101l1 -3M340 111l16 2M356 113l7 -9M363 104l-15 -10M315 83l13 -1M317 107l18 -6M384 51l-1 9M360 58l17 7M383 60l-6 5M399 69l-1 1M383 60l15 10M408 96l-14 -16M398 70l-4 10M47 180l15 7M62 205l0 -18M373 184l12 12M363 210l22 -4M385 196l0 10M345 235l10 -2M357 252l6 -10M363 242l-8 -9M334 227l2 -11M362 215l0 2M450 255l-4 -3M437 283l-9 -18M446 252l-18 13M411 282l-2 -8M428 265l-10 -2M409 274l9 -11M381 172l13 2M403 152l4 10M407 162l-13 12M426 197l-10 -14M407 205l-6 -17M416 183l-15 5M385 196l15 -8M394 174l6 14M431 149l18 8M431 149l-12 18M420 169l-1 -2M420 169l20 7M440 176l9 -19M428 142l3 7M450 157l-1 0M407 162l12 5M416 183l4 -14M400 188l1 0M433 199l-7 -2M444 187l-4 -11M449 187l21 -12M314 117l-12 19M314 117l18 15M302 136l17 9M319 145l14 -11M332 132l1 2M297 138l5 -2M313 116l1 1M340 111l-8 21M303 158l14 -3M303 158l-11 -8M292 144l0 6M317 155l2 -10M321 161l-4 -6M321 161l18 0M339 137l-6 -3M357 126l-1 -13M303 158l-1 17M321 161l-2 11M319 172l-17 3M331 183l-4 -1M319 172l8 10M296 199l2 9M296 199l10 -8M298 208l12 5M314 194l4 13M310 213l8 -6M285 219l13 -11M280 216l-2 -16M285 195l-7 5M285 195l11 4M286 177l-1 18M286 177l14 0M300 177l6 14M309 228l1 -15M327 182l-13 12M300 177l2 -2M333 210l-15 -3M348 299l-9 6M348 299l4 -11M352 288l-21 -4M331 284l-5 18M326 302l13 3M363 320l-15 -21M370 296l-17 -8M353 288l-1 0M353 288l3 -13M324 273l7 11M320 304l6 -2M412 341l-3 23M412 341l14 -1M431 351l-11 14M409 364l11 1M406 338l6 3M407 365l2 -1M427 338l-1 2M452 347l-15 7M437 354l-6 -3M520 240l-19 6M509 218l-7 8M502 226l-1 20M507 258l-7 -10M483 263l12 -14M495 249l5 -1M500 248l1 -2M442 366l12 2M442 366l-12 13M454 368l7 18M459 359l-5 9M437 354l5 12M477 366l-16 20M252 357l-10 -6M252 357l16 -9M268 348l-14 -14M254 334l-12 14M242 348l0 3M253 364l-1 -7M232 359l10 -8M276 348l-8 0M254 325l0 9M229 332l13 16M67 292l17 -15M67 292l16 12M84 277l8 17M85 276l-1 1M65 292l2 0M84 320l-1 -16M104 296l-12 -2M106 294l0 -18M87 275l19 1M172 298l-7 -11M145 310l4 -21M165 287l-16 2M224 230l20 -13M224 230l19 12M243 242l9 -14M244 217l8 11M244 243l16 11M244 243l-1 -1M263 229l-11 -1M219 272l22 -3M219 272l-7 -15M212 257l1 -4M234 253l7 16M234 253l-20 -2M214 251l-1 2M217 287l2 -15M244 271l-3 -2M196 287l-1 -3M195 284l2 -18M197 266l15 -9M220 233l4 -3M220 233l-6 18M189 230l4 12M189 230l8 -7M193 242l20 11M220 233l-23 -10M136 110l4 13M118 122l4 9M122 131l6 1M140 123l-12 9M172 125l-2 8M172 125l-16 -7M170 133l-17 9M156 118l-9 8M147 126l6 16M176 122l-4 3M190 123l3 6M193 129l-4 13M155 107l1 11M172 158l-5 4M167 162l-15 -19M152 143l1 -1M140 123l7 3M128 132l13 16M141 148l11 -5M146 232l-5 9M146 232l-9 -19M141 241l-18 -5M118 227l5 9M118 227l1 -9M119 218l16 -5M137 213l-2 0M160 210l-4 -4M157 227l-11 5M137 213l19 -7M115 200l18 -9M115 200l0 12M115 212l4 6M135 213l-2 -22M96 231l-2 -20M75 231l3 -21M78 210l15 0M94 211l-1 -1M71 235l4 -4M97 232l1 20M97 232l-1 -1M96 253l2 -1M118 227l-21 5M115 212l-21 -1M62 205l15 3M77 208l1 2M99 191l-17 -4M77 208l5 -21M104 189l11 11M104 189l-5 2M248 132l5 10M274 136l-10 9M224 230l-4 -20M220 210l20 -3M244 217l0 -6M244 211l-4 -4M269 219l-12 -15M244 211l13 -7M278 200l-16 -5M257 204l5 -9M206 132l4 10M206 132l11 -15M210 142l15 0M217 117l15 14M232 131l-7 11M193 129l13 3M196 151l8 -1M199 109l18 8M224 106l-7 11M230 157l-5 -15M230 157l12 3M242 160l11 -18M230 157l-12 9M204 150l10 15M218 166l-4 -1M190 160l4 13M194 173l4 3M214 165l-16 11M368 15l8 -2M368 15l-12 -8M356 7l17 -65M360 29l8 -14M386 18l-10 -5M343 12l13 -5M88 137l-3 5M88 137l9 -4M85 142l23 15M97 133l18 7M115 140l0 9M115 149l-6 7M109 156l-1 1M80 115l8 22M85 143l0 -1M104 116l-7 17M136 155l5 -7M136 155l-21 -6M106 184l18 -9M106 184l-9 -16M124 175l-15 -19M97 168l11 -11M385 107l-4 2M381 109l-17 -6M364 103l5 -20M383 84l-8 -4M369 83l6 -3M399 109l-14 -2M394 80l-11 4M377 126l4 -17M363 104l1 -1M357 77l12 6M377 65l-2 15M72 182l9 4M72 182l-2 -13M81 186l9 -18M70 169l12 -8M90 168l-8 -7M62 187l10 -5M82 187l-1 -1M62 166l8 3M104 189l2 -5M81 150l1 11M441 246l-18 -2M441 246l-4 -17M437 229l-11 -7M419 233l4 -9M426 222l-3 2M446 251l0 1M446 251l-5 -5M416 256l7 -12M450 223l10 8M450 223l-13 6M460 231l-14 20M450 223l-1 -10M434 205l-8 17M407 205l-3 7M404 212l19 12M385 206l5 6M404 212l-3 2M390 212l11 2M362 217l17 13M390 212l-11 18M384 292l-1 -12M409 274l-9 -2M400 272l-17 8M358 274l24 5M382 279l1 1M363 263l16 -6M382 279l-3 -22M484 227l-7 7M484 227l-1 -18M483 209l-11 -6M466 230l10 5M466 230l1 -25M476 235l1 -1M502 226l-18 1M495 249l-18 -15M496 206l-13 3M477 187l-5 16M460 231l6 -1M464 204l3 1M174 212l10 -12M182 229l7 1M199 214l-15 -14M195 284l-21 -7M197 266l-13 -6M174 277l10 -17M165 287l5 -9M193 242l-11 14M184 260l-2 -4M171 234l-3 16M182 256l-14 -6M98 252l12 3M106 276l5 -3M111 273l-1 -18M123 236l-10 18M113 254l-3 1M167 162l-3 6M164 168l15 10M124 175l1 0M133 191l1 -2M134 189l-9 -14M136 155l1 6M125 175l12 -14M376 240l4 -5M376 240l4 16M380 235l19 2M380 256l13 1M393 257l9 -9M402 248l-2 -10M400 238l-1 -1M363 242l13 -2M379 230l1 5M379 257l1 -1M401 214l-2 23M416 256l-14 -8M419 233l-19 5M217 207l-8 0M217 207l9 -21M226 186l-1 -1M225 185l-24 1M220 210l-3 -3M199 214l10 -7M240 207l-3 -17M231 186l6 4M231 186l-5 0M184 200l0 -2M184 198l17 -12M242 160l2 5M218 166l7 19M231 186l13 -21M198 176l3 10M184 198l-5 -5M179 178l0 15M170 278l-10 -15M168 250l-5 3M163 253l-3 10M141 241l1 1M163 253l-21 -11M144 285l-14 -3M130 282l-1 -1M129 281l3 -19M150 267l-13 -9M149 289l-5 -4M160 263l-10 4M123 294l7 -12M111 273l18 8M113 254l19 8M142 242l-5 16M139 189l16 -17M139 189l17 12M156 201l7 -8M163 193l-3 -21M160 172l-5 0M134 189l5 0M137 161l18 11M156 206l0 -5M179 193l-16 0M164 168l-4 4M252 169l6 18M252 169l19 -8M281 174l-21 14M281 174l-3 -10M237 190l21 -3M244 165l8 4M264 145l7 16M286 177l-5 -3M262 195l-2 -7M292 150l-14 14" stroke="#f8b4d8" stroke-width="1.2" stroke-linecap="round" fill="none" stroke-opacity="0.4"/>
<path d="M104 114l-12 -6M121 100l-6 -1M-1 310l-709 -7M144 102l6 0M9 182l2 -3M593 227l-54 -11M465 70l-14 10M104 346l-17 9M118 344l10 0M155 357l6 -1M23 133l15 4M23 174l18 10M38 195l-8 6M593 124l-46 12M82 331l4 -9M177 349l-9 1M168 350l-6 -23M198 340l-9 -2M28 48l2 15M71 88l-19 -12M74 63l-21 -1M87 43l17 9M214 88l5 2M236 68l2 14M538 -2l-18 8M54 7l11 -9M53 62l-1 -1M461 127l2 -12M497 169l-18 -2M519 169l6 15M556 320l-8 -18M373 346l3 -14M507 258l19 3M469 357l8 9M310 289l12 -15M354 348l-1 -4M353 344l7 -23M299 324l-16 14M280 309l-10 11M560 40l-16 19M502 38l-2 18M507 107l-5 3M519 128l-4 2M96 26l15 6M167 -30l7 39M184 45l5 -16M281 42l-2 -2M290 105l-20 -7M259 83l10 11M318 42l16 17M356 142l23 3M381 135l-2 10M378 160l3 12M341 265l-16 8M344 251l-2 2M357 252l-13 -1M458 146l-8 11M459 359l-7 -12M29 334l-7 7M48 352l-15 9M46 276l9 -1M191 295l-19 3M132 315l13 -5M154 315l-9 -5M118 344l-4 -25M93 323l12 -6M266 289l-8 2M229 292l17 -11M121 100l7 9M104 116l14 6M288 226l-13 18M285 219l-5 -3M177 142l12 0M92 17l7 -6M425 35l4 -7M450 28l-21 0M334 59l6 -19M343 12l1 7M503 17l-3 19M476 47l11 -13M438 71l5 -16M55 209l7 -4M355 233l7 -16M426 197l-19 8M306 191l8 3M341 321l-2 -16M426 340l5 11M420 365l10 14M83 304l9 -10M244 243l-10 10M177 142l-7 -9M96 231l-21 0M99 191l-6 19M253 142l11 3M204 150l6 -8M241 129l-9 2M376 13l-3 -71M122 131l-7 9M385 107l-2 -23M97 168l-7 0M423 244l-4 -11M418 263l-2 -7M467 205l5 -2M469 254l7 -19M197 223l2 -9M174 277l-4 1M194 173l-15 5M400 272l-7 -15M209 207l-8 -21M144 285l6 -18M132 262l5 -4M260 188l-2 -1M278 164l-7 -3" stroke="#fcd0e4" stroke-width="1.92" stroke-linecap="round" fill="none" stroke-opacity="0.7"/>
<rect width="557.3" height="372.2" filter="url(#he3nr)" opacity="0.75"/>
<ellipse cx="90" cy="150" rx="150" ry="140" fill="#b060c0" opacity="0.13"/>
<ellipse cx="400" cy="200" rx="150" ry="110" fill="#ffd0e0" opacity="0.12"/>
<ellipse rx="22" ry="13" transform="translate(366 203) rotate(20)" fill="#f0608c" opacity="0.7"/>
<path d="M560 173h0M257 156h0M134 225h0M396 375h0M13 329h0M127 144h0M140 349h0M280 295h0M320 70h0M529 61h0M557 24h0M27 100h0M222 368h0M267 27h0M430 236h0M16 162h0M393 161h0M444 376h0M81 292h0M307 -5h0M486 197h0M463 349h0M348 104h0M391 226h0M267 304h0M72 306h0M18 85h0M46 337h0M-1 167h0M411 63h0M475 219h0M385 3h0M491 0h0M347 331h0M466 367h0M307 278h0M498 80h0M344 31h0M416 327h0M198 200h0M81 371h0M14 217h0M250 310h0M65 51h0M563 277h0M243 365h0M85 29h0M275 258h0M448 357h0M346 120h0M45 13h0M394 308h0M445 90h0M431 364h0M162 40h0M285 131h0M563 197h0M327 330h0M339 350h0M243 335h0M-3 374h0M111 377h0M491 294h0M160 373h0M133 375h0M376 306h0M435 163h0M101 359h0M320 221h0M145 327h0M26 371h0M382 39h0M17 254h0M496 263h0M186 72h0M94 157h0M452 309h0M458 218h0M548 7h0M350 -1h0M250 72h0M291 -5h0M223 30h0M464 264h0M90 3h0M416 151h0M102 144h0M273 81h0M223 76h0M351 260h0M256 240h0M166 113h0M254 17h0M183 0h0M13 28h0M5 97h0M109 170h0M174 336h0M299 218h0M471 139h0M216 132h0M75 129h0M470 0h0M171 202h0M239 230h0M194 324h0M420 293h0M384 71h0M419 47h0M475 122h0M289 205h0M44 365h0M509 180h0M265 174h0M230 44h0M147 115h0M427 -1h0M490 142h0M349 224h0M68 330h0M346 47h0M493 24h0M469 59h0M188 17h0M190 353h0M373 269h0M348 312h0M212 102h0M62 350h0M466 332h0M417 110h0M71 195h0M550 227h0M560 307h0M308 314h0M-2 355h0M493 234h0M392 92h0M229 262h0M329 153h0M190 378h0M103 220h0M365 336h0M156 76h0M216 153h0M30 36h0M532 10h0M465 190h0M264 132h0M295 165h0M545 104h0M291 257h0M537 299h0M478 103h0M541 264h0M517 82h0M64 74h0M366 4h0M145 15h0M205 236h0M56 88h0M413 311h0M69 159h0M316 11h0M317 355h0M488 180h0M341 192h0M142 202h0M412 4h0M151 158h0M145 53h0M108 129h0M140 175h0M516 101h0M140 36h0M185 214h0M-2 295h0M353 243h0M205 363h0M390 246h0M500 99h0M525 -5h0M492 218h0M270 208h0M-2 196h0M370 284h0M231 278h0M84 78h0M479 356h0M499 314h0M61 367h0M506 198h0M176 363h0M438 19h0M526 116h0M531 238h0M276 14h0M17 200h0M293 355h0M114 285h0M123 159h0M476 33h0M124 29h0M521 142h0M402 18h0M449 118h0M213 -4h0M367 252h0M6 140h0M220 303h0M557 370h0M541 154h0M158 240h0M305 202h0M128 3h0M462 83h0M41 210h0M511 235h0M-2 325h0M277 147h0M114 304h0M561 97h0M418 25h0M33 271h0M407 80h0M374 199h0M95 305h0M176 52h0M524 280h0M133 70h0M377 217h0M531 27h0M41 72h0M169 21h0M424 127h0M0 79h0M135 298h0M349 152h0M394 57h0M545 284h0M140 134h0M533 169h0M5 42h0M98 284h0M79 173h0M122 56h0M245 180h0M231 243h0M53 194h0M206 274h0M376 94h0M561 255h0M449 203h0M480 325h0M147 90h0M120 89h0M83 261h0M48 146h0M93 180h0M230 171h0M179 35h0M442 343h0M182 169h0M558 56h0M438 37h0M454 172h0M229 346h0M200 91h0M168 314h0M463 289h0M149 257h0M110 68h0M463 244h0M35 350h0M397 327h0M406 177h0M153 187h0M337 242h0M74 -5h0M276 229h0M52 107h0M516 249h0M452 69h0M124 357h0M231 216h0M92 340h0M504 282h0M265 334h0M272 57h0M232 97h0M172 264h0M238 -1h0M314 133h0M88 199h0M413 244h0M384 341h0M194 254h0M169 221h0M485 68h0M124 331h0M299 44h0M419 209h0M521 328h0M490 157h0M26 188h0M245 256h0M19 356h0M290 26h0M358 90h0M551 127h0M331 18h0M263 360h0M507 6h0M167 145h0M88 241h0M69 278h0M284 69h0M252 117h0M342 85h0M483 276h0M481 250h0M427 183h0M255 346h0M332 314h0M438 298h0M461 18h0M-5 15h0M534 198h0M281 365h0M556 80h0M31 -5h0M428 253h0M560 352h0M183 134h0M2 245h0M223 59h0M388 185h0M185 111h0M248 197h0M109 5h0M242 296h0M349 66h0M238 145h0M-2 -3h0M34 312h0M275 189h0M255 374h0M368 70h0M18 55h0M482 309h0M181 244h0M321 289h0M373 55h0M24 16h0M301 337h0M434 114h0M394 141h0M493 364h0M397 284h0M37 170h0M108 333h0M404 38h0M361 361h0M100 36h0M99 267h0M361 303h0M156 275h0M389 267h0M265 3h0M229 200h0M231 15h0M159 302h0M428 81h0M-6 54h0M68 143h0M93 122h0M537 138h0M12 116h0M466 159h0M237 319h0M318 29h0M12 286h0M316 259h0M79 100h0M412 194h0M365 41h0M132 99h0M46 31h0M199 139h0M212 177h0M502 132h0M330 169h0M510 26h0M541 335h0M365 152h0M554 210h0M257 217h0M396 199h0M525 223h0M121 267h0M339 367h0M67 33h0M181 288h0M532 370h0M202 162h0M512 304h0M511 66h0M203 301h0M66 218h0M367 135h0M340 277h0M337 294h0M48 262h0M117 110h0M322 94h0M251 38h0M424 276h0M163 4h0M301 296h0M492 117h0M106 21h0M403 260h0M509 347h0M513 269h0M447 233h0M212 220h0M331 42h0M187 184h0M365 231h0M65 257h0M333 1h0M1 267h0M522 207h0M356 185h0M108 240h0M203 123h0M259 274h0M50 289h0M319 237h0M186 272h0" stroke="#8e62bf" stroke-width="7.2" stroke-linecap="round" fill="none" stroke-opacity="0.82"/>
<path d="M560 173h0M257 156h0M134 225h0M396 375h0M13 329h0M127 144h0M140 349h0M280 295h0M320 70h0M529 61h0M557 24h0M27 100h0M222 368h0M267 27h0M430 236h0M16 162h0M393 161h0M444 376h0M81 292h0M307 -5h0M486 197h0M463 349h0M348 104h0M391 226h0M267 304h0M72 306h0M18 85h0M46 337h0M-1 167h0M411 63h0M475 219h0M385 3h0M491 0h0M347 331h0M466 367h0M307 278h0M498 80h0M344 31h0M416 327h0M198 200h0M81 371h0M14 217h0M250 310h0M65 51h0M563 277h0M243 365h0M85 29h0M275 258h0M448 357h0M346 120h0M45 13h0M394 308h0M445 90h0M431 364h0M162 40h0M285 131h0M563 197h0M327 330h0M339 350h0M243 335h0M-3 374h0M111 377h0M491 294h0M160 373h0M133 375h0M376 306h0M435 163h0M101 359h0M320 221h0M145 327h0M26 371h0M382 39h0M17 254h0M496 263h0M186 72h0M94 157h0M452 309h0M458 218h0M548 7h0M350 -1h0M250 72h0M291 -5h0M223 30h0M464 264h0M90 3h0M416 151h0M102 144h0M273 81h0M223 76h0M351 260h0M256 240h0M166 113h0M254 17h0M183 0h0M13 28h0M5 97h0M109 170h0M174 336h0M299 218h0M471 139h0M216 132h0M75 129h0M470 0h0M171 202h0M239 230h0M194 324h0M420 293h0M384 71h0M419 47h0M475 122h0M289 205h0M44 365h0M509 180h0M265 174h0M230 44h0M147 115h0M427 -1h0M490 142h0M349 224h0M68 330h0M346 47h0M493 24h0M469 59h0M188 17h0M190 353h0M373 269h0M348 312h0M212 102h0M62 350h0M466 332h0M417 110h0M71 195h0M550 227h0M560 307h0M308 314h0M-2 355h0M493 234h0M392 92h0M229 262h0M329 153h0M190 378h0M103 220h0M365 336h0M156 76h0M216 153h0M30 36h0M532 10h0M465 190h0M264 132h0M295 165h0M545 104h0M291 257h0M537 299h0M478 103h0M541 264h0M517 82h0M64 74h0M366 4h0M145 15h0M205 236h0M56 88h0M413 311h0M69 159h0M316 11h0M317 355h0M488 180h0M341 192h0M142 202h0M412 4h0M151 158h0M145 53h0M108 129h0M140 175h0M516 101h0M140 36h0M185 214h0M-2 295h0M353 243h0M205 363h0M390 246h0M500 99h0M525 -5h0M492 218h0M270 208h0M-2 196h0M370 284h0M231 278h0M84 78h0M479 356h0M499 314h0M61 367h0M506 198h0M176 363h0M438 19h0M526 116h0M531 238h0M276 14h0M17 200h0M293 355h0M114 285h0M123 159h0M476 33h0M124 29h0M521 142h0M402 18h0M449 118h0M213 -4h0M367 252h0M6 140h0M220 303h0M557 370h0M541 154h0M158 240h0M305 202h0M128 3h0M462 83h0M41 210h0M511 235h0M-2 325h0M277 147h0M114 304h0M561 97h0M418 25h0M33 271h0M407 80h0M374 199h0M95 305h0M176 52h0M524 280h0M133 70h0M377 217h0M531 27h0M41 72h0M169 21h0M424 127h0M0 79h0M135 298h0M349 152h0M394 57h0M545 284h0M140 134h0M533 169h0M5 42h0M98 284h0M79 173h0M122 56h0M245 180h0M231 243h0M53 194h0M206 274h0M376 94h0M561 255h0M449 203h0M480 325h0M147 90h0M120 89h0M83 261h0M48 146h0M93 180h0M230 171h0M179 35h0M442 343h0M182 169h0M558 56h0M438 37h0M454 172h0M229 346h0M200 91h0M168 314h0M463 289h0M149 257h0M110 68h0M463 244h0M35 350h0M397 327h0M406 177h0M153 187h0M337 242h0M74 -5h0M276 229h0M52 107h0M516 249h0M452 69h0M124 357h0M231 216h0M92 340h0M504 282h0M265 334h0M272 57h0M232 97h0M172 264h0M238 -1h0M314 133h0M88 199h0M413 244h0M384 341h0M194 254h0M169 221h0M485 68h0M124 331h0M299 44h0M419 209h0M521 328h0M490 157h0M26 188h0M245 256h0M19 356h0M290 26h0M358 90h0M551 127h0M331 18h0M263 360h0M507 6h0M167 145h0M88 241h0M69 278h0M284 69h0M252 117h0M342 85h0M483 276h0M481 250h0M427 183h0M255 346h0M332 314h0M438 298h0M461 18h0M-5 15h0M534 198h0M281 365h0M556 80h0M31 -5h0M428 253h0M560 352h0M183 134h0M2 245h0M223 59h0M388 185h0M185 111h0M248 197h0M109 5h0M242 296h0M349 66h0M238 145h0M-2 -3h0M34 312h0M275 189h0M255 374h0M368 70h0M18 55h0M482 309h0M181 244h0M321 289h0M373 55h0M24 16h0M301 337h0M434 114h0M394 141h0M493 364h0M397 284h0M37 170h0M108 333h0M404 38h0M361 361h0M100 36h0M99 267h0M361 303h0M156 275h0M389 267h0M265 3h0M229 200h0M231 15h0M159 302h0M428 81h0M-6 54h0M68 143h0M93 122h0M537 138h0M12 116h0M466 159h0M237 319h0M318 29h0M12 286h0M316 259h0M79 100h0M412 194h0M365 41h0M132 99h0M46 31h0M199 139h0M212 177h0M502 132h0M330 169h0M510 26h0M541 335h0M365 152h0M554 210h0M257 217h0M396 199h0M525 223h0M121 267h0M339 367h0M67 33h0M181 288h0M532 370h0M202 162h0M512 304h0M511 66h0M203 301h0M66 218h0M367 135h0M340 277h0M337 294h0M48 262h0M117 110h0M322 94h0M251 38h0M424 276h0M163 4h0M301 296h0M492 117h0M106 21h0M403 260h0M509 347h0M513 269h0M447 233h0M212 220h0M331 42h0M187 184h0M365 231h0M65 257h0M333 1h0M1 267h0M522 207h0M356 185h0M108 240h0M203 123h0M259 274h0M50 289h0M319 237h0M186 272h0" stroke="#b58fd4" stroke-width="3.2" stroke-linecap="round" fill="none" stroke-opacity="0.55"/>
<path d="M416 376h0M14 308h0M156 340h0M348 207h0M212 333h0M490 338h0M256 97h0M491 46h0M408 227h0M-6 231h0M381 322h0M418 354h0M457 47h0M508 160h0M171 184h0M514 374h0M555 143h0M288 239h0M545 45h0M439 328h0M180 89h0M381 356h0M64 118h0M541 356h0M403 352h0M183 150h0M367 118h0M440 269h0M196 60h0M548 188h0M183 305h0M326 196h0M40 52h0M329 114h0M62 176h0M-2 215h0M88 58h0M39 124h0M40 227h0M32 149h0M87 221h0M544 313h0M-4 110h0M140 269h0M289 281h0M161 96h0M65 8h0M428 98h0M443 142h0M428 62h0M390 124h0M558 333h0M459 101h0M126 204h0M478 86h0M103 100h0M104 204h0M213 194h0M535 78h0M34 247h0M55 -4h0M479 377h0M52 163h0M307 148h0M366 170h0M510 117h0M304 103h0M119 189h0M285 321h0M295 189h0M148 218h0M317 54h0M331 258h0M441 219h0M372 374h0M373 26h0M313 182h0M232 116h0M454 -4h0M56 241h0M51 312h0M158 128h0M205 73h0M313 370h0M128 251h0M210 19h0M17 2h0M31 291h0M302 77h0M294 376h0M278 109h0M77 343h0M130 120h0M512 48h0M143 -5h0M356 17h0M310 165h0M194 40h0M299 124h0M283 94h0" stroke="#55389f" stroke-width="4.6" stroke-linecap="round" fill="none" stroke-opacity="0.95"/>
<g fill="#f6f0f0"><circle cx="426" cy="186" r="2.3"/><circle cx="11" cy="102" r="3.3"/><circle cx="318" cy="273" r="1.7"/><circle cx="454" cy="194" r="2.2"/><circle cx="448" cy="358" r="1.9"/><circle cx="250" cy="359" r="4.3"/><circle cx="381" cy="323" r="3.5"/><circle cx="214" cy="149" r="1.9"/><circle cx="105" cy="268" r="1.6"/><circle cx="31" cy="337" r="4.1"/><circle cx="448" cy="319" r="2.1"/><circle cx="410" cy="221" r="2.4"/><circle cx="500" cy="188" r="1.8"/><circle cx="514" cy="292" r="1.9"/><circle cx="322" cy="67" r="3.4"/><circle cx="229" cy="82" r="1.9"/><circle cx="64" cy="129" r="4.1"/><circle cx="310" cy="119" r="4.9"/><circle cx="544" cy="177" r="3.7"/><circle cx="126" cy="341" r="1.9"/><circle cx="496" cy="324" r="2"/><circle cx="270" cy="33" r="5.3"/><circle cx="91" cy="130" r="3.8"/><circle cx="545" cy="144" r="1.8"/><circle cx="17" cy="153" r="4.4"/><circle cx="5" cy="253" r="2"/><circle cx="446" cy="69" r="2"/><circle cx="316" cy="361" r="4.7"/><circle cx="479" cy="162" r="3.9"/><circle cx="330" cy="104" r="4"/><circle cx="401" cy="270" r="2.2"/><circle cx="154" cy="76" r="1.6"/><circle cx="31" cy="257" r="2.2"/><circle cx="310" cy="171" r="1.8"/><circle cx="400" cy="47" r="2.2"/><circle cx="217" cy="249" r="1.6"/><circle cx="523" cy="179" r="5.5"/><circle cx="28" cy="279" r="5.5"/><circle cx="280" cy="256" r="4.3"/><circle cx="487" cy="46" r="2.8"/><circle cx="283" cy="116" r="2.6"/><circle cx="50" cy="269" r="2.1"/><circle cx="204" cy="283" r="4.4"/><circle cx="348" cy="361" r="3.6"/><circle cx="207" cy="231" r="2.1"/><circle cx="467" cy="48" r="2.9"/><circle cx="160" cy="345" r="3.7"/><circle cx="560" cy="86" r="3.3"/><circle cx="509" cy="77" r="3.5"/><circle cx="334" cy="255" r="1.7"/><circle cx="536" cy="265" r="1.9"/><circle cx="420" cy="40" r="4.1"/><circle cx="262" cy="88" r="5.3"/><circle cx="209" cy="1" r="1.8"/><circle cx="92" cy="78" r="1.6"/><circle cx="131" cy="104" r="2"/><circle cx="487" cy="369" r="1.7"/><circle cx="384" cy="211" r="2.6"/><circle cx="58" cy="41" r="2.8"/><circle cx="490" cy="264" r="1.7"/><circle cx="174" cy="227" r="3.9"/><circle cx="234" cy="141" r="3.4"/><circle cx="320" cy="26" r="4.4"/><circle cx="561" cy="239" r="2.3"/><circle cx="316" cy="193" r="2.2"/><circle cx="96" cy="170" r="1.9"/><circle cx="533" cy="127" r="4.6"/><circle cx="126" cy="206" r="2"/><circle cx="119" cy="71" r="2"/><circle cx="470" cy="132" r="2.1"/><circle cx="126" cy="232" r="1.7"/><circle cx="386" cy="143" r="3.1"/><circle cx="396" cy="191" r="2.1"/><circle cx="358" cy="267" r="4.4"/><circle cx="445" cy="101" r="2.6"/></g>
</g></g>
<g transform="translate(455 1440)"><g clip-path="url(#cl3)">
<rect width="556.7" height="371.7" filter="url(#o1n)"/>
<path d="M25 2l-17 6M564 24l-13 7M289 94l7 -8M289 94l19 18M362 133l-7 -3M366 139l-5 18M361 157l-11 2M24 364l-16 10M8 374l-8 -20M114 146l-16 -3M-12 148l29 -16M-12 148l11 6M20 149l-21 5M22 136l-5 -4M125 184l-1 1M124 185l-14 7M50 217l6 7M50 217l-18 4M-45 204l49 16M-273 260l281 -19M444 307l15 -19M444 307l18 3M472 299l-11 -11M461 288l-2 0M554 368l-8 -6M532 362l-1 -15M465 276l-4 12M437 280l4 -11M511 363l-8 73M349 311l16 -10M338 293l18 -3M512 63l-2 -17M535 63l-1 1M513 89l22 -3M536 82l-1 4M550 40l-17 8M599 73l-63 9M473 24l9 -18M540 25l-2 -16M526 41l0 -7M502 28l14 -10M524 -102l13 111M288 94l-16 -23M286 95l-22 -1M279 111l7 12M293 -1l2 15M292 64l20 -1M337 92l5 9M314 110l18 10M355 130l-3 -7M352 123l-13 -6M361 157l10 5M358 187l-15 -16M312 223l6 -1M328 187l-9 2M315 194l0 -1M315 193l-26 -13M505 132l-7 7M27 206l8 -7M68 185l-15 3M33 349l10 2M33 349l-9 8M137 180l4 0M135 153l19 12M30 178l-20 13M30 178l-6 -9M24 169l-16 -3M8 166l-7 23M-45 204l46 -15M22 136l9 -1M41 150l5 1M40 122l-8 -6M-57 137l72 -22M25 2l1 2M26 4l22 -2M48 2l3 5M85 177l-15 9M68 185l2 1M72 156l10 7M108 202l-19 4M511 311l-10 -14M514 312l-3 -1M514 312l8 -3M516 289l9 6M474 299l12 17M469 331l-7 -21M531 274l5 16M549 269l8 7M591 310l-49 -15M541 292l1 3M538 316l-1 6M522 309l16 7M527 344l-2 -13M508 347l-6 -8M508 358l0 -11M508 358l3 5M514 312l2 16M495 323l7 15M396 209l-10 13M375 200l11 -1M373 174l12 5M432 284l5 -4M441 269l-7 -11M386 222l1 20M356 290l4 -23M381 291l-14 -22M343 244l22 -7M344 223l19 2M360 267l-4 -1M372 244l-7 -7M437 26l-7 -25M459 19l-1 -5M272 71l-3 -1M289 48l-4 -3M279 137l7 -14M239 90l-22 -20M217 70l-11 15M438 134l-15 5M454 152l10 -11M463 168l13 -15M464 141l8 4M479 121l-19 7M486 134l-14 11M41 276l6 11M33 349l-2 -18M7 317l11 3M29 250l-3 12M26 262l-22 0M10 244l-6 18M127 334l-8 2M119 336l-14 -5M357 332l-4 21M362 329l-5 3M319 362l-1 -10M333 340l-15 12M356 266l-24 14M52 392l12 -19M56 344l6 6M141 180l4 6M154 165l4 -1M165 188l-20 -2M53 102l-4 -6M127 112l-8 0M15 85l6 0M3 99l12 15M-228 80l231 19M131 72l12 3M122 84l7 7M157 93l2 -2M157 93l-13 -1M154 69l-11 6M144 92l-1 0M129 62l-21 -1M138 46l-20 -5M108 61l-5 -7M114 84l-5 -4M110 225l13 5M104 253l21 -11M122 265l-18 0M118 294l-9 -7M145 273l-7 -23M132 249l-10 16M125 242l7 7M470 364l17 16M418 434l17 -74M410 265l-5 25M393 264l-3 23M512 260l7 12M487 273l4 7M491 286l0 -6M838 100l-281 39M557 117l-10 7M397 173l12 10M381 155l17 5M404 144l4 -4M423 139l6 28M419 185l-1 -1M419 185l13 11M432 196l13 -3M427 236l15 2M427 236l-8 -15M440 217l7 13M423 254l4 -18M416 220l3 1M487 261l-22 -10M462 252l-4 -22M191 74l-17 1M174 75l-4 -3M160 73l10 -1M156 49l22 5M195 56l22 14M217 70l9 -12M205 44l7 0M196 83l10 2M196 83l-5 -9M247 74l-21 -16M238 32l-14 -3M196 83l-9 9M159 91l13 2M243 21l-11 -14M244 -6l-12 13M293 -1l24 5M437 26l-7 7M415 8l1 20M467 98l8 -11M502 113l10 -7M441 105l0 -9M427 112l-7 -15M420 97l5 -6M425 91l16 5M408 140l-10 -18M377 123l-1 -3M428 78l-5 -14M407 77l0 -14M283 147l7 0M333 161l-20 5M333 161l-6 -22M327 139l-9 1M517 158l0 15M484 179l-17 3M518 174l18 4M511 198l20 7M517 173l1 1M492 186l-8 -7M576 199l-40 2M550 220l-16 -17M31 331l8 -3M56 342l-17 -14M127 334l7 9M133 357l-6 4M312 223l-10 8M296 207l-7 5M289 212l-11 0M176 143l0 9M76 114l19 20M69 120l-2 12M33 43l12 -12M19 28l9 -9M17 28l2 0M10 48l14 5M45 31l10 2M33 45l15 11M68 17l-1 -3M68 17l-9 14M86 26l-18 -9M116 31l8 -12M110 9l-11 6M140 27l-16 -8M122 -41l-12 50M91 56l-13 -7M91 56l12 -2M51 251l17 -3M68 248l10 -9M145 201l7 9M167 187l17 6M186 207l-20 6M435 360l-8 -5M470 364l1 -17M538 126l-12 -2M518 109l17 -4M547 124l-6 0M539 96l-4 9M501 239l12 11M501 236l12 -12M513 224l12 0M533 256l-14 -8M538 234l-7 -2M504 208l7 -10M465 222l9 2M465 222l-5 -10M501 236l-14 -20M492 186l-5 23M450 210l10 2M179 33l-14 -2M218 20l-4 -1M214 19l-5 -16M229 7l-14 -15M224 29l-6 -9M251 132l2 14M251 148l-23 -4M228 124l0 20M256 224l18 -4M251 197l-4 1M278 212l-4 8M214 195l27 -4M209 185l-21 4M179 170l8 6M227 124l-11 -3M211 98l5 23M338 71l8 -12M357 34l-9 -9M357 34l-1 6M398 122l1 -5M47 312l0 5M47 312l9 -11M56 301l14 3M70 325l-4 2M39 328l8 -11M73 303l-3 1M73 303l17 2M143 360l11 33M274 220l3 10M277 230l12 5M312 367l-16 136M312 367l7 -5M22 67l2 -2M6 64l16 3M51 83l20 7M94 105l-3 -2M71 103l6 7M66 271l6 -6M98 261l-8 6M94 291l-11 -8M51 290l17 -11M51 265l15 6M167 250l-9 2M170 233l-2 -2M413 357l-6 -4M443 329l1 -22M411 339l-2 -4M411 295l-1 4M193 5l0 1M205 126l-7 10M190 107l3 1M224 149l-26 -13M181 158l17 0M158 118l25 14M326 19l-2 -7M336 29l-10 -10M348 3l4 5M295 14l8 4M372 28l1 -17M373 11l1 0M375 50l8 -10M474 77l19 -8M175 256l9 -1M334 289l-12 11M332 280l-17 0M315 280l-8 14M286 302l-5 6M281 308l-20 -15M237 173l-11 -5M198 158l1 1M76 86l14 4M365 301l7 18M367 329l5 -10M409 401l-14 -28M397 355l-2 18M464 66l-22 -3M467 69l-1 -1M459 47l5 19M487 47l-21 21M217 250l-7 6M291 335l13 9M331 326l-19 7M308 314l-6 7M299 297l-13 5M294 358l-7 -2M287 356l-12 11M282 339l-3 4M270 318l4 0M281 310l-7 8M251 377l14 -12M253 338l-2 4M253 338l7 -3M279 343l-14 14M246 326l11 -13M143 360l11 -9M306 272l11 -16M288 246l5 7M275 274l15 -3M393 351l-16 0M392 330l-17 7M375 337l2 14M409 335l-13 -1M393 315l-1 15M209 419l11 -56M194 375l10 -21M177 360l2 -5M179 355l20 -12M175 256l-8 17M252 302l-12 -1M159 306l18 5M175 283l12 4M251 342l-5 3M153 342l-4 -20M149 322l1 0M240 301l-1 -1M218 312l21 -12M183 331l-11 5M166 324l11 -12M199 341l-16 -10M170 338l2 -2M213 302l7 -12M187 287l1 -1" stroke="#e0f4fb" stroke-width="3.0" stroke-linecap="round" fill="none" stroke-opacity="0.7"/>
<path d="M25 2l-17 6M289 94l7 -8M362 133l-7 -3M361 157l-11 2M8 374l-8 -20M-12 148l29 -16M20 149l-21 5M125 184l-1 1M50 217l6 7M-45 204l49 16M444 307l15 -19M472 299l-11 -11M554 368l-8 -6M465 276l-4 12M511 363l-8 73M338 293l18 -3M535 63l-1 1M536 82l-1 4M599 73l-63 9M540 25l-2 -16M502 28l14 -10M288 94l-16 -23M279 111l7 12M292 64l20 -1M314 110l18 10M352 123l-13 -6M358 187l-15 -16M328 187l-9 2M315 193l-26 -13M27 206l8 -7M33 349l10 2M137 180l4 0M30 178l-20 13M24 169l-16 -3M-45 204l46 -15M41 150l5 1M-57 137l72 -22M26 4l22 -2M85 177l-15 9M72 156l10 7M511 311l-10 -14M514 312l-3 -1M516 289l9 6M469 331l-7 -21M549 269l8 7M541 292l1 3M522 309l16 7M508 347l-6 -8M508 358l3 5M495 323l7 15M375 200l11 -1M432 284l5 -4M386 222l1 20M381 291l-14 -22M344 223l19 2M372 244l-7 -7M459 19l-1 -5M289 48l-4 -3M239 90l-22 -20M438 134l-15 5M463 168l13 -15M479 121l-19 7M41 276l6 11M7 317l11 3M26 262l-22 0M127 334l-8 2M357 332l-4 21M319 362l-1 -10M356 266l-24 14M56 344l6 6M154 165l4 -1M53 102l-4 -6M15 85l6 0M-228 80l231 19M122 84l7 7M157 93l-13 -1M144 92l-1 0M138 46l-20 -5M114 84l-5 -4M104 253l21 -11M118 294l-9 -7M132 249l-10 16M470 364l17 16M410 265l-5 25M512 260l7 12M491 286l0 -6M557 117l-10 7M381 155l17 5M423 139l6 28M419 185l13 11M427 236l15 2M440 217l7 13M416 220l3 1M462 252l-4 -22M174 75l-4 -3M156 49l22 5M217 70l9 -12M196 83l10 2M247 74l-21 -16M196 83l-9 9M243 21l-11 -14M293 -1l24 5M415 8l1 20M502 113l10 -7M427 112l-7 -15M425 91l16 5M377 123l-1 -3M407 77l0 -14M333 161l-20 5M327 139l-9 1M484 179l-17 3M511 198l20 7M492 186l-8 -7M550 220l-16 -17M56 342l-17 -14M133 357l-6 4M296 207l-7 5M176 143l0 9M69 120l-2 12M19 28l9 -9M10 48l14 5M33 45l15 11M68 17l-9 14M116 31l8 -12M140 27l-16 -8M91 56l-13 -7M51 251l17 -3M145 201l7 9M186 207l-20 6M470 364l1 -17M518 109l17 -4M539 96l-4 9M501 236l12 -12M533 256l-14 -8M504 208l7 -10M465 222l-5 -10M492 186l-5 23M179 33l-14 -2M214 19l-5 -16M224 29l-6 -9M251 148l-23 -4M256 224l18 -4M278 212l-4 8M209 185l-21 4M227 124l-11 -3M338 71l8 -12M357 34l-1 6M47 312l0 5M56 301l14 3M39 328l8 -11M73 303l17 2M274 220l3 10M312 367l-16 136M22 67l2 -2M51 83l20 7M71 103l6 7M98 261l-8 6M51 290l17 -11M167 250l-9 2M413 357l-6 -4M411 339l-2 -4M193 5l0 1M190 107l3 1M181 158l17 0M326 19l-2 -7M348 3l4 5M372 28l1 -17M375 50l8 -10M175 256l9 -1M332 280l-17 0M286 302l-5 6M237 173l-11 -5M76 86l14 4M367 329l5 -10M397 355l-2 18M467 69l-1 -1M487 47l-21 21M291 335l13 9M308 314l-6 7M294 358l-7 -2M282 339l-3 4M270 318l4 0M251 377l14 -12M253 338l7 -3M246 326l11 -13M306 272l11 -16M275 274l15 -3M392 330l-17 7M393 315l-1 15M194 375l10 -21M179 355l20 -12M252 302l-12 -1M175 283l12 4M153 342l-4 -20M240 301l-1 -1M183 331l-11 5M199 341l-16 -10M213 302l7 -12" stroke="#e09aa8" stroke-width="0.9" stroke-linecap="round" fill="none" stroke-opacity="0.7"/>
<path d="M528 0h30v32q-22 -6 -30 -32z" fill="#d8f3fb"/>
<ellipse rx="34" ry="11" transform="translate(420 190) rotate(28)" fill="#e2f6fc"/>
<path d="M191 308h0M380 258h0M297 311h0M2 283h0M445 12h0M279 239h0M96 241h0M191 325h0M32 290h0M147 307h0M18 216h0M452 222h0M524 190h0M507 323h0M386 55h0M526 136h0M539 35h0M227 283h0M385 166h0M561 222h0M39 209h0M83 191h0M222 107h0M302 333h0M375 134h0M312 235h0M304 283h0M492 124h0M202 71h0M55 164h0M20 42h0M439 204h0M367 41h0M357 249h0M364 344h0M435 50h0M302 8h0M390 4h0M331 354h0M450 101h0M33 72h0M516 212h0M136 83h0M305 356h0M178 267h0M452 238h0M371 148h0M520 371h0M137 368h0M83 378h0M18 302h0M165 100h0M320 154h0M466 236h0M76 273h0M518 337h0M240 137h0M264 156h0M307 147h0M560 131h0M313 22h0M296 163h0M293 23h0M126 32h0M61 110h0M496 354h0M405 365h0M135 13h0M447 39h0M141 336h0M332 224h0M63 95h0M549 72h0M224 185h0M60 196h0M218 7h0M254 178h0M452 277h0M472 265h0M522 76h0M545 109h0M64 261h0M150 102h0M42 301h0M402 252h0M141 65h0M428 124h0M320 339h0M253 356h0M149 152h0M557 260h0M108 153h0M255 237h0M531 22h0M272 377h0M420 366h0M538 264h0M140 165h0M241 59h0M83 80h0M23 343h0M105 360h0M206 366h0M542 352h0M127 169h0M57 124h0M520 353h0M550 305h0M52 358h0M483 103h0M230 -4h0M265 306h0M231 18h0M500 369h0M434 186h0M67 81h0M175 245h0M298 194h0M168 133h0M187 166h0M26 126h0M291 111h0M412 88h0M231 371h0M556 359h0M281 255h0M135 194h0M424 304h0M296 131h0M302 74h0M103 212h0M293 347h0M99 194h0M515 299h0M37 361h0M408 196h0M331 305h0M-1 234h0M79 129h0M499 311h0M551 88h0M468 114h0M432 101h0M351 232h0M204 11h0M271 103h0M38 261h0M325 67h0M63 44h0M416 280h0M119 69h0M402 343h0M0 108h0M472 50h0M169 299h0M412 -4h0M38 12h0M179 99h0M78 257h0M216 137h0M345 37h0M502 220h0M456 318h0M416 109h0M477 164h0M387 119h0M387 362h0M558 102h0M449 163h0M157 179h0" stroke="#2490e3" stroke-width="9.5" stroke-linecap="round" fill="none" stroke-opacity="0.95"/>
<path d="M314 323h0M237 155h0M81 220h0M154 14h0M366 120h0M3 23h0M523 3h0M410 170h0M10 360h0M37 -6h0M497 199h0M512 146h0M179 376h0M172 163h0M122 5h0M175 325h0M158 283h0M168 85h0M205 111h0M347 341h0M549 0h0M14 142h0M529 114h0M119 198h0M351 110h0M340 148h0M362 202h0M286 367h0M20 239h0M342 189h0M488 302h0M504 162h0M234 244h0M43 190h0M187 -5h0M150 258h0M45 42h0M166 60h0M204 245h0M16 14h0M169 43h0M14 177h0M448 177h0M285 200h0M192 120h0M523 321h0M546 246h0M15 269h0M262 134h0M520 55h0M162 331h0M465 154h0M181 340h0M436 246h0M475 133h0M104 315h0M154 195h0M325 174h0M457 85h0M270 193h0M164 316h0M534 335h0M446 256h0M111 240h0M60 -3h0M231 72h0M42 340h0M531 246h0M43 109h0M58 277h0M60 64h0M525 285h0M277 56h0M181 9h0M463 34h0M396 227h0M530 162h0M417 347h0M487 333h0M484 363h0M456 200h0M273 121h0M201 -3h0M120 54h0M177 222h0M41 136h0M402 51h0M505 270h0M396 300h0M132 313h0M541 279h0M274 293h0M83 313h0M90 118h0M27 105h0M330 106h0M320 377h0M73 34h0M247 314h0M550 193h0M275 170h0M423 18h0M363 -3h0M193 360h0M492 80h0M447 292h0M514 33h0M212 56h0M419 55h0M438 229h0M330 201h0M165 149h0M120 125h0M500 175h0M55 178h0M339 264h0M1 55h0M332 -2h0M376 228h0M403 327h0M268 231h0M378 213h0M300 220h0M475 285h0M446 372h0M450 141h0M153 35h0M52 328h0M183 82h0M377 307h0M13 99h0M112 21h0M443 115h0M138 236h0M277 -4h0M408 37h0M387 340h0M397 72h0M79 95h0M415 153h0M85 149h0M304 260h0M51 20h0M215 350h0M-4 365h0M258 59h0M175 119h0M383 274h0M238 355h0M241 260h0M240 277h0M-3 302h0M120 215h0M107 106h0M318 270h0M73 356h0M524 259h0M171 200h0M562 147h0M480 248h0M437 86h0M419 333h0M286 76h0M349 282h0M561 375h0M286 225h0M121 99h0M18 157h0M436 148h0M561 40h0M457 361h0M491 31h0M258 84h0M263 212h0M517 236h0M86 295h0M220 84h0M318 291h0M209 170h0M28 144h0M95 281h0M258 -2h0M376 109h0M165 259h0M352 299h0M119 276h0M307 95h0M500 255h0M369 60h0M190 243h0M302 375h0M11 -2h0M222 262h0M507 284h0M197 96h0M255 104h0M390 148h0M211 31h0M-3 172h0M551 208h0M71 171h0M149 -3h0M353 93h0M336 58h0M86 348h0M224 300h0M191 40h0M434 344h0M14 58h0M226 202h0M417 72h0M254 27h0M78 65h0M350 68h0M502 56h0M395 106h0M91 41h0M135 99h0M432 67h0M561 8h0M482 195h0M59 315h0M6 129h0M359 378h0M63 144h0M450 56h0M306 179h0M101 0h0M158 224h0M312 304h0M526 99h0M396 187h0M239 335h0M432 317h0M43 229h0M361 314h0M459 301h0M285 326h0M111 137h0M382 326h0" stroke="#3399e6" stroke-width="7.5" stroke-linecap="round" fill="none" stroke-opacity="0.9"/>
<g fill="#2390e2" fill-opacity="0.95"><ellipse rx="5.3" ry="2.1" transform="translate(95 166) rotate(65)"/><ellipse rx="5.3" ry="2.1" transform="translate(11 72) rotate(120)"/><ellipse rx="4.6" ry="1.8" transform="translate(451 343) rotate(88)"/><ellipse rx="5.1" ry="2" transform="translate(408 18) rotate(13)"/><ellipse rx="5.4" ry="2.1" transform="translate(551 170) rotate(48)"/><ellipse rx="5.2" ry="2" transform="translate(483 145) rotate(77)"/><ellipse rx="4.4" ry="1.7" transform="translate(551 323) rotate(157)"/><ellipse rx="4.8" ry="1.9" transform="translate(239 220) rotate(176)"/><ellipse rx="5.1" ry="2" transform="translate(205 310) rotate(114)"/><ellipse rx="5.2" ry="2" transform="translate(70 339) rotate(107)"/><ellipse rx="5.1" ry="2" transform="translate(318 125) rotate(148)"/><ellipse rx="4.4" ry="1.7" transform="translate(161 241) rotate(92)"/><ellipse rx="4.7" ry="1.9" transform="translate(181 67) rotate(23)"/><ellipse rx="4" ry="1.6" transform="translate(385 24) rotate(75)"/><ellipse rx="4.5" ry="1.8" transform="translate(553 290) rotate(134)"/><ellipse rx="4.8" ry="1.9" transform="translate(273 37) rotate(99)"/><ellipse rx="4" ry="1.6" transform="translate(546 50) rotate(47)"/><ellipse rx="4" ry="1.6" transform="translate(339 16) rotate(88)"/><ellipse rx="3.9" ry="1.5" transform="translate(97 70) rotate(73)"/><ellipse rx="4.1" ry="1.6" transform="translate(35 316) rotate(124)"/><ellipse rx="4.9" ry="1.9" transform="translate(359 22) rotate(15)"/><ellipse rx="5.2" ry="2" transform="translate(349 366) rotate(158)"/><ellipse rx="4.1" ry="1.6" transform="translate(323 32) rotate(132)"/><ellipse rx="4" ry="1.6" transform="translate(35 90) rotate(164)"/><ellipse rx="5.2" ry="2" transform="translate(150 83) rotate(50)"/><ellipse rx="4" ry="1.6" transform="translate(271 331) rotate(162)"/><ellipse rx="4" ry="1.6" transform="translate(486 231) rotate(144)"/><ellipse rx="4.1" ry="1.6" transform="translate(107 36) rotate(25)"/><ellipse rx="4.2" ry="1.6" transform="translate(471 10) rotate(22)"/><ellipse rx="4.8" ry="1.9" transform="translate(209 149) rotate(172)"/><ellipse rx="5" ry="2" transform="translate(101 93) rotate(104)"/><ellipse rx="4.1" ry="1.6" transform="translate(515 120) rotate(42)"/><ellipse rx="5" ry="1.9" transform="translate(136 209) rotate(3)"/><ellipse rx="5" ry="1.9" transform="translate(247 288) rotate(122)"/><ellipse rx="5.1" ry="2" transform="translate(24 193) rotate(21)"/><ellipse rx="5.4" ry="2.1" transform="translate(33 57) rotate(116)"/><ellipse rx="4.2" ry="1.6" transform="translate(99 299) rotate(108)"/><ellipse rx="4.9" ry="1.9" transform="translate(247 44) rotate(179)"/><ellipse rx="5" ry="2" transform="translate(15 254) rotate(74)"/><ellipse rx="4.2" ry="1.6" transform="translate(472 312) rotate(88)"/><ellipse rx="5" ry="2" transform="translate(350 49) rotate(126)"/><ellipse rx="4.2" ry="1.6" transform="translate(221 237) rotate(123)"/><ellipse rx="4.4" ry="1.7" transform="translate(242 8) rotate(72)"/><ellipse rx="4.1" ry="1.6" transform="translate(65 289) rotate(154)"/><ellipse rx="3.9" ry="1.5" transform="translate(213 217) rotate(172)"/><ellipse rx="5.3" ry="2.1" transform="translate(499 97) rotate(163)"/><ellipse rx="4.9" ry="1.9" transform="translate(459 0) rotate(42)"/><ellipse rx="5.1" ry="2" transform="translate(178 179) rotate(119)"/><ellipse rx="5.3" ry="2.1" transform="translate(322 85) rotate(122)"/><ellipse rx="5" ry="1.9" transform="translate(547 138) rotate(33)"/><ellipse rx="4.9" ry="1.9" transform="translate(224 41) rotate(2)"/><ellipse rx="4.3" ry="1.7" transform="translate(427 267) rotate(142)"/><ellipse rx="3.8" ry="1.5" transform="translate(203 266) rotate(147)"/><ellipse rx="4" ry="1.5" transform="translate(-2 6) rotate(159)"/><ellipse rx="4.6" ry="1.8" transform="translate(503 71) rotate(91)"/><ellipse rx="5" ry="1.9" transform="translate(152 362) rotate(78)"/><ellipse rx="5.3" ry="2.1" transform="translate(447 71) rotate(168)"/><ellipse rx="4.9" ry="1.9" transform="translate(36 163) rotate(104)"/><ellipse rx="5" ry="1.9" transform="translate(422 200) rotate(53)"/><ellipse rx="5.2" ry="2" transform="translate(297 37) rotate(26)"/><ellipse rx="4.7" ry="1.8" transform="translate(348 322) rotate(48)"/><ellipse rx="4.2" ry="1.6" transform="translate(198 195) rotate(54)"/><ellipse rx="4" ry="1.6" transform="translate(-5 344) rotate(57)"/><ellipse rx="4.6" ry="1.8" transform="translate(118 322) rotate(134)"/><ellipse rx="4" ry="1.6" transform="translate(164 -3) rotate(32)"/><ellipse rx="5.1" ry="2" transform="translate(304 -5) rotate(41)"/><ellipse rx="3.9" ry="1.5" transform="translate(21 377) rotate(109)"/><ellipse rx="4.6" ry="1.8" transform="translate(288 288) rotate(103)"/><ellipse rx="4.6" ry="1.8" transform="translate(310 210) rotate(46)"/><ellipse rx="4.2" ry="1.6" transform="translate(301 53) rotate(150)"/><ellipse rx="3.9" ry="1.5" transform="translate(165 348) rotate(9)"/><ellipse rx="5.3" ry="2.1" transform="translate(415 241) rotate(56)"/><ellipse rx="5.1" ry="2" transform="translate(63 212) rotate(58)"/><ellipse rx="4.3" ry="1.7" transform="translate(548 19) rotate(149)"/><ellipse rx="4.1" ry="1.6" transform="translate(469 377) rotate(21)"/><ellipse rx="4" ry="1.6" transform="translate(152 136) rotate(76)"/><ellipse rx="4.7" ry="1.8" transform="translate(119 255) rotate(0)"/><ellipse rx="5" ry="2" transform="translate(486 -4) rotate(31)"/><ellipse rx="4.3" ry="1.7" transform="translate(359 170) rotate(90)"/><ellipse rx="4.4" ry="1.7" transform="translate(472 210) rotate(149)"/><ellipse rx="5.2" ry="2" transform="translate(132 263) rotate(116)"/><ellipse rx="4.7" ry="1.9" transform="translate(375 187) rotate(58)"/><ellipse rx="5.3" ry="2.1" transform="translate(196 178) rotate(18)"/><ellipse rx="4" ry="1.5" transform="translate(381 376) rotate(146)"/><ellipse rx="4.2" ry="1.6" transform="translate(273 21) rotate(179)"/><ellipse rx="4.7" ry="1.8" transform="translate(368 363) rotate(167)"/><ellipse rx="4.6" ry="1.8" transform="translate(548 155) rotate(65)"/><ellipse rx="5.2" ry="2" transform="translate(408 125) rotate(6)"/><ellipse rx="4" ry="1.5" transform="translate(84 329) rotate(32)"/><ellipse rx="4.9" ry="1.9" transform="translate(244 121) rotate(157)"/><ellipse rx="4" ry="1.6" transform="translate(59 237) rotate(48)"/><ellipse rx="5.2" ry="2" transform="translate(187 149) rotate(129)"/><ellipse rx="4.1" ry="1.6" transform="translate(1 88) rotate(58)"/><ellipse rx="4" ry="1.6" transform="translate(297 240) rotate(172)"/><ellipse rx="5" ry="1.9" transform="translate(7 334) rotate(9)"/><ellipse rx="4.4" ry="1.7" transform="translate(109 181) rotate(75)"/><ellipse rx="4.3" ry="1.7" transform="translate(356 144) rotate(23)"/><ellipse rx="3.9" ry="1.5" transform="translate(484 61) rotate(104)"/><ellipse rx="5.1" ry="2" transform="translate(399 276) rotate(100)"/><ellipse rx="4.2" ry="1.6" transform="translate(365 284) rotate(5)"/><ellipse rx="4.3" ry="1.7" transform="translate(209 291) rotate(20)"/><ellipse rx="4.5" ry="1.7" transform="translate(33 30) rotate(144)"/><ellipse rx="4.1" ry="1.6" transform="translate(276 356) rotate(170)"/><ellipse rx="3.9" ry="1.5" transform="translate(352 215) rotate(30)"/><ellipse rx="5.2" ry="2" transform="translate(7 205) rotate(125)"/><ellipse rx="5.2" ry="2" transform="translate(546 373) rotate(78)"/><ellipse rx="5.1" ry="2" transform="translate(84 10) rotate(63)"/><ellipse rx="4.7" ry="1.8" transform="translate(231 312) rotate(70)"/><ellipse rx="4.6" ry="1.8" transform="translate(142 350) rotate(86)"/><ellipse rx="4.2" ry="1.6" transform="translate(219 334) rotate(30)"/><ellipse rx="4.9" ry="1.9" transform="translate(108 345) rotate(21)"/><ellipse rx="4.4" ry="1.7" transform="translate(272 85) rotate(67)"/><ellipse rx="5.1" ry="2" transform="translate(133 284) rotate(109)"/><ellipse rx="5.1" ry="2" transform="translate(484 17) rotate(138)"/><ellipse rx="4.7" ry="1.8" transform="translate(532 302) rotate(172)"/><ellipse rx="4.6" ry="1.8" transform="translate(121 372) rotate(73)"/><ellipse rx="4.2" ry="1.7" transform="translate(539 219) rotate(26)"/><ellipse rx="4.2" ry="1.6" transform="translate(409 313) rotate(38)"/><ellipse rx="4.4" ry="1.7" transform="translate(501 15) rotate(95)"/><ellipse rx="3.9" ry="1.5" transform="translate(122 145) rotate(66)"/><ellipse rx="5.2" ry="2" transform="translate(172 19) rotate(150)"/><ellipse rx="4.3" ry="1.7" transform="translate(395 132) rotate(112)"/><ellipse rx="5.1" ry="2" transform="translate(374 81) rotate(65)"/><ellipse rx="4.7" ry="1.8" transform="translate(0 249) rotate(80)"/><ellipse rx="4.1" ry="1.6" transform="translate(265 345) rotate(154)"/><ellipse rx="4.2" ry="1.6" transform="translate(124 348) rotate(106)"/><ellipse rx="4.3" ry="1.7" transform="translate(329 252) rotate(146)"/><ellipse rx="5.3" ry="2.1" transform="translate(341 131) rotate(52)"/><ellipse rx="4" ry="1.6" transform="translate(257 323) rotate(142)"/><ellipse rx="4" ry="1.6" transform="translate(287 9) rotate(151)"/></g>
</g></g>
<g transform="translate(1037 1441.4)"><g clip-path="url(#cl4)">
<rect width="556" height="370.9" filter="url(#o2n)"/>
<rect width="556" height="370.9" filter="url(#o2b)"/>
<path d="M50 353h0M83 274h0M468 277h0M168 130h0M401 358h0M368 201h0M216 150h0M400 159h0M297 234h0M352 15h0M128 262h0M317 311h0M29 86h0M279 277h0M108 284h0M228 113h0M461 40h0M519 115h0M201 75h0M260 312h0M123 205h0M245 112h0M72 259h0M231 174h0M335 40h0M455 330h0M141 303h0M389 111h0M150 31h0M230 167h0M271 179h0M305 46h0M263 65h0M154 363h0M444 270h0M198 155h0M392 208h0M356 13h0M396 74h0M182 197h0M528 150h0M359 77h0M522 92h0M301 252h0M389 165h0M360 4h0M548 207h0M331 94h0M267 238h0M229 45h0M109 324h0M114 191h0M395 82h0M449 176h0M527 76h0M236 134h0M152 158h0M237 146h0M483 121h0M31 278h0M242 9h0M420 269h0M364 304h0M150 312h0M202 319h0M555 206h0M235 273h0M400 187h0M45 132h0M378 5h0M227 340h0M398 97h0M76 212h0M342 106h0M287 368h0M361 201h0M35 176h0M13 357h0M287 223h0M378 15h0M457 259h0M40 339h0M482 367h0M51 340h0M433 94h0M44 251h0M35 203h0M448 147h0M185 155h0M63 23h0M314 304h0M551 39h0M169 303h0M162 285h0M523 319h0M347 270h0M477 52h0M187 272h0M266 285h0M542 269h0M328 268h0M515 37h0M26 294h0M474 244h0M254 99h0M547 262h0M548 245h0M475 86h0M401 36h0M182 166h0M350 40h0M444 282h0M461 347h0M434 192h0M370 20h0M208 151h0M410 23h0M114 89h0M112 175h0M553 122h0M38 6h0M415 146h0M549 92h0M541 116h0M543 346h0M223 33h0M345 217h0M354 53h0M466 128h0M177 28h0M12 166h0M74 114h0M410 280h0M248 83h0M349 143h0M548 284h0M477 100h0M426 157h0M141 43h0M285 241h0M142 36h0M327 196h0M402 321h0M93 361h0M161 276h0M130 282h0M195 194h0M490 283h0M422 340h0M228 93h0M461 216h0M497 297h0M256 298h0M221 107h0M453 225h0M413 28h0M291 155h0M23 313h0M252 178h0M321 230h0M68 74h0M54 237h0M94 258h0M440 278h0M546 192h0M299 214h0M336 193h0M144 260h0M425 128h0M55 217h0M138 121h0M487 295h0M530 216h0M403 92h0M348 204h0M112 236h0M355 67h0M435 103h0M495 103h0M493 277h0M171 59h0M281 138h0M338 183h0M18 108h0M302 257h0M138 203h0M110 277h0M350 113h0M75 365h0M98 210h0M86 103h0M103 323h0M286 40h0M21 222h0M135 287h0M339 247h0M98 81h0M438 366h0M264 173h0M272 41h0M98 35h0M55 130h0M93 355h0M437 358h0M14 302h0M425 267h0M29 359h0M549 235h0M469 33h0M340 329h0M174 169h0M368 5h0M108 293h0M531 50h0M87 16h0M419 363h0M18 285h0M311 85h0M379 180h0M118 85h0M210 255h0M47 183h0M519 162h0M57 291h0M472 40h0M453 326h0M399 350h0M416 261h0M78 335h0M474 131h0M296 265h0M111 121h0M117 323h0M171 39h0M112 1h0M237 325h0M95 175h0M3 132h0M306 282h0M208 7h0M425 280h0M67 153h0M493 313h0M382 76h0M130 198h0M398 191h0M451 339h0M34 347h0M284 219h0M306 259h0M292 194h0M386 121h0M178 20h0M434 253h0M514 94h0M491 308h0M526 361h0M375 336h0M117 212h0M440 169h0M154 243h0M285 72h0M166 125h0M534 72h0M145 294h0M154 64h0M441 258h0M437 49h0M212 40h0M297 101h0M307 63h0M53 82h0M533 79h0M125 139h0M42 293h0M87 348h0M220 26h0M121 113h0M114 343h0M406 181h0M283 308h0M317 260h0M115 336h0M146 333h0M497 17h0M204 154h0M46 217h0M315 290h0M77 22h0M187 130h0M261 231h0M481 32h0M463 234h0M542 22h0M292 83h0M103 143h0M458 66h0M229 25h0M242 72h0M135 292h0M484 224h0M345 209h0M286 282h0M126 152h0M108 200h0M124 237h0M494 95h0M64 278h0M507 152h0M375 159h0M188 201h0M287 169h0M266 35h0M338 350h0M28 184h0M488 326h0M216 67h0M357 319h0M515 254h0M40 354h0M132 115h0M85 59h0M150 256h0M203 27h0M321 270h0M204 67h0M492 175h0M363 212h0M524 192h0M444 110h0M300 194h0M186 311h0M304 88h0M46 155h0M345 241h0M369 72h0M108 16h0M103 361h0M269 310h0M433 118h0M210 298h0M533 333h0M478 35h0M369 187h0M18 362h0M499 261h0M360 16h0M447 80h0M55 62h0M30 178h0M475 333h0M114 290h0M30 246h0M55 299h0M267 370h0M250 158h0M193 331h0M442 253h0M405 278h0M86 359h0M141 186h0M184 212h0M164 170h0M250 209h0M75 72h0M29 131h0M508 1h0M365 229h0M486 42h0M286 21h0M158 369h0M2 359h0M323 325h0M119 353h0M120 149h0M393 246h0M62 52h0M165 107h0M268 281h0M521 181h0M210 369h0M345 342h0M115 179h0M436 17h0M450 140h0M138 362h0M454 238h0M499 324h0M185 2h0M265 115h0M225 243h0M415 89h0M33 80h0M152 78h0M221 116h0M32 51h0M518 330h0M98 76h0M143 87h0M408 324h0M280 13h0M3 256h0M407 106h0M214 34h0M402 363h0M383 330h0M101 328h0M275 28h0M280 181h0M367 222h0M410 246h0M111 170h0M320 218h0M118 59h0M274 332h0M477 134h0M4 322h0M523 124h0M159 44h0M343 165h0M171 239h0M556 362h0M37 99h0M42 318h0M22 229h0M205 107h0M82 136h0M288 179h0M154 305h0M31 199h0M88 278h0M149 61h0M316 98h0M215 274h0M15 221h0M36 76h0M428 243h0M325 69h0M354 210h0M247 316h0M395 26h0M59 241h0M546 341h0M462 111h0M400 127h0M525 80h0M192 24h0M218 304h0M49 241h0M198 256h0M280 145h0M33 10h0M46 369h0M486 306h0M360 252h0M199 117h0M46 95h0M115 279h0M398 131h0M243 279h0M150 150h0M510 142h0M524 246h0M144 239h0M125 110h0M352 22h0M469 291h0M357 229h0M334 353h0M379 219h0M85 303h0M461 169h0M116 98h0M478 309h0M70 136h0M115 166h0M102 159h0M432 200h0M222 280h0M508 17h0M83 19h0M323 1h0M87 44h0M201 193h0M548 46h0M445 211h0M490 194h0M202 132h0M381 370h0M122 366h0M283 292h0M455 11h0M513 215h0M512 85h0M400 169h0M239 202h0M501 188h0M207 3h0M444 21h0M210 247h0M377 328h0M4 139h0M9 333h0M437 37h0M196 277h0M15 65h0M435 26h0M155 40h0M187 220h0M70 179h0M361 68h0M249 346h0M383 298h0M111 225h0M390 291h0M443 100h0M189 292h0M88 33h0M193 228h0M457 73h0M175 153h0M532 212h0M246 223h0M290 69h0M226 305h0M176 123h0M424 173h0M465 57h0M187 305h0M490 18h0M349 194h0M517 24h0M388 283h0M286 300h0M259 113h0M317 341h0M304 103h0M278 34h0M247 352h0M157 113h0M183 119h0M506 262h0M37 303h0M359 30h0M174 63h0M413 218h0M516 10h0M491 219h0M282 259h0M391 182h0M529 129h0M428 364h0M196 222h0M83 98h0M349 313h0M345 130h0M381 71h0M136 133h0M66 78h0M120 194h0M313 228h0M463 225h0M209 80h0M376 36h0M403 149h0M56 175h0M434 184h0M30 252h0M506 111h0M128 349h0M279 97h0M223 5h0M419 317h0M476 251h0M9 45h0M351 81h0M410 38h0M517 198h0M284 26h0M517 347h0M102 46h0M91 239h0M370 103h0M333 31h0M404 218h0M181 189h0M240 330h0M201 344h0M321 118h0M293 128h0M10 239h0M411 364h0M396 294h0M164 143h0M378 206h0M129 209h0M443 347h0M254 119h0M254 230h0M70 319h0M257 287h0M410 250h0M461 250h0M299 155h0M302 79h0M236 4h0M6 163h0M214 225h0M187 51h0M241 84h0M552 216h0M27 366h0M341 22h0M340 236h0M420 101h0M292 148h0M224 65h0M123 245h0M411 83h0M112 211h0M13 313h0M405 304h0M497 365h0M248 171h0M59 247h0M67 140h0M8 345h0M119 224h0M427 307h0M502 16h0M275 216h0M328 345h0M259 255h0M277 176h0M494 28h0M334 44h0M133 245h0M37 91h0M482 293h0M138 110h0M74 268h0M221 133h0M517 364h0M429 348h0M72 287h0M256 39h0M174 324h0M218 321h0M56 361h0M502 177h0M28 211h0M456 202h0M464 205h0M552 352h0M137 47h0M143 141h0M22 281h0M23 266h0M324 265h0M124 102h0M378 246h0M536 125h0M400 203h0M368 172h0M310 190h0M101 56h0M324 312h0M407 224h0M49 345h0M247 36h0M22 349h0M64 342h0M187 325h0M170 274h0M25 88h0M448 154h0M334 360h0M235 161h0M475 183h0M4 237h0M363 240h0M88 353h0M273 351h0M248 234h0M314 351h0M168 252h0M215 332h0M299 228h0M404 9h0M122 75h0M131 251h0M28 348h0M531 309h0M74 174h0M426 83h0M334 320h0M486 80h0M208 93h0M57 253h0M514 103h0M365 18h0M69 124h0M26 317h0M448 172h0M544 72h0M34 191h0M50 113h0M79 115h0M109 134h0M42 347h0M151 342h0M380 239h0M317 279h0M200 265h0M309 34h0M57 78h0M483 217h0M502 336h0M475 169h0M366 146h0M233 1h0M380 348h0M133 174h0M109 313h0M230 207h0M361 361h0M159 288h0M58 108h0M188 259h0M449 59h0M273 278h0M303 277h0M411 309h0M80 214h0M274 284h0M321 292h0M420 219h0M156 142h0M418 38h0M473 11h0M391 371h0M93 339h0M8 56h0M41 53h0M112 21h0M439 110h0M92 272h0M8 102h0M27 272h0M317 33h0M144 92h0M507 9h0M457 140h0M152 252h0M432 178h0M293 178h0M441 334h0M329 276h0M10 182h0M119 240h0M336 304h0M390 31h0M491 252h0M242 128h0M121 92h0M331 49h0M525 31h0M126 18h0M452 308h0M156 149h0M136 301h0M37 246h0M268 92h0M310 267h0M294 324h0M15 132h0M23 214h0M338 297h0M192 267h0M64 60h0M357 359h0M60 178h0M117 219h0M272 267h0M68 44h0M543 256h0M20 333h0M452 207h0M180 361h0M79 243h0M534 171h0M276 337h0M421 332h0M430 360h0M265 216h0M63 73h0M103 1h0M204 13h0M284 57h0M444 339h0M1 307h0M125 250h0M268 202h0M186 109h0M203 249h0M68 6h0M135 199h0M137 370h0M38 139h0M463 324h0M524 305h0M62 297h0M23 286h0M393 323h0M310 93h0M522 197h0M186 171h0M485 233h0M58 183h0M165 222h0M152 112h0M495 257h0M433 161h0M128 364h0M334 297h0M236 12h0M17 355h0M111 126h0M265 59h0M465 253h0M54 274h0M519 279h0M322 181h0M290 315h0M390 158h0M7 75h0M468 226h0M530 58h0M220 363h0M292 207h0M506 190h0M473 238h0M25 251h0M53 179h0M519 81h0M46 208h0M11 148h0M287 196h0M90 335h0M471 283h0M365 109h0M78 355h0M514 341h0M75 63h0M218 284h0M202 311h0M427 216h0M170 34h0M68 98h0M180 328h0M305 201h0M160 91h0M67 265h0M212 199h0M105 113h0M383 262h0M75 234h0M317 139h0M234 91h0M186 344h0M134 324h0M215 251h0M460 268h0M157 277h0M467 263h0M442 221h0M216 50h0M435 83h0M195 96h0M327 5h0M233 228h0M470 221h0M517 189h0M392 276h0M389 59h0M240 34h0M433 214h0M8 230h0M283 47h0M403 69h0M280 347h0M338 116h0M481 261h0M492 157h0M144 249h0M437 10h0M89 92h0M420 203h0M350 223h0M253 165h0M544 180h0M108 258h0M522 46h0M436 55h0M44 164h0M51 292h0M116 370h0M322 361h0M427 6h0M449 9h0M532 341h0M72 59h0M290 107h0M274 160h0M323 35h0M178 253h0M245 178h0M135 356h0M105 42h0M282 223h0M146 277h0M387 103h0M142 356h0M435 325h0M21 59h0M545 96h0M135 225h0M6 143h0M396 174h0M293 258h0M268 98h0M115 50h0M158 171h0M407 87h0M532 224h0M449 87h0M17 338h0M271 289h0M15 128h0M218 12h0M257 323h0M43 101h0M446 244h0M171 281h0M180 279h0M381 339h0M238 112h0M468 162h0M451 242h0M301 286h0M418 169h0M524 132h0M548 152h0M85 343h0M194 61h0M291 220h0M193 350h0M500 11h0M225 188h0M22 24h0M285 251h0M415 348h0M528 180h0M540 219h0M324 144h0M377 105h0M492 212h0M173 78h0M331 19h0M223 215h0M324 303h0M221 294h0M436 269h0M551 76h0M51 68h0M287 101h0M409 299h0M302 232h0M347 32h0M295 132h0M201 295h0M320 176h0M410 358h0M143 199h0M279 285h0M329 239h0M383 55h0M469 366h0M88 50h0M0 5h0M239 241h0M179 89h0M29 105h0M147 187h0M517 299h0M501 160h0M385 362h0M75 313h0M543 210h0M524 208h0M44 302h0M372 362h0M504 106h0M353 122h0M188 353h0M50 27h0M23 82h0M325 287h0M99 42h0M196 306h0M221 241h0M264 183h0M315 66h0M430 113h0M144 136h0M195 145h0M440 161h0M366 349h0M434 125h0M507 67h0M383 314h0M83 29h0M270 339h0M141 150h0M107 234h0M331 325h0M181 135h0M468 245h0M393 366h0M72 102h0M147 66h0M214 18h0M120 9h0M254 182h0M78 165h0M282 1h0M73 303h0M260 33h0M410 194h0M60 329h0M476 289h0M342 58h0M198 58h0M555 158h0M65 170h0M342 263h0M316 57h0M341 2h0M369 341h0M41 134h0M119 108h0M427 88h0M357 291h0M217 176h0M46 360h0M258 332h0M477 125h0M339 187h0M318 330h0M161 349h0M191 342h0M139 246h0M78 220h0M106 103h0M227 51h0M501 70h0M391 218h0M533 180h0M494 4h0M413 170h0M305 349h0M303 51h0M554 133h0M27 48h0M166 319h0M208 195h0M94 18h0M172 142h0M469 84h0M185 236h0M324 52h0M521 297h0M141 157h0M151 141h0M496 290h0M12 97h0M463 74h0M95 60h0M64 33h0M511 363h0M99 201h0M141 347h0M153 54h0M87 235h0M75 45h0M326 177h0M94 10h0M233 332h0M270 128h0M9 121h0M326 31h0M147 305h0M49 121h0M552 343h0M120 175h0M474 154h0M174 361h0M461 7h0M346 336h0M250 134h0M334 71h0M384 179h0M191 123h0M72 246h0M25 96h0M114 104h0M254 203h0M229 183h0M318 9h0M349 6h0M319 46h0M504 233h0M204 284h0M376 322h0M239 339h0M147 290h0M220 164h0M411 0h0M384 68h0M168 23h0M277 204h0M25 138h0M531 8h0M276 295h0M323 246h0M503 86h0M110 301h0M50 44h0M172 25h0M299 137h0M74 200h0M424 320h0M250 24h0M481 7h0M127 221h0M96 232h0M520 97h0M374 47h0M545 275h0M13 323h0M512 123h0M273 196h0M303 65h0M225 299h0M217 357h0M270 13h0M501 29h0M176 115h0M533 247h0M398 259h0M61 354h0M121 131h0M480 181h0M175 298h0M485 88h0M540 32h0M18 310h0M533 29h0M453 287h0M246 7h0M141 336h0M210 155h0M403 165h0M542 133h0M47 285h0M357 116h0M179 345h0M168 118h0M106 127h0M431 232h0M474 349h0M286 272h0M173 187h0M190 38h0M509 304h0M352 58h0M514 48h0M333 88h0M467 181h0M428 64h0M268 149h0M446 235h0M8 225h0M281 39h0M543 173h0M536 267h0M114 80h0M293 185h0M15 187h0M100 107h0M46 233h0M388 261h0M330 9h0M480 273h0M8 86h0M292 296h0M325 130h0M369 115h0M275 306h0M100 296h0M102 88h0M476 269h0M311 135h0M236 49h0M446 76h0M57 3h0M449 183h0M247 57h0M538 151h0M298 148h0M468 327h0M377 317h0M187 114h0M201 99h0M321 63h0M189 104h0M539 54h0M541 122h0M82 187h0M111 350h0M445 367h0M207 228h0M400 143h0M409 17h0M164 161h0M35 131h0M224 334h0M465 349h0M429 106h0M519 235h0M115 308h0M170 147h0M432 292h0M97 326h0M145 224h0M159 176h0M453 100h0M131 192h0M426 253h0M368 29h0M511 353h0M196 357h0M136 84h0M100 281h0M117 314h0M361 126h0M18 90h0M366 152h0M248 266h0M223 236h0M342 46h0M80 204h0M101 226h0M523 261h0M85 332h0M131 68h0M253 279h0M210 231h0M383 274h0M271 120h0M441 356h0M344 79h0M531 255h0M413 325h0M62 27h0M415 247h0M109 77h0M329 110h0M76 121h0M390 93h0M94 217h0M304 26h0M253 80h0M418 302h0M484 283h0M103 211h0M96 248h0M72 150h0M553 238h0M120 346h0M398 67h0M26 40h0M178 293h0M305 252h0M22 145h0M390 81h0M146 32h0M19 113h0M292 31h0M132 319h0M89 256h0M426 37h0M208 310h0M202 329h0M246 259h0M430 331h0M487 2h0M276 68h0M6 175h0M187 65h0M414 160h0M146 366h0M280 193h0M530 324h0M179 33h0M57 280h0M406 274h0M519 157h0M500 198h0M439 236h0M378 274h0M221 38h0M500 348h0M445 198h0M97 341h0M407 362h0M0 319h0M161 97h0M101 174h0M373 331h0M350 48h0M347 360h0M83 245h0M249 272h0M285 296h0M167 111h0M69 243h0M339 27h0M412 178h0M25 110h0M397 108h0M150 326h0M87 363h0M307 312h0M252 7h0M295 46h0M259 244h0M53 16h0M192 183h0M274 56h0M458 58h0M305 194h0M488 102h0M376 142h0M229 246h0M136 269h0M82 80h0M35 231h0M284 106h0M348 64h0M71 330h0M515 289h0M354 267h0M263 104h0M146 153h0M80 148h0M6 50h0M295 247h0M293 173h0M462 152h0M12 348h0M10 111h0M345 249h0M289 241h0M359 91h0M61 140h0M280 116h0M545 8h0M13 249h0M141 277h0M22 198h0M138 344h0M209 337h0M134 77h0M366 59h0M22 120h0M457 275h0M19 98h0M457 31h0M495 137h0M321 192h0M309 154h0M152 19h0M412 273h0M512 3h0M230 314h0M326 170h0M503 166h0M276 102h0M151 180h0M534 367h0M432 148h0M378 31h0M380 21h0M3 206h0M468 43h0M494 182h0M67 14h0M351 30h0M229 124h0M517 212h0M305 272h0M179 215h0M181 312h0M16 42h0M455 185h0M377 74h0M385 184h0M288 164h0M152 298h0M452 51h0M15 267h0M440 152h0M258 361h0M199 288h0M224 76h0M271 141h0M243 56h0M270 365h0M269 157h0M229 13h0M433 280h0M527 21h0M312 247h0M130 130h0M295 87h0M39 105h0M522 333h0M531 317h0M209 288h0M535 345h0M32 366h0M373 57h0M233 288h0M373 184h0M192 234h0M22 273h0M479 106h0M436 150h0M319 302h0M243 78h0M269 328h0M414 253h0M397 151h0M458 295h0M75 10h0M524 11h0M87 242h0M73 295h0M417 177h0M495 9h0M212 124h0M425 95h0M514 316h0M385 292h0M540 313h0M491 69h0M528 350h0M365 276h0M514 246h0M13 366h0M370 261h0M227 159h0M295 62h0M311 355h0M137 253h0M158 184h0M270 248h0M451 35h0M243 298h0M120 295h0M98 189h0M221 352h0M5 111h0M552 140h0M487 185h0M56 188h0M397 207h0M472 74h0M484 345h0M398 86h0M513 16h0M161 196h0M236 18h0M362 157h0M503 301h0M228 295h0M538 14h0M256 108h0M7 340h0M516 178h0M497 133h0M19 236h0M125 118h0M294 366h0M185 288h0M203 216h0M454 292h0M23 31h0M524 65h0M48 62h0M149 362h0M493 42h0M422 29h0M29 170h0M440 213h0M59 93h0M293 268h0M198 324h0M352 263h0M311 7h0M52 75h0M438 189h0M373 285h0M141 220h0M109 188h0M38 371h0M454 25h0M213 174h0M226 101h0M524 240h0M233 327h0M295 71h0M274 47h0M224 195h0M25 362h0M486 37h0M202 92h0M526 173h0M345 115h0M243 99h0M349 364h0M235 73h0M168 341h0M309 116h0M323 104h0M214 338h0M265 125h0M412 208h0M106 367h0M250 311h0M181 220h0M182 74h0M118 288h0M405 131h0M406 239h0M116 171h0M60 61h0M238 318h0M21 138h0M219 20h0M529 269h0M260 1h0M50 358h0M548 290h0M419 127h0M366 266h0M174 93h0M414 330h0M208 145h0M485 70h0M137 2h0M471 66h0M341 102h0M311 175h0M108 165h0M532 91h0M240 41h0M58 36h0M462 290h0M331 166h0M531 174h0M348 301h0M213 115h0M203 186h0M87 214h0M77 127h0M555 28h0M244 208h0M261 203h0M231 253h0M394 34h0M185 69h0M294 278h0M404 137h0M127 10h0M117 302h0M188 319h0M414 151h0M363 43h0M161 156h0M202 43h0M364 5h0M282 152h0M370 207h0M363 98h0M136 13h0M288 91h0M341 31h0M38 208h0M299 12h0M274 17h0M189 17h0M501 330h0M332 3h0M7 188h0M453 158h0M104 352h0M520 224h0M384 18h0M107 98h0M160 105h0M310 317h0M280 304h0M420 297h0M304 246h0M0 275h0M266 301h0M24 128h0M18 83h0M301 211h0M237 349h0M208 74h0M276 190h0M349 157h0M301 34h0M381 143h0M448 26h0M189 57h0M247 102h0M1 174h0M196 292h0M106 148h0M246 12h0M540 294h0M421 230h0M185 14h0M223 11h0M41 281h0M95 369h0M205 356h0M157 97h0M359 287h0M465 158h0M189 10h0M512 272h0M158 356h0M85 222h0M552 86h0M252 321h0M521 358h0M40 257h0M515 262h0M218 310h0M282 111h0M334 57h0M168 308h0M432 174h0M207 351h0M76 247h0M233 301h0M267 349h0M391 250h0M388 296h0M399 23h0M529 242h0M288 15h0M66 161h0M446 308h0M355 132h0M83 160h0M54 330h0M331 61h0M345 196h0M314 74h0M407 55h0M539 225h0M196 114h0M83 55h0M13 75h0M249 362h0M204 270h0M334 242h0M266 120h0M294 24h0M466 344h0M39 268h0M257 44h0M173 97h0M252 16h0M546 333h0M242 61h0M96 222h0M149 10h0M540 156h0M424 58h0M306 222h0M302 355h0M1 246h0M520 30h0M202 278h0M406 268h0M89 187h0M382 135h0M426 44h0M92 243h0M449 312h0M192 201h0M76 52h0M415 43h0M418 1h0M479 156h0M126 79h0M279 92h0M29 63h0M493 64h0M427 184h0M523 346h0M139 167h0M301 339h0M51 94h0M555 8h0M161 23h0M544 81h0M129 239h0M58 204h0M30 136h0M491 301h0M520 285h0M346 320h0M425 272h0M516 69h0M34 324h0M512 295h0M240 256h0M8 261h0M408 345h0M393 241h0M125 52h0M428 370h0M126 321h0M520 20h0M401 262h0M454 253h0M311 202h0M470 23h0M27 2h0M549 326h0M352 198h0M14 243h0M405 342h0M487 255h0M213 215h0M345 288h0M430 55h0M163 257h0M204 19h0M439 181h0M538 133h0M393 144h0M291 212h0M280 209h0M350 184h0M185 277h0M102 119h0M402 28h0M237 276h0M275 138h0M366 290h0M232 193h0M125 345h0M4 218h0M374 164h0M142 59h0M386 348h0M481 176h0M404 21h0M209 357h0M264 258h0M553 265h0M402 118h0M553 311h0M28 331h0M138 296h0M266 294h0M54 168h0M173 289h0M529 186h0M420 47h0M94 346h0M9 16h0M169 246h0M19 171h0M365 11h0M339 288h0M88 209h0M159 325h0M108 83h0M392 348h0M398 304h0M489 363h0M28 81h0M143 330h0M305 111h0M165 181h0M17 297h0M222 228h0M240 267h0M538 85h0M486 65h0M392 19h0M543 146h0M273 0h0M250 150h0M115 160h0M161 318h0M135 336h0M537 5h0M318 150h0M222 84h0M58 69h0M295 210h0M304 327h0M224 19h0M405 354h0M257 9h0M481 359h0M208 344h0M478 303h0M42 0h0M445 115h0M195 81h0M238 123h0M547 127h0M302 59h0M145 51h0M507 136h0M359 175h0M224 313h0M515 184h0M190 252h0M507 244h0M197 367h0M331 329h0M396 369h0M133 206h0M131 106h0M186 357h0M388 52h0M550 279h0M455 213h0M527 231h0M362 271h0M497 174h0M302 127h0M179 95h0M402 62h0M306 306h0M102 234h0M130 15h0M256 21h0M449 110h0M449 249h0M381 195h0M442 52h0M317 241h0M175 131h0M452 18h0M329 209h0M76 28h0M356 158h0M293 340h0M294 40h0M195 50h0M467 51h0M356 299h0M527 87h0M195 105h0M409 290h0M341 284h0M327 158h0M157 232h0M475 225h0M180 204h0M310 259h0M209 140h0M167 363h0M495 113h0M472 255h0M392 357h0M394 329h0M11 328h0M197 68h0M547 230h0M378 360h0M55 159h0M282 353h0M101 216h0M234 184h0M252 237h0M324 89h0M71 280h0M230 80h0M468 240h0M197 318h0M40 73h0M420 242h0M49 366h0M327 148h0M525 52h0M200 359h0M211 44h0M491 39h0M144 181h0M113 243h0M153 334h0M171 177h0M101 195h0M161 50h0M495 194h0M214 73h0M469 29h0M272 205h0M112 7h0M462 240h0M338 131h0M202 112h0M386 241h0M290 95h0M554 254h0M428 192h0M261 192h0M506 353h0M210 204h0M284 229h0M262 220h0M180 177h0M253 55h0M331 304h0M264 156h0M131 328h0M493 204h0M400 290h0M188 335h0M490 263h0M390 125h0M443 240h0M200 136h0M251 70h0M434 311h0M264 90h0M440 15h0M68 360h0M345 233h0M436 289h0M441 176h0M146 6h0M80 75h0M555 279h0M426 290h0M42 36h0M431 247h0M1 12h0M75 239h0M267 360h0M166 84h0M37 145h0M107 221h0M218 316h0M139 318h0M341 316h0M161 313h0M514 166h0M409 314h0M400 369h0M17 57h0M555 147h0M390 48h0M469 208h0M154 272h0M224 131h0M410 334h0M354 247h0M367 325h0M489 180h0M420 52h0M500 170h0M230 87h0M102 21h0M541 196h0M185 25h0M530 302h0M361 333h0M485 143h0M499 210h0M442 226h0M175 368h0M95 321h0M510 172h0M405 367h0M212 166h0M467 299h0M188 94h0M64 196h0M493 75h0M290 355h0M106 279h0M75 347h0M101 289h0M456 322h0M2 330h0M238 139h0M409 110h0M518 55h0M121 340h0M65 91h0M311 99h0M548 312h0M225 291h0M437 321h0M532 123h0M192 141h0M357 262h0M381 244h0M163 246h0M528 355h0M134 24h0M447 137h0M239 367h0M168 71h0M465 331h0M264 13h0M240 304h0M339 346h0M421 112h0M160 302h0M29 284h0M43 107h0M452 132h0M397 117h0M177 84h0M479 144h0M220 43h0M511 203h0M147 116h0M317 225h0M300 365h0M89 197h0M400 220h0M72 132h0M246 136h0M495 353h0M190 29h0M145 283h0M282 371h0M430 153h0M152 226h0M114 146h0M295 121h0M477 208h0M211 51h0M447 97h0M319 90h0M492 328h0M504 205h0M114 264h0M303 140h0M134 274h0M187 165h0M153 1h0M68 19h0M164 332h0M404 234h0M70 307h0M135 229h0M410 162h0M155 329h0M167 197h0M335 160h0M93 122h0M364 282h0M495 150h0M48 9h0M475 202h0M516 144h0M91 74h0M350 318h0M229 352h0M541 304h0M224 322h0M118 358h0M402 249h0M229 58h0M478 316h0M541 74h0M365 256h0M478 255h0M292 58h0M93 332h0M334 101h0M50 196h0M482 55h0M353 307h0M350 294h0M146 24h0M370 25h0M144 171h0M24 327h0M127 335h0M343 292h0M318 209h0M394 135h0M441 272h0M345 354h0M373 5h0M388 231h0M258 291h0M479 197h0M81 262h0M210 332h0M295 255h0M475 219h0M423 206h0M311 207h0M216 141h0M404 326h0M295 138h0M422 143h0M413 265h0M272 212h0M373 279h0M421 7h0M420 369h0M101 333h0M421 164h0M170 217h0M295 143h0M83 296h0M30 68h0M348 347h0M216 194h0M491 129h0M302 159h0M133 308h0M86 109h0M190 209h0M10 2h0M71 371h0M283 79h0M229 141h0M538 216h0M160 75h0M231 239h0M157 166h0M7 275h0M6 307h0M375 299h0M324 352h0M58 305h0M382 29h0M106 194h0M458 2h0M379 296h0M508 221h0M121 265h0M529 202h0M463 360h0M146 161h0M496 34h0M480 91h0M191 177h0M400 197h0M377 175h0M341 359h0M322 114h0M363 85h0M18 149h0M243 334h0M283 246h0M191 109h0M180 284h0M504 272h0M64 188h0M200 146h0M91 268h0M488 203h0M255 138h0M189 189h0M4 366h0M21 202h0M123 191h0M137 174h0M277 72h0M310 44h0M372 370h0M555 166h0M101 313h0M312 280h0M363 183h0M354 322h0M314 29h0M442 290h0M395 236h0M284 64h0M238 245h0M475 165h0M134 160h0M387 98h0M555 273h0M42 113h0M320 130h0M553 295h0M33 268h0M175 47h0M511 277h0M413 213h0M488 268h0M145 230h0M9 170h0M167 359h0M105 331h0M85 127h0M442 147h0M424 351h0M141 106h0M254 339h0M530 110h0M505 254h0M281 236h0M111 41h0M89 367h0M91 117h0M465 283h0M25 15h0M437 246h0M140 211h0M154 199h0M538 253h0M372 131h0M167 101h0M113 202h0M257 308h0M396 313h0M130 370h0M11 273h0M59 369h0M387 356h0M152 283h0M498 39h0M32 237h0M311 121h0M337 53h0M39 277h0M285 191h0M505 237h0M83 152h0M338 252h0M403 85h0M390 195h0M259 239h0M375 41h0M550 317h0M247 162h0M107 249h0M280 159h0M67 335h0M556 88h0M114 330h0M364 340h0M376 267h0M393 214h0M472 315h0M426 115h0M138 96h0M356 180h0M0 74h0M467 16h0M54 286h0M334 173h0M52 104h0M493 227h0M32 165h0M59 11h0M406 254h0M462 15h0M501 62h0M227 30h0M427 25h0M535 44h0M218 59h0M523 369h0M237 170h0M357 350h0M169 231h0M525 255h0M279 166h0M436 73h0M482 14h0M448 261h0M249 62h0M431 14h0M42 88h0M20 209h0M206 274h0M353 328h0M443 124h0M151 358h0M224 327h0M546 198h0M442 299h0M34 114h0M178 159h0M124 124h0M125 330h0M193 2h0M147 37h0M176 274h0M409 233h0M78 300h0M440 23h0M386 133h0M73 81h0M259 180h0M169 45h0M402 282h0M523 274h0M176 334h0M330 287h0M249 369h0M25 77h0M313 53h0M277 52h0M184 142h0M491 11h0M180 306h0M452 30h0M486 149h0M305 336h0M509 80h0M540 342h0M227 178h0M497 252h0M263 97h0M488 353h0M479 242h0M329 362h0M216 326h0M501 55h0M77 78h0M249 357h0M53 10h0M279 324h0M40 364h0M92 167h0M417 198h0M213 57h0M89 130h0M265 5h0M276 263h0M550 356h0M363 208h0M83 68h0M7 25h0M15 87h0M361 52h0M155 237h0M367 77h0M2 66h0M182 106h0M19 47h0M413 370h0M303 291h0M371 213h0M437 31h0M112 54h0M133 349h0M42 79h0M256 208h0M36 293h0M173 314h0M67 285h0M547 164h0M233 69h0M458 224h0M172 202h0M543 245h0M465 310h0M130 38h0M34 125h0M155 318h0M475 276h0M275 109h0M446 322h0M500 270h0M484 21h0M72 361h0M384 171h0M386 201h0M235 212h0M357 142h0M414 16h0M219 347h0M457 312h0M58 194h0M6 268h0M415 288h0M270 61h0M435 219h0M305 371h0M448 165h0M50 303h0M540 364h0M95 308h0M266 30h0M295 111h0M556 137h0M167 30h0M272 82h0M491 120h0M539 48h0M3 60h0M134 18h0M4 154h0M318 108h0M549 114h0M324 237h0M274 22h0M259 340h0M202 222h0M483 152h0M472 141h0M381 51h0M265 0h0M35 242h0M184 226h0M463 274h0M532 349h0M427 18h0M209 112h0M502 125h0M321 125h0M21 176h0M276 183h0M368 164h0M239 94h0M120 3h0M147 82h0M465 337h0M171 208h0M461 176h0M511 148h0M487 321h0M218 269h0M384 322h0M253 253h0M73 3h0M86 133h0M389 325h0M437 89h0M549 211h0M128 297h0M283 133h0M458 180h0M394 341h0M349 280h0M202 302h0M119 30h0M211 191h0M344 142h0M335 189h0M2 38h0M434 353h0M57 29h0M366 92h0M427 237h0M284 184h0M236 198h0M375 52h0M131 31h0M346 94h0M501 362h0M248 303h0M526 277h0M482 48h0M486 166h0M43 12h0M334 135h0M459 232h0M428 167h0M34 20h0M226 260h0M275 363h0M211 134h0M207 236h0M486 116h0M107 70h0M62 97h0M69 229h0M4 194h0M232 267h0M522 38h0M425 145h0M260 370h0M339 267h0M126 48h0M289 233h0M150 95h0M172 163h0M132 165h0M553 53h0M414 33h0M396 5h0M98 112h0M168 324h0M101 247h0M62 292h0M76 86h0M211 101h0M149 239h0M24 65h0M40 160h0M169 192h0M539 328h0M388 225h0M31 74h0M127 289h0M268 273h0M502 280h0M251 116h0M453 314h0M522 214h0M430 136h0M96 49h0M11 218h0M153 74h0M221 0h0M214 29h0M340 272h0M28 159h0M38 297h0M249 226h0M302 99h0M355 336h0M306 96h0M254 172h0M171 122h0M412 105h0M190 98h0M133 72h0M165 166h0M171 224h0M470 321h0M290 112h0M13 342h0M462 193h0M531 362h0M105 318h0M234 362h0M115 70h0M364 315h0M304 149h0M237 154h0M349 86h0M385 147h0M267 162h0M314 321h0M198 217h0M253 35h0M463 138h0M508 43h0M451 43h0M172 111h0M244 66h0M257 104h0M540 336h0M121 154h0M90 21h0M370 236h0M494 82h0M491 166h0M295 34h0M281 320h0M493 52h0M269 168h0M221 205h0M256 131h0M438 230h0M17 262h0M40 191h0M555 173h0M118 23h0M409 124h0M32 3h0M293 168h0M56 198h0M163 211h0M437 97h0M46 188h0M485 156h0M449 298h0M89 294h0M274 227h0M420 325h0M272 32h0M92 38h0M300 220h0M274 86h0M465 211h0M474 328h0M275 371h0M71 216h0M162 138h0M410 12h0M147 145h0M50 173h0M34 275h0M471 96h0M435 296h0M551 61h0M129 184h0M358 369h0M294 346h0M26 340h0M37 66h0M42 40h0M526 142h0M459 366h0M78 60h0M5 79h0M229 283h0M112 46h0M537 203h0M362 135h0M501 367h0M64 86h0M280 128h0M504 172h0M248 89h0M403 193h0M3 352h0M308 366h0M219 156h0M91 177h0M292 11h0M408 172h0M389 42h0M56 310h0M428 73h0M28 192h0M224 349h0M218 129h0M442 93h0M20 164h0M237 24h0M505 48h0M284 213h0M15 278h0M417 335h0M384 139h0M489 239h0M399 245h0M393 154h0M532 230h0M540 190h0M186 150h0M399 57h0M426 221h0M432 90h0M352 75h0M218 229h0M497 128h0M554 222h0M399 277h0M281 265h0M266 340h0M285 205h0M538 286h0M87 288h0M459 93h0M266 250h0M434 371h0M552 65h0M315 127h0M96 1h0M90 311h0M75 263h0M48 148h0M419 80h0M498 286h0M154 107h0M59 44h0M333 80h0M26 206h0M480 221h0M369 355h0M439 2h0M270 334h0M507 227h0M275 94h0M441 130h0M353 370h0M85 325h0M119 282h0M359 169h0M178 266h0M105 65h0M469 177h0M360 189h0M183 44h0M333 337h0M539 321h0M500 24h0M465 177h0M322 84h0M69 194h0M522 186h0M353 190h0M550 81h0M435 6h0M524 352h0M377 231h0M31 58h0M456 129h0M508 32h0M290 249h0M512 369h0M255 217h0M399 228h0M43 276h0M385 158h0M437 134h0M76 159h0M346 37h0M142 72h0M4 299h0M40 241h0M187 255h0M472 188h0M95 143h0M389 75h0M488 47h0M243 284h0M195 38h0M72 336h0M461 116h0M272 242h0M81 131h0M373 201h0M145 205h0M299 106h0M439 64h0M150 234h0M93 95h0M267 136h0M540 300h0M529 346h0M216 24h0M533 37h0M277 258h0M44 124h0M93 211h0M145 320h0M400 272h0M406 229h0M434 343h0M70 110h0M30 38h0M466 10h0M166 150h0M32 101h0M206 85h0M354 168h0M210 269h0M134 278h0M182 243h0M500 292h0M523 16h0M442 4h0M354 126h0M199 340h0M278 81h0M103 239h0M201 36h0M542 38h0M16 9h0M327 368h0M392 85h0M258 345h0M237 286h0M387 339h0M52 133h0M534 262h0M332 264h0M38 116h0M292 290h0M76 138h0M205 123h0M17 32h0M542 238h0M473 196h0M490 141h0M477 9h0M256 222h0M249 337h0M507 217h0M31 149h0M201 61h0M373 76h0M108 89h0M126 339h0M525 310h0M289 321h0M164 264h0M275 124h0M330 230h0M73 188h0M327 99h0M504 314h0M518 207h0M99 166h0M296 287h0M192 299h0M231 275h0M509 24h0M521 324h0M4 123h0M48 261h0M201 159h0M65 106h0M107 8h0M347 11h0M26 22h0M273 299h0M220 146h0M352 240h0M265 51h0M487 136h0M131 303h0M307 171h0M214 315h0M273 75h0M279 171h0M251 258h0M365 195h0M268 77h0M460 279h0M43 331h0M522 252h0M414 156h0M352 175h0M244 367h0M541 166h0M243 18h0M431 79h0M33 217h0M14 161h0M553 104h0M415 95h0M247 29h0M361 246h0M145 19h0M508 76h0M144 102h0M241 132h0M308 162h0M546 86h0M374 196h0M270 114h0M429 285h0M303 176h0M316 22h0M351 257h0M155 125h0M7 252h0M70 33h0M409 63h0M499 97h0M99 102h0M417 136h0M212 95h0M232 370h0M237 108h0M38 316h0M206 174h0M519 131h0M2 88h0M409 34h0M323 166h0M488 247h0M303 116h0M369 366h0M62 119h0M430 338h0M541 263h0M265 244h0M262 39h0M331 116h0M159 59h0M216 7h0M354 2h0M488 227h0M231 148h0M168 13h0M63 208h0M160 133h0M31 371h0M245 292h0M496 215h0M148 72h0M135 41h0M70 275h0M514 320h0M453 62h0M466 65h0M84 307h0M512 237h0M242 24h0M552 302h0M381 200h0M437 261h0M49 213h0M221 263h0M273 313h0M478 362h0M539 79h0M230 132h0M42 84h0M48 333h0M240 224h0M503 307h0M179 338h0M257 353h0M378 111h0M532 154h0M46 224h0M501 81h0M20 69h0M396 288h0M523 108h0M177 318h0M123 371h0M70 144h0M180 370h0M493 242h0M160 31h0M326 57h0M232 260h0M220 87h0M115 137h0M174 346h0M337 5h0M535 208h0M533 237h0M465 121h0M43 211h0M203 364h0M174 211h0M348 21h0M104 25h0M404 313h0M64 272h0M509 60h0M506 291h0M497 237h0M548 18h0M165 175h0M195 167h0M476 231h0M224 255h0M459 300h0M488 92h0M123 65h0M17 2h0M519 240h0M366 122h0M408 49h0M258 95h0M2 314h0M277 270h0M512 108h0M546 107h0M150 266h0M462 264h0M165 354h0M527 134h0M196 263h0M61 268h0M245 195h0M33 316h0M334 238h0M371 313h0M416 58h0M548 66h0M393 69h0M540 207h0M227 36h0M383 85h0M42 324h0M534 117h0M140 8h0M556 368h0M191 172h0M546 321h0M522 70h0M69 166h0M260 57h0M133 64h0M195 251h0M483 209h0M146 123h0M295 94h0M311 166h0M476 46h0M204 241h0M78 270h0M554 248h0M188 119h0M428 355h0M234 57h0M516 357h0M468 133h0M322 201h0M449 1h0M545 356h0M306 7h0M420 131h0M43 204h0M297 308h0M442 77h0M88 143h0M115 195h0M440 312h0M299 69h0M439 204h0M329 154h0M177 110h0M555 233h0M147 217h0M444 45h0M413 236h0M540 184h0M216 94h0M307 2h0M5 284h0M4 222h0M534 297h0M447 132h0M232 306h0M444 363h0M137 235h0M461 161h0M56 258h0M255 187h0M72 209h0M395 51h0M262 277h0M158 219h0M228 214h0M305 20h0M292 103h0M330 215h0M307 232h0M342 75h0M505 363h0M7 355h0M64 317h0M311 49h0M82 167h0M160 144h0M275 253h0M506 56h0M384 6h0M80 198h0M394 121h0M234 34h0M376 150h0M132 341h0M255 160h0M47 3h0M487 31h0M303 134h0M23 256h0M87 66h0M300 359h0M136 145h0M394 101h0M27 216h0M25 239h0M461 317h0M264 152h0M11 233h0M44 313h0M534 67h0M467 169h0M132 312h0M370 145h0M489 108h0M355 365h0M215 234h0M337 229h0M471 117h0M502 147h0M221 70h0M382 232h0M232 40h0M474 120h0M341 64h0M334 107h0M41 144h0M320 76h0M195 244h0M458 101h0M104 256h0M79 102h0M503 118h0M57 344h0M548 363h0M66 66h0M80 235h0M444 62h0M153 132h0M462 30h0M26 309h0M320 96h0M236 191h0M272 150h0M302 169h0M310 216h0M455 353h0M130 99h0M210 161h0M373 127h0M506 196h0M483 128h0M38 320h0M65 101h0M491 0h0M252 11h0M39 308h0M357 101h0M343 179h0M45 21h0M7 94h0M146 109h0M347 73h0M453 358h0M363 37h0M46 54h0M24 244h0M226 221h0M344 276h0M348 68h0M63 309h0M59 123h0M129 51h0M305 120h0M510 336h0M348 254h0M182 78h0M480 342h0M214 348h0M35 257h0M458 192h0M218 341h0M175 309h0M82 143h0M457 148h0M536 160h0M184 231h0M223 91h0M498 73h0M429 131h0M341 174h0M343 299h0M152 205h0M275 129h0M410 352h0M490 152h0M286 333h0M220 289h0M374 356h0M472 263h0M374 308h0M420 212h0M65 129h0M484 316h0M473 79h0M154 288h0M166 67h0M428 264h0M187 265h0M142 112h0M452 74h0M238 236h0M89 7h0M385 268h0M456 170h0M41 64h0M521 77h0M28 288h0M115 13h0M471 302h0M436 143h0M535 99h0M552 323h0M350 101h0M13 82h0M478 20h0M465 37h0M268 230h0M237 261h0M400 339h0M68 299h0M549 102h0M431 317h0M83 337h0M81 50h0M258 170h0M185 7h0M227 268h0M71 341h0M159 363h0M473 104h0M46 198h0M528 96h0M312 331h0M294 53h0M227 83h0M92 65h0M361 324h0M360 121h0M321 135h0M418 311h0M205 60h0M542 59h0M53 49h0M90 28h0M189 75h0M469 249h0M187 339h0M48 81h0M556 305h0M241 150h0M350 165h0M256 357h0M249 108h0M232 218h0M11 207h0M114 109h0M313 156h0M385 250h0M467 139h0M249 277h0M116 248h0M345 109h0M380 90h0M208 260h0M45 255h0M65 144h0M49 22h0M199 125h0M508 88h0M538 102h0M163 269h0M126 2h0M99 24h0M495 269h0M92 223h0M244 357h0M346 370h0M464 102h0M194 133h0M446 33h0M199 2h0M115 269h0M95 283h0M175 43h0M499 307h0M324 80h0M114 183h0M82 278h0M317 1h0M260 52h0M265 46h0M20 156h0M377 79h0M87 156h0M68 311h0M74 97h0M391 256h0M495 303h0M488 340h0M100 275h0M267 41h0M220 172h0M312 370h0M283 142h0M44 26h0M384 219h0M355 6h0M327 338h0M351 10h0M354 281h0M62 161h0M109 207h0M118 253h0M455 84h0M131 120h0M56 213h0M148 56h0M1 213h0M430 144h0M259 100h0M76 343h0M129 60h0M335 210h0M372 345h0M340 40h0M392 107h0M510 266h0M349 274h0M266 208h0M228 251h0M198 21h0M482 250h0M177 103h0M155 177h0M380 150h0M123 230h0M157 10h0M426 140h0M277 248h0M233 282h0M374 136h0M92 106h0M397 224h0M400 44h0M276 7h0M359 60h0M556 19h0M309 325h0M306 214h0M265 265h0M340 89h0M400 329h0M221 139h0M76 253h0M443 56h0M159 83h0M492 334h0M247 202h0M159 1h0M480 86h0M322 40h0M464 81h0M90 83h0M378 64h0M411 52h0M193 14h0M426 327h0M34 171h0M164 185h0M316 161h0M249 94h0M503 184h0M291 264h0M331 348h0M129 144h0M104 269h0M515 229h0M432 304h0M474 29h0M301 1h0M70 85h0M493 90h0M97 162h0M472 49h0M453 121h0M516 119h0M423 245h0M511 53h0M393 262h0M121 272h0M143 79h0M57 148h0M0 112h0M225 273h0M417 193h0M233 353h0M166 78h0M318 362h0M165 54h0M378 286h0M484 299h0M248 42h0M238 180h0M449 346h0M532 3h0M266 198h0M19 345h0M456 114h0M90 324h0M229 325h0M99 122h0M165 298h0M384 80h0M531 42h0M447 225h0M240 173h0M477 285h0M89 306h0M188 160h0M358 105h0M81 33h0M291 328h0M53 40h0M198 107h0M483 238h0M61 235h0M9 367h0M403 336h0M459 340h0M280 120h0M292 361h0M452 150h0M479 151h0M406 332h0M531 165h0M18 193h0M419 352h0M235 221h0M218 81h0M516 305h0M427 313h0M232 29h0M371 218h0M467 112h0M3 291h0M341 13h0M542 138h0M471 112h0M366 131h0M102 262h0M165 240h0M426 226h0M347 227h0M338 76h0M455 105h0M481 185h0M8 243h0M512 328h0M141 310h0M427 295h0M157 52h0M311 211h0M245 252h0M464 2h0M113 364h0M150 353h0M252 350h0M530 328h0M483 269h0M487 215h0M358 269h0M448 352h0M190 287h0M492 292h0M434 363h0M121 136h0M312 362h0M33 157h0M548 268h0M210 129h0M541 233h0M176 356h0M255 262h0M218 121h0M167 291h0M504 322h0M151 277h0M195 238h0M162 11h0M515 31h0M260 302h0M256 151h0M423 121h0M376 260h0M420 23h0M387 192h0M63 223h0M522 267h0M207 280h0M392 315h0M388 312h0M528 335h0M89 3h0M494 360h0M118 42h0M335 197h0M346 296h0M230 19h0M191 244h0M510 72h0M8 129h0M73 193h0M398 251h0M386 371h0M393 204h0M461 210h0M181 301h0M320 16h0M203 120h0M93 302h0M150 163h0M50 128h0M68 175h0M536 197h0M131 232h0M44 179h0M80 317h0M297 5h0M177 257h0M34 86h0M81 191h0M200 7h0M145 211h0M450 365h0M127 114h0M301 243h0M554 99h0M274 168h0M239 251h0M214 182h0M248 189h0M449 326h0M228 118h0M384 115h0M81 361h0M278 341h0M537 94h0M233 144h0M49 265h0M206 209h0M338 258h0M382 102h0M89 219h0M0 201h0M101 365h0M76 179h0M282 362h0M311 182h0M341 335h0M316 356h0M549 256h0M433 228h0M483 352h0M341 200h0M242 233h0M160 19h0M537 249h0M548 2h0M153 116h0M396 126h0M432 50h0M483 63h0M326 116h0M151 262h0M514 282h0M513 58h0M424 305h0M73 163h0M60 360h0M487 61h0M153 34h0M61 18h0M206 253h0M472 91h0M54 138h0M461 129h0M97 240h0M536 304h0M7 151h0M174 233h0M393 337h0M172 101h0M326 137h0M104 167h0M465 303h0M262 251h0M12 48h0M78 38h0M380 253h0M313 147h0M452 335h0M321 26h0M401 301h0M447 66h0M414 296h0M356 41h0M529 102h0M25 355h0M271 27h0M317 195h0M482 328h0M142 371h0M454 231h0M170 263h0M285 358h0M548 119h0M530 158h0M339 126h0M243 106h0M94 205h0M271 324h0M173 181h0M381 279h0M120 17h0M248 47h0M325 299h0M214 104h0M462 201h0M462 258h0M236 100h0M92 111h0M537 39h0M520 219h0M127 34h0M388 28h0M333 248h0M166 368h0M425 10h0M346 148h0M186 330h0M44 193h0M263 144h0M185 36h0M55 315h0M388 236h0M280 216h0M362 222h0M487 277h0M169 169h0M500 137h0M385 343h0M397 354h0M28 227h0M161 344h0M230 347h0M45 271h0M320 286h0M79 108h0M471 203h0M511 194h0M94 131h0M411 201h0M300 347h0M2 105h0M94 88h0M98 70h0M399 183h0M450 303h0M327 64h0M328 316h0M299 49h0M42 185h0M204 55h0M519 73h0M441 81h0M481 192h0M359 110h0M162 235h0M259 155h0M491 98h0M3 181h0M541 351h0M550 135h0M401 213h0M149 102h0M98 356h0M125 71h0M199 206h0M96 277h0M535 219h0M170 317h0M125 147h0M220 103h0M184 295h0M60 365h0M52 150h0M392 54h0M271 220h0M480 78h0M341 304h0M452 264h0M39 175h0M328 200h0M46 237h0M393 305h0M19 367h0M184 334h0M79 292h0M379 131h0M511 28h0M418 84h0M369 296h0M512 114h0M85 41h0M516 150h0M413 284h0M181 317h0M551 24h0M323 279h0M347 16h0M17 305h0M174 340h0M157 248h0M468 153h0M137 156h0M191 360h0M364 260h0M139 82h0M528 298h0M168 155h0M263 136h0M69 223h0M25 170h0M302 309h0M330 125h0M342 310h0M171 16h0M322 345h0M377 10h0M471 233h0M231 6h0M340 220h0M385 92h0M363 140h0M47 324h0M337 34h0M192 218h0M54 24h0M182 355h0M500 276h0M501 244h0M501 113h0M267 192h0M121 250h0M106 336h0M193 44h0M287 151h0M300 315h0M543 102h0M60 217h0M82 209h0M413 313h0M390 199h0M524 300h0M537 141h0M218 209h0M451 350h0M38 150h0M440 316h0M234 85h0M3 186h0M472 3h0M234 341h0M484 198h0M510 256h0M520 342h0M11 202h0M402 110h0M498 220h0M149 50h0M504 345h0M542 371h0M285 268h0M449 279h0M130 126h0M309 146h0M529 66h0M318 306h0M293 229h0M151 42h0M442 141h0M449 194h0M119 333h0M511 156h0M504 284h0M529 287h0M140 178h0M245 241h0M289 62h0M284 177h0M259 264h0M133 151h0M143 130h0M520 309h0M264 83h0M38 26h0M193 118h0M43 118h0M378 119h0M300 75h0M292 161h0M137 263h0M296 182h0M162 114h0M443 106h0M84 320h0M460 134h0M323 155h0M527 166h0M254 47h0M100 15h0M61 259h0M35 120h0M154 26h0M181 24h0M414 69h0M247 121h0M22 74h0M272 192h0M174 1h0M124 357h0M225 210h0M248 78h0M500 6h0M556 328h0M409 142h0M122 212h0M248 20h0M191 275h0M330 72h0M436 240h0M55 267h0M67 114h0M82 1h0M120 184h0M205 336h0M350 353h0M335 23h0M247 297h0M97 266h0M478 64h0M509 349h0M241 190h0M79 153h0M213 309h0M236 118h0M192 7h0M491 133h0M253 245h0M337 369h0M358 185h0M125 314h0M77 143h0M341 157h0M166 62h0M117 120h0M413 304h0M234 178h0M528 222h0M156 227h0M225 147h0M500 225h0M336 176h0M275 116h0M350 230h0M487 289h0M196 139h0M288 75h0M189 82h0M85 260h0M105 178h0M491 233h0M231 63h0M201 273h0M412 224h0M476 71h0M63 47h0M400 17h0M207 29h0M258 175h0M98 95h0M194 314h0M436 210h0M132 92h0M334 275h0M422 40h0M136 56h0M297 165h0M471 342h0M531 196h0M335 202h0M496 320h0M546 24h0M25 370h0M137 104h0M263 330h0M60 129h0M205 148h0M180 113h0M514 309h0M410 339h0M178 57h0M322 317h0M378 225h0M530 371h0M108 241h0M444 10h0M349 129h0M383 45h0M66 326h0M248 321h0M59 136h0M48 161h0M486 312h0M268 223h0M58 163h0M396 42h0M261 73h0M487 331h0M200 239h0M542 127h0M122 169h0M144 63h0M60 102h0M548 157h0M441 118h0M283 199h0M356 151h0M223 176h0M186 367h0M354 85h0M536 112h0M281 75h0M17 326h0M209 219h0M425 180h0M281 187h0M35 221h0M83 7h0M415 142h0M178 149h0M361 147h0M69 269h0M117 258h0M357 217h0M226 361h0M555 227h0M153 219h0M330 180h0M210 15h0M152 186h0M115 207h0M524 4h0M471 267h0M327 43h0M355 220h0M523 158h0M384 286h0M35 37h0M39 124h0M2 226h0M213 285h0M256 88h0M211 64h0M419 73h0M152 14h0M112 65h0M51 57h0M111 195h0M320 368h0M367 191h0M114 296h0M214 323h0M47 17h0M159 118h0M224 153h0M30 341h0M390 4h0M93 102h0M12 7h0M444 179h0M127 203h0M486 191h0M408 115h0M48 316h0M70 25h0M409 151h0M412 134h0M26 153h0M366 160h0M131 7h0M506 94h0M275 345h0M295 335h0M432 70h0M517 88h0M8 33h0M96 299h0M181 181h0M204 81h0M360 338h0M251 330h0M1 162h0M518 103h0M284 337h0M46 246h0M18 316h0M514 127h0M314 265h0M277 232h0M333 140h0M146 339h0M371 87h0M334 232h0M506 28h0M34 47h0M340 279h0M376 239h0M340 150h0M291 198h0M491 370h0M469 216h0M534 12h0M184 88h0M218 54h0M200 172h0M35 181h0M72 205h0M230 234h0M456 47h0M93 182h0M179 235h0M253 29h0M216 257h0M125 43h0M242 363h0M546 29h0M334 218h0M28 116h0M208 24h0M400 267h0M41 155h0M275 37h0M475 213h0M447 332h0M134 216h0M474 370h0M9 280h0M102 222h0M93 158h0M296 81h0M391 24h0M405 207h0M298 351h0M475 146h0M459 359h0M19 103h0M240 2h0M554 115h0M11 105h0M524 177h0M233 201h0M435 43h0M219 220h0M141 191h0M319 187h0M7 20h0M310 68h0M127 175h0M24 6h0M392 300h0M73 90h0M195 85h0M527 365h0M362 309h0M142 265h0M90 229h0M8 116h0M253 124h0M374 226h0M375 98h0M379 41h0M77 257h0M111 307h0M132 179h0M171 136h0M131 85h0M130 140h0M446 39h0M301 333h0M451 216h0M203 199h0M496 338h0M61 154h0M354 234h0M225 42h0M452 94h0M297 300h0M244 116h0M271 5h0M146 271h0M87 371h0M325 357h0M383 226h0M502 130h0M84 252h0M186 183h0M235 173h0M183 57h0M198 283h0M98 131h0M548 176h0M351 285h0M322 6h0M334 343h0M506 5h0M551 32h0M443 26h0M52 34h0M314 299h0M298 327h0M553 184h0M300 186h0M222 182h0M206 189h0M330 15h0M154 338h0M217 100h0M359 193h0M192 213h0M318 273h0M197 211h0M87 173h0M34 336h0M253 306h0M303 190h0M367 330h0M243 351h0M485 259h0M233 293h0M444 207h0M334 66h0M323 185h0M91 192h0M27 323h0M316 116h0M375 251h0M526 44h0M390 332h0M82 349h0M53 280h0M8 290h0M214 89h0M2 261h0M240 213h0M518 136h0M418 18h0M53 320h0M390 64h0M286 4h0M87 162h0M472 60h0M470 193h0M429 98h0M408 99h0M432 36h0M437 303h0M542 283h0M28 235h0M132 2h0M224 248h0M310 126h0M351 333h0M461 336h0M9 303h0M54 247h0M436 175h0M372 255h0M94 152h0M129 270h0M225 201h0M426 333h0M287 346h0M383 60h0M304 322h0M130 23h0M238 314h0M454 55h0M222 160h0M295 16h0M156 15h0M354 341h0M1 83h0M149 195h0M5 42h0M281 332h0M307 137h0M152 86h0M372 351h0M525 342h0M549 299h0M168 3h0M13 284h0M13 117h0M318 315h0M85 230h0M419 107h0M61 322h0M380 303h0M530 83h0M352 154h0M365 296h0M313 253h0M548 13h0M38 195h0M108 155h0M108 228h0M235 44h0M213 240h0M340 142h0M530 281h0M464 354h0M103 302h0M165 204h0M164 119h0M102 147h0M74 68h0M374 93h0M278 357h0M309 227h0M554 43h0M27 268h0M324 10h0M253 274h0M158 209h0M525 282h0M292 352h0M415 118h0M379 291h0M31 16h0M21 358h0M556 154h0M71 155h0M495 199h0M300 271h0M12 28h0M197 150h0M219 30h0M360 305h0M14 152h0M550 201h0M551 71h0M422 0h0M358 162h0M415 24h0M126 89h0M114 26h0M179 210h0M207 169h0M454 39h0M419 276h0M13 172h0M420 259h0M168 334h0M32 212h0M326 227h0M406 119h0M470 157h0M36 14h0M155 90h0M265 23h0M474 34h0M54 108h0M451 116h0M527 122h0M296 221h0M343 192h0M129 170h0M305 317h0M378 169h0M431 209h0M268 314h0M431 122h0M339 68h0M159 267h0M102 348h0M477 322h0M45 75h0M20 241h0M555 195h0M2 33h0M518 107h0M246 147h0M544 202h0M472 294h0M272 236h0M554 93h0M13 226h0M278 3h0M521 172h0M320 351h0M280 30h0M553 339h0M235 78h0M363 33h0M200 228h0M552 15h0M25 104h0M12 264h0M204 137h0M124 158h0M277 43h0M138 351h0M529 145h0M552 334h0M82 91h0M78 194h0M226 230h0M111 150h0M489 56h0M346 265h0M348 105h0M111 94h0M534 61h0M494 20h0M305 37h0M257 146h0M281 102h0M25 10h0M108 342h0M372 69h0M471 354h0M166 135h0M158 262h0M43 262h0M315 13h0M398 343h0M138 136h0M252 195h0M415 321h0M342 350h0M353 36h0M353 289h0M82 45h0M416 307h0M183 31h0M190 89h0M181 249h0M340 207h0M338 213h0M193 282h0M533 18h0M30 354h0M420 289h0M409 216h0M103 133h0M209 363h0M330 252h0M509 209h0M172 10h0M208 315h0M540 275h0M47 33h0M286 351h0M26 180h0M331 27h0M532 277h0M211 186h0M74 353h0M454 5h0M111 143h0M269 355h0M237 29h0M390 10h0M384 39h0M365 320h0M88 318h0M12 22h0M474 159h0M96 290h0M424 65h0M246 141h0M25 336h0M142 22h0M68 207h0M278 291h0M389 351h0M200 180h0M367 243h0M163 38h0M476 340h0M78 323h0M474 179h0M58 336h0M348 329h0M1 25h0M184 270h0M407 71h0M283 316h0M478 139h0M507 37h0M309 73h0M119 103h0M140 162h0M457 122h0M113 252h0M380 161h0M270 107h0M101 182h0M449 268h0M311 196h0M329 142h0M518 169h0M470 100h0M302 6h0M425 133h0M336 15h0M295 241h0M368 44h0M378 124h0M382 356h0M299 204h0M56 225h0M522 167h0M343 325h0M64 254h0M497 167h0M58 115h0M189 348h0M227 319h0M243 168h0M121 142h0M288 306h0M454 68h0M284 36h0M406 158h0M108 181h0M298 176h0M406 76h0M352 303h0M416 49h0M396 63h0M41 167h0M15 214h0M404 174h0M214 292h0M261 186h0M103 78h0M84 282h0M359 275h0M278 133h0M315 93h0M279 25h0M6 318h0M143 253h0M373 171h0M143 68h0M507 160h0M177 240h0M205 297h0M365 370h0M246 185h0M48 108h0M137 64h0M159 281h0M288 55h0M396 363h0M313 104h0M439 199h0M172 85h0M502 156h0M118 75h0M138 328h0M382 96h0M248 128h0M422 90h0M35 30h0M262 272h0M279 60h0M329 77h0M49 142h0M537 282h0M372 153h0M507 98h0M490 24h0M543 43h0M287 259h0M93 252h0M102 9h0M240 160h0M193 156h0M178 128h0M454 343h0M536 145h0M525 219h0M449 292h0M312 294h0M176 194h0M324 206h0M263 352h0M51 165h0M304 298h0M556 212h0M406 30h0M471 307h0M364 64h0M437 348h0M30 311h0M259 212h0M269 49h0M502 295h0M533 272h0M148 90h0M240 346h0M153 170h0M67 236h0M8 362h0M381 308h0M417 282h0M243 95h0M88 122h0M253 63h0M218 74h0M69 201h0M73 18h0M368 126h0M329 243h0M178 226h0M344 256h0M73 40h0M53 349h0M0 156h0M472 19h0M555 78h0M229 155h0M367 53h0M166 92h0M153 368h0M358 241h0M120 276h0M458 255h0M30 27h0M1 55h0M27 263h0M316 82h0M513 76h0M402 123h0M65 303h0M460 48h0M235 206h0M240 185h0M191 114h0M1 45h0M411 92h0M501 35h0M146 310h0M260 29h0M555 70h0M16 255h0M317 40h0M218 298h0M408 284h0M137 240h0M503 21h0M156 350h0M298 294h0M307 178h0M391 38h0M161 188h0M127 216h0M546 56h0M396 165h0M41 199h0M103 187h0M8 199h0M312 337h0M262 164h0M179 119h0M4 99h0M100 320h0M51 232h0M539 242h0M304 83h0M193 161h0M365 24h0M42 59h0M31 32h0M447 122h0M246 1h0M262 307h0M374 294h0M217 203h0M48 38h0M345 100h0M400 82h0M508 251h0M490 85h0M335 287h0M368 67h0M12 141h0M63 201h0M267 69h0M480 332h0M244 46h0M101 206h0M370 179h0M106 54h0M453 180h0M537 22h0M10 40h0M385 303h0M467 106h0M118 34h0M146 346h0M51 312h0M229 107h0M306 341h0M36 358h0M531 33h0M12 177h0M35 252h0M280 67h0M137 283h0M521 230h0M125 26h0M477 114h0M60 312h0M218 367h0M168 258h0M535 130h0M250 325h0M287 124h0M458 18h0M105 307h0M76 285h0M543 16h0M438 340h0M42 288h0M389 141h0M549 225h0M75 318h0M513 161h0M167 282h0M91 139h0M196 344h0M325 252h0M369 335h0M555 58h0M41 217h0M318 122h0M353 44h0M326 221h0M117 153h0M413 113h0M383 209h0M163 230h0M243 319h0M403 2h0M61 39h0M462 183h0M306 356h0M523 101h0M159 296h0M489 198h0M59 272h0M3 371h0M519 248h0M177 9h0M325 282h0M32 289h0M529 17h0M499 256h0M536 352h0M292 283h0M330 192h0M207 264h0M216 162h0M180 140h0M514 41h0M341 94h0M484 243h0M157 159h0M414 189h0M494 125h0M331 84h0M548 186h0M453 282h0M196 122h0M448 105h0M433 169h0M300 370h0M32 305h0M17 291h0M362 264h0M391 174h0M412 258h0M176 165h0M149 129h0M245 339h0M79 10h0M548 171h0M386 257h0M396 12h0M465 315h0M135 365h0M159 309h0M391 115h0M260 131h0M442 135h0M220 253h0M475 94h0M187 138h0M112 216h0M539 26h0M345 125h0M361 115h0M194 18h0M59 348h0M1 49h0M267 321h0M169 106h0M92 201h0M527 116h0M233 96h0M200 370h0M337 81h0M40 18h0M425 300h0M285 117h0M110 273h0M544 50h0M514 223h0M324 110h0M543 2h0M332 364h0M233 129h0M128 227h0M122 324h0M1 118h0M437 69h0M407 81h0M339 241h0M319 68h0M121 201h0M418 186h0M91 299h0M25 54h0M315 220h0M465 295h0M479 265h0M325 260h0M64 180h0M146 326h0M257 83h0M447 358h0M538 178h0M352 95h0M394 272h0M534 358h0M70 54h0M139 226h0M54 355h0M288 188h0M370 270h0M440 43h0M296 1h0M202 49h0M238 291h0M39 236h0M108 117h0M433 273h0M233 140h0M256 70h0M120 38h0M340 168h0M181 263h0M99 139h0M179 37h0M214 110h0M411 320h0M478 235h0M511 137h0M181 17h0M407 44h0M246 216h0M361 346h0M511 230h0M411 5h0M482 38h0M415 360h0M514 334h0M119 189h0M104 92h0M393 162h0M507 327h0M375 220h0M117 130h0M28 142h0M320 251h0M62 111h0M270 17h0M185 101h0M65 363h0M551 127h0M122 98h0M285 31h0M549 348h0M269 257h0M280 20h0M105 289h0M397 140h0M86 194h0M419 67h0M286 328h0M444 193h0M223 60h0M353 204h0M521 60h0M412 57h0M477 345h0M46 43h0M291 0h0M142 215h0M161 215h0M211 318h0M233 104h0M271 134h0M492 33h0M127 277h0M180 274h0M18 36h0M243 308h0M50 0h0M196 73h0M398 240h0M46 170h0M544 287h0M36 54h0M133 360h0M394 59h0M53 184h0M545 220h0M21 293h0M309 58h0M142 125h0M153 347h0M514 132h0M172 157h0M109 317h0M521 143h0M205 163h0M543 90h0M464 70h0M209 34h0M454 369h0M65 354h0M481 278h0M207 182h0M221 48h0M438 59h0M0 101h0M225 366h0M101 30h0M269 88h0M451 169h0M70 351h0M337 110h0M342 18h0M395 0h0M510 289h0M291 333h0M319 236h0M247 285h0M271 186h0M52 200h0M54 97h0M59 88h0M130 356h0M289 341h0M427 29h0M412 343h0M522 314h0M556 316h0M85 183h0M71 253h0M95 84h0M61 287h0M15 70h0M233 311h0M464 173h0M44 149h0M21 42h0M198 328h0M343 224h0M430 220h0M491 346h0M526 35h0M80 174h0M221 189h0M108 32h0M42 223h0M92 262h0M377 214h0M534 191h0M275 172h0M114 354h0M239 66h0M3 347h0M135 169h0M40 93h0M242 29h0M295 202h0M107 139h0M94 25h0M198 335h0M95 193h0M397 281h0M221 274h0M109 25h0M84 114h0M427 198h0M167 271h0M146 166h0M318 145h0M149 295h0M138 115h0M253 290h0M67 290h0M372 64h0M21 187h0M525 328h0M427 150h0M271 262h0M170 329h0M183 324h0M308 291h0M71 49h0M125 255h0M0 235h0M301 237h0M341 8h0M460 329h0M336 10h0M115 318h0M489 171h0M541 111h0M222 97h0M507 179h0M135 183h0M355 313h0M517 270h0M158 5h0M347 170h0M126 196h0M102 61h0M167 8h0M78 5h0M252 75h0M531 24h0M298 259h0M152 321h0M168 345h0M404 292h0M535 107h0M500 230h0M157 203h0M157 190h0M478 41h0M509 310h0M200 165h0M140 287h0M456 270h0M46 50h0M164 58h0M369 39h0M328 234h0M54 367h0M195 205h0M396 218h0M334 292h0M56 142h0M288 130h0M551 231h0M216 135h0M489 113h0M432 61h0M409 138h0M510 48h0M40 328h0M325 294h0M190 223h0M77 134h0M427 52h0M359 354h0M484 170h0M308 276h0M113 231h0M275 143h0M1 191h0M15 333h0M470 54h0M350 135h0M76 278h0M412 76h0M356 201h0M19 132h0M76 308h0M309 24h0M119 67h0M307 131h0M110 12h0M464 148h0M243 247h0M477 174h0M485 179h0M80 63h0M122 56h0M377 186h0M90 149h0M276 317h0M160 201h0M12 294h0M552 191h0M432 30h0M373 303h0M556 260h0M313 272h0M537 325h0M54 91h0M84 87h0M519 35h0M554 3h0M494 247h0M405 201h0M161 359h0M253 316h0M212 4h0M300 304h0M115 226h0M177 247h0M422 152h0M38 285h0M367 215h0M477 357h0M3 167h0M84 11h0M218 111h0M310 298h0M384 153h0M66 295h0M315 132h0M301 180h0M161 251h0M242 275h0M148 134h0M349 323h0M222 56h0M91 69h0M81 311h0M455 136h0M404 348h0M402 101h0M85 147h0M1 326h0M173 68h0M308 286h0M255 0h0M273 359h0M238 55h0M237 61h0M475 57h0M500 357h0M200 83h0M413 243h0M10 193h0M219 214h0M306 241h0M298 161h0M59 231h0M73 229h0M313 1h0M296 318h0M76 328h0M523 147h0M346 174h0M147 177h0M36 340h0M211 305h0M190 369h0M109 61h0M237 358h0M39 253h0M198 15h0M460 84h0M241 155h0M477 297h0M222 357h0M481 68h0M61 171h0M529 250h0M317 51h0M54 86h0M512 65h0M296 272h0M331 204h0M167 18h0M110 334h0M372 319h0M406 318h0M499 90h0M51 255h0M7 313h0M374 29h0M238 299h0M55 262h0M260 126h0M100 306h0M456 242h0M520 1h0M543 65h0M16 24h0M207 292h0M258 141h0M2 127h0M155 313h0M176 137h0M158 255h0M67 214h0M95 351h0M245 229h0M391 129h0M125 285h0M479 165h0M92 287h0M17 117h0M205 98h0M135 138h0M494 144h0M35 282h0M522 153h0M547 131h0M317 203h0M241 262h0M389 88h0M159 36h0M460 97h0M259 282h0M126 94h0M416 182h0M482 74h0M171 366h0M258 64h0M215 279h0M264 363h0M71 324h0M301 42h0M329 311h0M132 265h0M321 56h0M285 88h0M167 211h0M153 292h0M11 59h0M41 359h0M353 360h0M340 341h0M299 282h0M377 85h0M307 186h0M357 72h0M210 210h0M195 174h0M348 44h0M348 27h0M523 26h0M23 301h0M421 252h0M177 72h0M330 121h0M122 308h0M335 155h0M112 37h0M336 165h0M109 361h0M348 1h0M357 47h0M363 173h0" stroke="#ca363c" stroke-width="4.2" stroke-linecap="round" fill="none" stroke-opacity="0.88"/>
<path d="M483 164h0M443 118h0M395 369h0M524 250h0M76 249h0M262 37h0M425 109h0M207 145h0M321 104h0M320 64h0M514 213h0M378 210h0M68 175h0M340 216h0M43 292h0M72 48h0M487 85h0M373 122h0M417 248h0M503 264h0M102 21h0M8 283h0M108 305h0M279 50h0M407 225h0M427 226h0M410 350h0M398 67h0M304 338h0M189 293h0M14 188h0M450 281h0M330 124h0M132 112h0M118 41h0M14 101h0M112 365h0M170 161h0M395 42h0M34 46h0M122 143h0M215 77h0M465 38h0M236 22h0M442 206h0M525 13h0M109 189h0M123 215h0M496 158h0M4 210h0M48 202h0M395 86h0M481 278h0M506 8h0M238 337h0M82 91h0M160 140h0M90 48h0M18 323h0M272 321h0M436 245h0M233 76h0M158 180h0M549 99h0M279 197h0M59 363h0M504 179h0M478 317h0M214 219h0M343 3h0M383 227h0M98 219h0M1 13h0M495 168h0M298 43h0M158 224h0M350 193h0M153 237h0M414 130h0M121 341h0M61 121h0M81 294h0M386 184h0M99 309h0M226 253h0M83 361h0M159 124h0M302 101h0M69 270h0M479 78h0M100 241h0M491 144h0M416 369h0M360 118h0M111 139h0M519 322h0M258 59h0M301 162h0M506 138h0M505 89h0M32 149h0M416 119h0M364 150h0M217 92h0M95 371h0M292 281h0M379 169h0M508 301h0M78 283h0M305 206h0M230 90h0M499 243h0M343 79h0M525 344h0M509 352h0M472 193h0M459 122h0M344 15h0M134 22h0M400 299h0M555 141h0M477 267h0M522 314h0M152 195h0M189 312h0M507 102h0M206 38h0M2 136h0M311 254h0M99 259h0M56 204h0M263 347h0M163 155h0M456 182h0M116 67h0M398 167h0M250 247h0M383 94h0M155 5h0M308 323h0M398 177h0M415 276h0M88 287h0M190 233h0M465 358h0M46 171h0M543 24h0M299 352h0M220 365h0M152 368h0M357 228h0M90 115h0M128 136h0M119 15h0M339 277h0M227 304h0M177 1h0M500 212h0M169 285h0M370 248h0M372 171h0M195 47h0M125 301h0M225 195h0M134 227h0M35 244h0M515 8h0M107 115h0M552 22h0M209 340h0M39 271h0M4 114h0M267 105h0M394 57h0M299 180h0M472 345h0M64 98h0M543 285h0M343 52h0M134 336h0M325 208h0M378 300h0M370 6h0M321 303h0M356 366h0M163 233h0M195 136h0M99 200h0M332 283h0M146 94h0M171 264h0M338 329h0M117 234h0M538 73h0M313 164h0M447 27h0M140 322h0M328 60h0M459 69h0M441 265h0M64 220h0M39 16h0M312 304h0M369 158h0M152 287h0M82 337h0M406 35h0M62 136h0M419 296h0M254 204h0M204 53h0M471 8h0M377 54h0M253 178h0M324 13h0M543 265h0M152 355h0M421 39h0M273 135h0M387 48h0M294 204h0M90 320h0M142 250h0M438 27h0M79 310h0M355 70h0M297 22h0M474 87h0M351 346h0M454 229h0M480 9h0M550 37h0M47 85h0M47 355h0M260 190h0M268 156h0M253 127h0M232 30h0M529 61h0M160 299h0M293 82h0M250 325h0M56 143h0M493 66h0M89 215h0M489 131h0M254 266h0M297 129h0M452 292h0M205 305h0M525 179h0M256 366h0M82 157h0M528 353h0M90 230h0M39 353h0M484 341h0M462 316h0M58 52h0M168 196h0M393 220h0M106 341h0M227 344h0M104 125h0M553 10h0M93 163h0M292 153h0M335 89h0M196 301h0M282 235h0M195 71h0M58 20h0M324 2h0M123 317h0M338 304h0M285 347h0M301 71h0M348 128h0M7 173h0M354 41h0M478 242h0M463 290h0M59 286h0M457 240h0M515 91h0M21 4h0M474 48h0M170 370h0M46 340h0M41 30h0M107 45h0M74 331h0M351 156h0M154 102h0M50 367h0M202 165h0M77 84h0M82 173h0M453 260h0M137 31h0M327 98h0M113 221h0M213 168h0M57 214h0M490 5h0M105 206h0M101 146h0M306 286h0M269 89h0M1 257h0M4 268h0M231 355h0M185 119h0M483 124h0M283 5h0M89 194h0M241 13h0M205 5h0M165 318h0M53 102h0M476 257h0M461 250h0M68 362h0M360 295h0M157 33h0M261 297h0M225 60h0M288 16h0M510 151h0M357 27h0M490 285h0M197 251h0M295 341h0M496 105h0M314 274h0M297 114h0M240 365h0M231 125h0M452 323h0M284 157h0M447 170h0M471 210h0M335 65h0M546 54h0M433 122h0M101 51h0M168 252h0M384 362h0M175 100h0M54 273h0M16 80h0M18 162h0M430 303h0M177 361h0M429 270h0M181 262h0M38 201h0M201 96h0M463 275h0M522 110h0M33 62h0M540 305h0M67 339h0M314 47h0M101 288h0M130 362h0M412 332h0M396 318h0M535 329h0M215 249h0M370 133h0M388 101h0M74 258h0M413 201h0M544 243h0M425 182h0M148 160h0M1 30h0M240 246h0M441 178h0M29 282h0M337 38h0M259 10h0M48 126h0M352 222h0M192 267h0M288 109h0M46 112h0M25 337h0M63 77h0M369 288h0M329 361h0M403 161h0M520 72h0M154 329h0M188 341h0M191 101h0M202 262h0M323 177h0M395 197h0M34 133h0M44 64h0M388 212h0M372 314h0M451 144h0M350 135h0M357 266h0M96 352h0M87 179h0M259 20h0M183 175h0M299 367h0M30 19h0M225 0h0M394 155h0M169 107h0M140 200h0M368 357h0M269 278h0M495 268h0M118 24h0M172 148h0M282 261h0M251 103h0M187 370h0M349 84h0M440 191h0M82 187h0M502 357h0M352 182h0M441 328h0M460 173h0M352 272h0M542 293h0M448 247h0M379 111h0M74 107h0M124 84h0M487 298h0M353 92h0M516 347h0M364 262h0M185 154h0M80 65h0M316 335h0M247 229h0M64 36h0M547 120h0M427 67h0M497 350h0M160 359h0M390 241h0M210 28h0M94 275h0M61 9h0M546 80h0M51 152h0M536 114h0M462 208h0M14 36h0M300 320h0M50 325h0M116 207h0M230 246h0M352 322h0M513 162h0M464 21h0M41 229h0M183 281h0M24 328h0M240 328h0M195 188h0M520 202h0M388 298h0M182 140h0M244 141h0M35 309h0M352 4h0M30 115h0M414 239h0M89 63h0M242 82h0M413 20h0M179 129h0M541 210h0M236 297h0M218 115h0M132 8h0M444 105h0M304 2h0M122 227h0M3 89h0M177 14h0M464 228h0M464 107h0M25 31h0M250 166h0M112 285h0M354 306h0M505 252h0M250 73h0M213 322h0M401 49h0M72 59h0M148 112h0M29 348h0M130 126h0M524 290h0M108 71h0M15 61h0M370 68h0M418 213h0M43 219h0M196 25h0M508 200h0M477 179h0M549 251h0M459 335h0M374 149h0M555 53h0M117 267h0M201 173h0M461 3h0M537 183h0M34 363h0M433 312h0M270 178h0M164 26h0M321 51h0M519 139h0M126 181h0M349 331h0M310 244h0M170 44h0M353 207h0M149 130h0M288 218h0M280 227h0M552 356h0M171 129h0M179 214h0M481 325h0M320 228h0M430 136h0M23 237h0M4 323h0M344 103h0M181 41h0M231 200h0M135 120h0M472 121h0M489 181h0M526 37h0M168 86h0M505 171h0M194 357h0M125 102h0M303 295h0M84 122h0M513 182h0M362 218h0M94 10h0M136 309h0M463 90h0M287 316h0M85 222h0M552 210h0M532 197h0M514 192h0M142 291h0M504 323h0M230 166h0M345 37h0M64 166h0M276 247h0M508 276h0M208 290h0M56 112h0M510 122h0M531 271h0M265 139h0M540 257h0M133 103h0M405 73h0M376 182h0M253 84h0M214 184h0M426 240h0M420 260h0M189 128h0M315 23h0M544 337h0M333 264h0M320 254h0M433 48h0M345 148h0M179 294h0M74 94h0M320 76h0M516 265h0M436 55h0M53 70h0M361 84h0M414 79h0M193 286h0M112 321h0M266 369h0M496 334h0M158 349h0M371 99h0M362 278h0M333 2h0M331 73h0M448 316h0M432 78h0M272 264h0M66 371h0M259 359h0M72 74h0M16 204h0M440 290h0M514 22h0M64 326h0M146 340h0M338 198h0M374 371h0M277 276h0M528 123h0M510 284h0M265 289h0M530 225h0M450 220h0M351 116h0M215 277h0M339 110h0M431 173h0M113 129h0M6 246h0M25 368h0M254 233h0M176 170h0M306 109h0M500 189h0M168 205h0M550 195h0M19 108h0M506 238h0M306 51h0M136 88h0M429 290h0M234 147h0M374 84h0M263 118h0M326 313h0M308 182h0M475 31h0M358 187h0M226 330h0M321 34h0M5 123h0M347 252h0M541 93h0M121 113h0M457 13h0M166 13h0M382 143h0M283 120h0M378 12h0M218 149h0M71 351h0M311 13h0M238 167h0M373 44h0M62 352h0M131 240h0M151 152h0M433 198h0M262 168h0M262 261h0M162 45h0M312 225h0M257 149h0M498 131h0M41 239h0M495 19h0M319 95h0M335 18h0M124 291h0M83 108h0M162 337h0M6 299h0M344 285h0M524 54h0M243 33h0M186 241h0M82 31h0M161 94h0M432 259h0M294 55h0M208 82h0M119 280h0M10 13h0M330 136h0M450 201h0M60 245h0M293 64h0M286 293h0M143 19h0M477 303h0M439 98h0M319 292h0M97 81h0M244 213h0M201 294h0M22 224h0M182 331h0M31 169h0M464 48h0M552 113h0M544 175h0M403 190h0M207 280h0M368 228h0M307 143h0M289 33h0M99 137h0M507 223h0M194 180h0M75 240h0M57 231h0M137 1h0M468 303h0M10 197h0M348 301h0M207 358h0M146 230h0M251 281h0M27 214h0M63 195h0M347 366h0M532 295h0M173 65h0M266 239h0M480 59h0M180 352h0M178 199h0M99 189h0M526 90h0M3 70h0M291 242h0M496 297h0M141 181h0M205 21h0M389 285h0M30 255h0M368 107h0M403 10h0M472 367h0M286 95h0M356 110h0M277 289h0M83 74h0M124 74h0M543 6h0M49 135h0M25 203h0M33 325h0M373 200h0M276 160h0M356 164h0M544 144h0M10 219h0M17 181h0M519 228h0M11 314h0M34 142h0M334 205h0M79 41h0M29 300h0M221 212h0M428 0h0M430 35h0M169 183h0M410 152h0M521 364h0M385 346h0M50 238h0M326 243h0M403 361h0M331 171h0M438 143h0M202 125h0M384 75h0M144 221h0M425 50h0M194 12h0M437 353h0M89 203h0M452 358h0M499 276h0M319 187h0M398 309h0M202 154h0M243 55h0M152 278h0M181 31h0M111 90h0M329 330h0M534 246h0M296 146h0M460 98h0M546 366h0M413 45h0M135 354h0M318 118h0M360 351h0M410 269h0M326 370h0M549 128h0M166 348h0M284 137h0M432 336h0M63 317h0M89 81h0M395 276h0M232 262h0M27 268h0M485 96h0M547 226h0M376 255h0M442 154h0M185 85h0M450 273h0M204 230h0M215 204h0M75 13h0M10 370h0M175 241h0M131 173h0M28 108h0M401 326h0M234 138h0M516 243h0M358 342h0M530 365h0M295 188h0M204 113h0M273 26h0M218 342h0M461 130h0M169 140h0M447 35h0M554 150h0M215 230h0M491 222h0M237 280h0M133 192h0M493 251h0M88 331h0M142 260h0M237 63h0M278 71h0M270 301h0M151 65h0M165 241h0M537 168h0M157 21h0M260 278h0M526 237h0M338 356h0M221 127h0M368 347h0M235 42h0M150 77h0M252 111h0M239 186h0M411 296h0M330 50h0M3 351h0M11 134h0M249 339h0M275 360h0M323 128h0M60 175h0M7 142h0M15 337h0M490 192h0M81 352h0M476 220h0M222 15h0M179 59h0M69 138h0M426 206h0M383 261h0M528 304h0M1 201h0M489 40h0M228 67h0M540 200h0M269 189h0M150 49h0M82 323h0M46 248h0M397 145h0M520 129h0M500 114h0M26 49h0M168 120h0M480 134h0M105 1h0M206 331h0M218 299h0M284 370h0M222 100h0M18 89h0M459 78h0M344 240h0M316 146h0M38 279h0M475 19h0M369 18h0M425 148h0M70 151h0M335 152h0M216 7h0M265 47h0M506 33h0M388 249h0M191 58h0M154 168h0M14 148h0M556 77h0M33 2h0M304 231h0M360 319h0M531 136h0M6 61h0M521 3h0M27 123h0M223 223h0M483 70h0M82 130h0M333 253h0M323 324h0M543 351h0M344 176h0M538 277h0M483 110h0M274 3h0M138 267h0M360 98h0M371 31h0M413 110h0M24 80h0M262 230h0M495 367h0M425 369h0M556 185h0M412 7h0M503 53h0M318 212h0M517 102h0M248 361h0M544 324h0M491 327h0M444 4h0M41 187h0M85 3h0M35 289h0M359 61h0M313 3h0M512 76h0M443 341h0M108 240h0M423 77h0M338 317h0M170 296h0M118 190h0M300 275h0M191 39h0M108 261h0M193 196h0M482 360h0M193 162h0M385 119h0M401 207h0M99 93h0M518 333h0M185 107h0M113 249h0M347 201h0M210 311h0M80 147h0M328 291h0M435 225h0M487 259h0M416 323h0M122 58h0M259 336h0M476 99h0M404 286h0M97 300h0M227 286h0M122 170h0M396 123h0M516 57h0M140 131h0M237 1h0M309 267h0M501 74h0M121 369h0M435 281h0M422 332h0M418 89h0M412 191h0M170 228h0M356 13h0M483 31h0M61 183h0M25 145h0M196 366h0M529 79h0M342 268h0M442 132h0M126 35h0M76 117h0M412 29h0M313 56h0M300 267h0M371 218h0M151 319h0M464 370h0M83 271h0M303 304h0M55 162h0M364 369h0M385 19h0M140 240h0M74 129h0M5 151h0M252 38h0M453 51h0M455 212h0M446 80h0M451 128h0M231 190h0M334 341h0M198 218h0M213 66h0M130 268h0M422 342h0M234 221h0M545 235h0M451 64h0M46 50h0M440 40h0M349 290h0M84 256h0M36 106h0M489 319h0M468 166h0M553 66h0M148 300h0M213 134h0M270 65h0M245 289h0M205 271h0M523 147h0M305 87h0M306 312h0M156 267h0M528 25h0M279 181h0M14 227h0M197 316h0M246 43h0M303 195h0M131 164h0M249 93h0M97 337h0M148 36h0M38 94h0M124 48h0M193 79h0M208 196h0M477 285h0M419 159h0M469 137h0M383 156h0M278 333h0M424 283h0M456 191h0M432 362h0M32 88h0M197 87h0M402 102h0M475 155h0M189 223h0M394 0h0M60 154h0" stroke="#be2c36" stroke-width="5.8" stroke-linecap="round" fill="none" stroke-opacity="0.9"/>
<path d="M137 240h0M232 125h0M296 263h0M414 12h0M277 89h0M527 175h0M180 23h0M46 94h0M468 302h0M499 134h0M271 43h0M17 19h0M382 274h0M171 207h0M381 303h0M321 359h0M272 99h0M260 234h0M106 159h0M194 360h0M365 83h0M528 330h0M350 288h0M293 246h0M139 78h0M212 343h0M411 41h0M468 124h0M169 128h0M129 235h0M360 144h0M117 263h0M339 35h0M355 307h0M301 175h0M399 72h0M138 338h0M102 66h0M530 283h0M138 49h0M162 134h0M181 326h0M189 183h0M465 323h0M461 241h0M250 77h0M148 31h0M287 322h0M416 214h0M349 337h0M500 218h0M256 290h0M418 320h0M158 300h0M389 61h0M179 73h0M31 143h0M177 10h0M3 254h0M118 353h0M214 159h0M143 169h0M353 133h0M78 57h0M39 263h0M227 214h0M251 217h0M484 30h0M57 24h0M174 241h0M55 353h0M244 250h0M535 273h0M208 126h0M353 110h0M131 79h0M253 172h0M317 225h0M518 115h0M56 66h0M321 122h0M77 155h0M117 5h0M433 149h0M160 185h0M499 347h0M456 181h0M310 24h0M142 150h0M249 323h0M265 322h0M490 18h0M264 25h0M288 178h0M476 342h0M51 271h0M68 234h0M486 331h0M46 201h0M344 361h0M117 22h0M431 212h0M165 236h0M505 297h0M107 135h0M298 33h0M302 201h0M242 81h0M443 175h0M140 102h0M269 261h0M530 346h0M400 42h0M415 334h0M456 329h0M485 207h0M71 137h0M190 76h0M104 264h0M272 235h0M231 153h0M361 159h0M442 4h0M451 261h0M25 53h0M139 293h0M304 301h0M141 18h0M485 93h0M133 356h0M202 327h0M486 249h0M521 366h0M389 158h0M293 118h0M376 100h0M525 18h0M455 272h0M395 83h0M151 128h0M358 243h0M123 63h0M305 17h0M206 76h0M498 200h0M5 207h0M154 51h0M217 266h0M62 148h0M428 280h0M267 196h0M345 317h0M218 85h0M177 272h0M451 187h0M469 225h0M461 294h0M139 200h0M438 113h0M139 348h0M545 296h0M264 247h0M262 165h0M271 156h0M327 191h0M152 118h0M51 184h0M432 369h0M430 291h0M284 125h0M16 184h0M257 148h0M489 199h0M481 8h0M341 343h0M462 105h0M63 31h0M452 321h0M179 108h0M58 233h0M159 99h0M356 191h0M171 89h0M31 337h0M242 28h0M275 225h0M282 279h0M402 144h0M28 291h0M231 231h0M537 47h0M352 202h0M500 307h0M536 216h0M174 305h0M95 49h0M101 129h0M140 189h0M88 263h0M244 93h0M125 327h0M272 339h0M406 259h0M245 168h0M271 58h0M425 146h0M370 111h0M460 305h0M36 219h0M311 127h0M226 319h0M38 207h0M377 250h0M281 110h0M28 304h0M313 156h0M429 308h0M474 214h0M15 266h0M406 3h0M465 34h0M504 2h0M25 323h0M304 317h0M15 39h0M274 138h0M484 278h0M98 216h0M396 166h0M298 332h0M303 227h0M388 208h0M514 42h0M544 255h0M78 175h0M249 111h0M51 361h0M76 112h0M156 360h0M298 218h0M509 29h0M368 66h0M480 22h0M293 102h0M548 243h0M364 23h0M409 169h0M548 363h0M243 360h0M72 9h0M383 189h0M345 19h0M511 321h0M216 192h0M233 102h0M189 249h0M495 330h0M107 364h0M440 200h0M103 252h0M466 250h0M333 367h0M296 183h0M377 84h0M26 117h0M465 281h0M188 100h0M456 363h0M76 353h0M22 149h0M123 314h0M210 261h0M102 14h0M496 56h0M443 260h0M187 39h0M124 129h0M208 285h0M408 68h0M363 42h0M540 189h0M349 29h0M540 264h0M252 9h0M9 76h0M194 293h0M178 93h0M311 355h0M227 77h0M147 82h0M45 55h0M225 347h0M62 134h0M423 19h0M317 292h0M249 207h0M325 307h0M404 340h0M505 151h0M470 313h0M419 352h0M9 163h0M81 145h0M69 157h0M373 241h0M75 39h0M59 340h0M340 151h0M506 87h0M319 84h0M202 109h0M525 160h0M87 275h0M450 219h0M55 309h0M327 290h0M9 66h0M69 276h0M193 153h0M299 352h0M230 24h0M455 349h0M3 184h0M288 202h0M488 295h0M178 297h0M235 258h0M553 300h0M154 268h0M5 279h0M99 232h0M260 181h0M206 135h0M288 187h0M30 266h0M302 155h0M110 293h0M452 117h0M473 156h0M490 159h0M486 148h0M159 167h0M488 170h0M209 230h0M26 107h0M88 223h0M171 164h0M417 266h0M39 24h0M244 227h0M8 120h0M399 120h0M207 92h0M8 346h0M260 224h0M359 69h0M441 47h0M234 162h0M105 90h0M259 52h0M545 235h0M200 198h0M316 75h0M226 283h0M242 200h0M487 348h0M247 134h0M48 152h0M384 170h0M362 357h0M362 262h0M270 307h0M502 243h0M12 315h0M325 222h0M31 83h0M225 45h0M553 231h0M76 195h0M119 74h0M437 248h0M423 219h0M54 263h0M286 58h0M207 50h0M7 297h0M118 134h0M327 239h0M7 99h0M466 365h0M280 150h0M411 223h0M272 3h0M540 229h0M377 220h0M516 54h0M328 19h0M212 276h0M469 173h0M280 327h0M290 211h0M465 96h0M472 100h0M350 96h0M325 99h0M172 321h0M35 249h0M132 205h0M197 56h0M459 79h0M96 77h0M183 139h0M311 89h0M29 170h0M327 63h0M228 371h0M86 109h0M11 152h0M458 32h0M225 257h0M148 338h0M270 361h0M400 280h0M336 276h0M290 280h0M443 349h0M142 228h0M74 341h0M95 116h0M515 313h0M555 341h0M337 118h0M318 268h0M173 259h0M126 248h0M227 165h0M243 346h0M200 187h0M97 315h0M18 223h0M346 158h0M208 37h0M209 151h0M428 122h0M415 176h0M342 214h0M130 142h0M406 158h0M446 125h0M487 108h0M328 136h0M72 367h0M244 142h0M84 81h0M294 360h0M27 21h0M449 294h0M411 98h0M404 297h0M250 271h0M385 80h0M15 329h0M122 188h0M439 333h0M105 187h0M166 46h0M443 215h0M430 192h0M140 69h0M164 218h0M356 46h0M126 271h0M332 315h0M323 338h0M112 278h0M134 57h0M37 37h0M518 333h0M166 119h0M38 183h0M493 181h0M109 121h0M62 296h0M552 309h0M519 27h0M510 213h0M49 1h0M531 224h0M464 146h0M199 89h0M349 6h0M481 85h0M176 185h0M59 84h0M335 221h0M21 63h0M56 195h0M40 238h0M153 287h0M514 258h0M75 270h0M289 294h0M130 169h0M34 364h0M83 287h0M277 28h0M31 153h0M85 322h0M426 261h0M490 235h0M140 86h0M322 153h0M466 347h0M384 30h0M278 201h0M344 258h0M389 321h0M257 138h0M517 208h0M356 257h0M518 342h0M448 53h0M163 25h0M495 354h0M348 179h0M269 124h0M233 91h0M89 129h0M2 196h0M354 324h0M535 334h0M535 153h0M511 266h0M219 308h0M67 45h0M61 189h0M339 353h0M419 237h0M328 203h0M290 135h0M189 191h0M415 147h0M96 189h0M161 62h0M349 230h0M201 261h0M252 282h0M15 352h0M385 252h0M385 178h0M31 12h0M284 343h0M515 75h0M98 154h0M290 27h0M431 55h0M4 244h0M153 323h0M186 121h0M201 98h0M452 102h0M549 278h0M20 239h0M200 310h0M132 181h0M418 112h0M481 41h0M390 110h0M129 36h0M445 88h0M438 165h0M396 9h0M526 311h0M8 131h0M173 60h0M165 75h0M336 137h0M158 224h0M232 136h0M546 70h0M514 9h0M345 271h0M460 169h0M110 145h0M379 209h0M479 307h0M550 182h0M516 172h0M510 193h0M523 38h0M522 197h0M53 37h0M363 339h0M119 286h0M325 35h0M149 218h0M526 275h0M25 188h0M349 354h0M269 291h0M279 255h0M258 62h0M19 291h0M391 39h0M377 4h0M537 308h0M155 139h0M375 173h0M395 333h0M18 197h0M16 6h0M398 243h0M478 359h0M189 86h0M225 9h0M320 5h0M527 357h0M434 323h0M396 174h0M12 254h0M184 5h0M198 44h0M527 293h0M206 242h0M72 325h0M355 86h0M295 313h0M445 270h0M281 16h0M151 22h0M30 197h0M205 163h0M86 301h0M112 346h0M436 126h0M501 93h0M95 355h0M530 242h0M388 341h0M494 102h0M406 88h0M295 371h0M21 140h0M520 147h0M347 125h0M233 343h0M321 180h0M524 262h0M114 306h0M363 183h0M436 356h0M192 260h0M313 319h0M13 85h0M263 95h0M120 255h0M19 160h0M226 174h0M296 5h0M197 334h0M437 29h0M401 210h0M476 234h0M445 316h0M376 340h0M251 263h0M476 369h0M177 133h0M555 73h0M328 268h0M57 331h0M382 69h0M194 140h0M477 68h0M391 2h0M322 369h0M147 273h0M181 346h0M379 361h0M307 342h0M528 29h0M340 299h0M506 109h0M267 205h0M143 177h0M552 266h0M129 283h0M113 49h0M252 42h0M399 308h0M176 287h0M311 240h0M237 328h0M438 302h0M79 187h0M503 323h0M477 243h0M110 225h0M361 103h0M406 185h0M269 274h0M71 68h0M79 259h0M222 224h0M163 4h0M412 31h0M267 112h0M134 93h0M14 214h0M129 195h0M426 39h0M304 188h0M153 37h0M427 29h0M379 16h0M284 8h0M312 309h0M57 253h0M525 218h0M38 120h0M365 11h0M314 135h0M341 68h0M29 281h0M65 306h0M502 117h0M318 248h0M293 126h0M53 13h0M212 332h0M257 105h0M243 127h0M134 116h0M449 165h0M256 188h0M83 0h0M205 20h0M40 135h0M525 106h0M134 275h0M161 281h0M73 129h0M66 55h0M232 268h0M440 60h0M401 356h0M451 44h0M392 349h0M150 94h0M157 213h0M96 102h0M383 126h0M162 258h0M119 91h0M292 228h0M324 231h0M232 117h0M283 220h0M168 101h0M342 290h0M93 289h0M432 181h0M265 215h0M188 130h0M362 320h0M188 271h0M234 243h0M0 84h0M232 364h0M497 46h0M102 36h0M359 4h0M55 224h0M536 172h0M139 134h0M512 244h0M542 110h0M147 263h0M288 87h0M22 270h0M414 296h0M309 2h0M364 234h0M119 114h0M140 283h0M37 101h0M310 178h0M216 75h0M154 234h0M109 328h0M494 125h0M532 205h0M79 227h0M70 251h0M502 288h0M363 208h0M456 88h0M473 261h0M393 293h0M254 314h0" stroke="#7a1828" stroke-width="3.8" stroke-linecap="round" fill="none" stroke-opacity="0.9"/>
<rect width="556" height="370.9" filter="url(#o2s)"/>
<path d="M457 277h0M356 284h0M235 142h0M138 367h0M410 89h0M110 160h0M266 131h0M209 238h0M500 66h0M414 213h0M498 17h0M34 239h0M463 62h0M330 369h0M237 349h0M371 339h0M277 359h0M55 96h0M391 344h0M115 61h0M29 23h0M216 158h0M43 349h0M286 35h0M408 169h0M437 46h0M397 330h0M483 122h0M382 186h0M399 217h0M70 155h0M553 110h0M445 373h0M361 185h0M542 54h0M54 306h0M330 238h0M177 287h0M20 -3h0M466 151h0M145 226h0M76 284h0M121 16h0M58 214h0M297 59h0M108 278h0M286 244h0M511 346h0M494 -6h0M421 63h0M458 331h0M343 51h0M205 356h0M114 331h0M345 82h0M201 5h0M117 296h0M92 51h0M21 112h0M427 124h0M298 228h0M1 223h0M4 178h0M64 52h0M489 156h0M552 369h0M85 194h0M429 324h0M134 90h0M60 124h0M485 324h0M128 182h0M157 123h0M251 71h0M374 276h0M173 170h0M310 121h0M95 372h0M287 192h0M18 338h0M546 281h0M448 27h0M6 111h0M193 314h0M150 31h0M7 11h0M537 233h0M462 243h0M509 80h0M377 137h0M507 211h0M75 24h0M164 51h0M358 203h0M203 292h0M152 192h0M14 237h0M245 334h0M348 344h0M20 67h0M267 25h0M408 0h0M285 137h0M224 263h0M345 376h0M561 57h0M178 35h0M61 71h0M496 174h0M257 42h0M141 256h0M337 155h0M261 298h0M477 279h0M121 365h0M288 166h0M125 277h0M166 244h0M178 91h0M10 294h0M511 367h0M550 3h0M149 211h0M311 302h0M470 220h0M32 138h0M152 347h0M438 173h0M37 8h0M555 336h0M187 213h0M133 238h0M558 245h0M134 143h0M192 231h0M474 305h0M-5 190h0M504 39h0M14 153h0M268 236h0M446 302h0M149 101h0M533 316h0M375 88h0M379 326h0M520 121h0M403 201h0M264 100h0M541 70h0M356 238h0M353 268h0M261 186h0M181 337h0M407 264h0M419 10h0M137 112h0M547 155h0M306 26h0M244 232h0M143 327h0M140 63h0M537 295h0M475 362h0M271 283h0M40 92h0M323 103h0M540 129h0M240 257h0M360 70h0M67 342h0M22 96h0M386 288h0M392 272h0M198 39h0M438 83h0M48 143h0M307 373h0M40 41h0M394 130h0M184 270h0M210 315h0M380 163h0M486 93h0M27 313h0M115 100h0M467 85h0M105 360h0M469 31h0M350 217h0M458 358h0M449 206h0M274 258h0M269 8h0M117 214h0M419 368h0M181 362h0M194 124h0M244 122h0M90 330h0M440 350h0M313 353h0M349 26h0M379 215h0M63 197h0M223 101h0M180 133h0M103 110h0M423 237h0M309 239h0M326 256h0M380 29h0M332 295h0M369 228h0M472 173h0M250 2h0M422 310h0M552 31h0M30 171h0M432 139h0M228 195h0M536 86h0M210 49h0M558 138h0M549 353h0M41 289h0M14 267h0M117 43h0M377 11h0M316 181h0M353 316h0M324 20h0M185 14h0M76 75h0M89 302h0M42 69h0M396 233h0M158 74h0M89 227h0M112 258h0M192 108h0M407 73h0M481 58h0M369 254h0M308 94h0M22 36h0M91 169h0M157 162h0M16 365h0M553 82h0M480 191h0M369 44h0M162 14h0M545 218h0M35 369h0M338 314h0M422 268h0M295 105h0M208 203h0M112 231h0M523 40h0M359 -2h0M206 260h0M78 109h0M396 61h0M287 326h0M376 108h0M92 347h0M386 377h0M486 207h0M516 154h0M308 2h0M488 78h0M442 118h0M540 261h0M406 48h0M61 279h0M75 182h0M334 64h0M238 107h0M338 9h0M222 70h0M522 205h0M209 18h0M48 166h0M513 0h0M430 107h0M323 201h0M272 208h0M272 163h0M108 142h0M448 230h0M166 145h0M125 78h0M518 101h0M85 154h0M280 63h0M251 272h0M234 51h0M30 187h0M450 160h0M-4 305h0M378 310h0M128 53h0M99 35h0M303 73h0M406 146h0M451 5h0M381 73h0M57 181h0M562 166h0M530 187h0M244 287h0M272 40h0M206 135h0M208 338h0M409 113h0M221 349h0M257 352h0M296 15h0M547 175h0M208 375h0M552 200h0M512 136h0M100 70h0M313 223h0M535 114h0M467 -5h0M507 189h0M60 368h0M491 251h0M36 107h0M161 369h0M57 35h0M267 334h0M529 279h0M307 198h0M153 290h0M54 7h0M82 -3h0M488 373h0M393 105h0M93 136h0M517 172h0M90 88h0M11 320h0M174 108h0M339 170h0M558 299h0M503 238h0M473 101h0M240 213h0M524 20h0M416 352h0M82 38h0M355 138h0M180 -6h0M300 179h0M0 208h0M232 300h0M306 271h0M339 280h0M198 80h0M138 312h0M-1 332h0M507 308h0M491 141h0M51 228h0M233 13h0M282 227h0M433 282h0M515 57h0M394 90h0M432 225h0M367 149h0M132 208h0M488 344h0M135 26h0M140 281h0M348 109h0M485 37h0M215 88h0M505 269h0M178 69h0M109 183h0M250 151h0M156 306h0M535 10h0M56 263h0M560 316h0M289 290h0M424 184h0M133 349h0M206 168h0M320 135h0M455 183h0M163 -1h0M76 262h0M72 227h0M283 95h0M529 377h0M70 306h0M-3 129h0M406 24h0M169 272h0M104 308h0M433 31h0M243 368h0M416 251h0M292 124h0M168 352h0M458 122h0M314 285h0M333 354h0M37 204h0M486 236h0M534 358h0M256 86h0M142 -2h0M7 42h0M448 103h0M193 159h0M222 287h0M126 -5h0M75 373h0M-4 357h0M302 41h0M255 245h0M299 143h0M133 127h0M439 260h0" stroke="#5b86d2" stroke-width="7.8" stroke-linecap="round" fill="none" stroke-opacity="0.85"/>
<g fill="#cde2f3"><circle cx="176" cy="137" r="4.6"/><circle cx="553" cy="131" r="3.4"/><circle cx="139" cy="-2" r="4"/><circle cx="69" cy="185" r="2.7"/><circle cx="17" cy="234" r="2.9"/><circle cx="360" cy="256" r="3.2"/><circle cx="419" cy="280" r="2.9"/><circle cx="407" cy="77" r="4"/><circle cx="498" cy="131" r="7.9"/><circle cx="353" cy="308" r="6.4"/><circle cx="359" cy="63" r="3.1"/><circle cx="464" cy="81" r="4.9"/><circle cx="181" cy="21" r="6.9"/><circle cx="115" cy="320" r="4.3"/><circle cx="457" cy="327" r="5.6"/><circle cx="43" cy="359" r="6.9"/><circle cx="214" cy="128" r="4.5"/><circle cx="304" cy="217" r="7.7"/><circle cx="538" cy="264" r="4.8"/><circle cx="159" cy="280" r="4.5"/><circle cx="255" cy="284" r="7.1"/><circle cx="512" cy="250" r="6.4"/><circle cx="-5" cy="222" r="5"/><circle cx="150" cy="369" r="3.2"/><circle cx="272" cy="268" r="6.1"/><circle cx="213" cy="214" r="8"/><circle cx="324" cy="93" r="7.8"/><circle cx="407" cy="249" r="3.9"/><circle cx="385" cy="22" r="2.8"/><circle cx="491" cy="299" r="4.3"/><circle cx="555" cy="328" r="3.3"/><circle cx="468" cy="218" r="3.6"/><circle cx="110" cy="212" r="3.4"/><circle cx="233" cy="193" r="2.9"/><circle cx="378" cy="286" r="2.6"/><circle cx="514" cy="83" r="2.6"/><circle cx="180" cy="95" r="6.3"/><circle cx="394" cy="46" r="7.3"/><circle cx="42" cy="33" r="4.3"/><circle cx="182" cy="50" r="5.4"/><circle cx="193" cy="272" r="5.3"/><circle cx="159" cy="170" r="5.5"/><circle cx="135" cy="77" r="7.2"/><circle cx="355" cy="100" r="3"/><circle cx="311" cy="0" r="2.8"/><circle cx="265" cy="101" r="4.3"/><circle cx="482" cy="195" r="4.2"/><circle cx="385" cy="68" r="5.5"/><circle cx="285" cy="70" r="2.9"/><circle cx="185" cy="226" r="3.4"/><circle cx="509" cy="339" r="7.1"/><circle cx="17" cy="44" r="3.4"/><circle cx="416" cy="172" r="2.6"/><circle cx="229" cy="171" r="3.2"/><circle cx="547" cy="25" r="3"/><circle cx="21" cy="169" r="2.7"/><circle cx="119" cy="151" r="4.2"/><circle cx="162" cy="317" r="2.9"/><circle cx="423" cy="135" r="4.9"/><circle cx="32" cy="120" r="5.9"/><circle cx="186" cy="334" r="2.6"/><circle cx="255" cy="125" r="5.7"/><circle cx="343" cy="24" r="2.7"/><circle cx="259" cy="25" r="4.3"/><circle cx="310" cy="62" r="3.9"/><circle cx="16" cy="262" r="3.4"/><circle cx="101" cy="190" r="2.7"/><circle cx="142" cy="34" r="2.7"/><circle cx="224" cy="240" r="6"/><circle cx="0" cy="303" r="3.7"/><circle cx="315" cy="243" r="6.2"/><circle cx="457" cy="109" r="6.3"/><circle cx="220" cy="63" r="7.2"/><circle cx="292" cy="323" r="4.2"/><circle cx="74" cy="282" r="3.8"/><circle cx="153" cy="97" r="3"/><circle cx="547" cy="373" r="7.9"/><circle cx="343" cy="195" r="3.1"/><circle cx="143" cy="120" r="3"/><circle cx="561" cy="196" r="4"/><circle cx="268" cy="331" r="5.4"/><circle cx="67" cy="159" r="6.1"/><circle cx="191" cy="203" r="8.2"/><circle cx="390" cy="97" r="4.5"/><circle cx="226" cy="361" r="4.4"/><circle cx="417" cy="0" r="4.4"/><circle cx="49" cy="196" r="7.1"/><circle cx="92" cy="148" r="2.6"/><circle cx="121" cy="124" r="2.7"/><circle cx="327" cy="371" r="6.2"/><circle cx="248" cy="4" r="3.6"/><circle cx="78" cy="129" r="5.6"/><circle cx="59" cy="8" r="2.6"/><circle cx="146" cy="241" r="6.5"/><circle cx="24" cy="327" r="2.7"/></g>
<ellipse rx="14" ry="26" transform="translate(24 236) rotate(-20)" fill="#cfe6ee"/>
<ellipse rx="13" ry="18" transform="translate(390 180) rotate(15)" fill="#d4ece8"/>
<ellipse rx="12" ry="18" transform="translate(318 338) rotate(-25)" fill="#cfe6ee"/>
<ellipse rx="16" ry="14" transform="translate(170 46) rotate(0)" fill="#d2e6ee"/>
</g></g>
<g transform="translate(1619 1440)"><g clip-path="url(#cl5)">
<rect width="557.2" height="371.7" filter="url(#o3n)"/>
<rect width="557.2" height="371.7" filter="url(#o3p)" opacity="0.45"/>
<ellipse cx="110" cy="130" rx="190" ry="150" fill="#9060b0" opacity="0.12"/>
<rect width="557.2" height="371.7" filter="url(#o3g)"/>
<rect width="557.2" height="371.7" filter="url(#o3h)"/>
<path d="M8 297h0M102 131h0M201 58h0M512 135h0M14 192h0M264 153h0M435 107h0M229 13h0M364 250h0M330 358h0M188 259h0M404 139h0M332 192h0M477 339h0M285 96h0M108 181h0M512 290h0M130 129h0M-3 128h0M439 331h0M101 259h0M161 158h0M124 298h0M309 299h0M168 106h0M523 250h0M353 275h0M12 347h0M461 33h0M164 213h0M279 56h0M315 177h0M240 135h0M298 121h0M31 233h0M112 219h0M303 215h0M523 97h0M22 333h0M294 377h0M509 2h0M409 185h0M239 154h0M522 217h0M503 197h0M386 198h0M96 30h0M391 60h0M20 374h0M412 37h0M335 105h0M326 41h0M489 76h0M455 7h0M563 31h0M228 211h0M554 105h0M63 217h0M561 302h0M423 148h0M129 28h0M237 178h0M141 -3h0M345 31h0M114 195h0M215 120h0M346 199h0M380 55h0M134 165h0M417 200h0M34 -1h0M147 24h0M551 151h0M84 291h0M199 -3h0M346 237h0M481 303h0M157 297h0M287 42h0M164 376h0M402 279h0M457 83h0M47 376h0M546 121h0M260 95h0M344 132h0M186 225h0M155 339h0M400 301h0M408 170h0M193 27h0M440 21h0M394 72h0M168 79h0M414 278h0M28 91h0M36 44h0M16 272h0M44 201h0M243 55h0M199 115h0M320 229h0M261 43h0M105 204h0M84 303h0M371 103h0M176 348h0M11 126h0M269 343h0M47 109h0M538 111h0M179 31h0M-5 176h0M205 32h0M321 117h0M457 254h0M413 224h0M245 167h0M415 305h0M518 365h0M23 78h0M228 340h0M129 279h0M347 119h0M257 298h0M513 310h0M213 209h0M244 206h0M540 372h0M314 257h0M533 45h0M-3 311h0M158 29h0M227 68h0M211 286h0M140 77h0M435 371h0M117 82h0M347 348h0M360 301h0M407 317h0M552 288h0M454 215h0M283 335h0M240 327h0M378 261h0M56 243h0M517 278h0M295 -6h0M373 73h0M122 109h0M229 162h0M478 57h0M123 264h0M521 184h0M103 114h0M61 361h0M475 105h0M435 70h0M291 209h0M291 9h0M59 191h0M202 14h0M336 20h0M367 193h0M388 368h0M76 119h0M400 -3h0M110 43h0M196 215h0M384 164h0M254 324h0M213 86h0M439 260h0M398 126h0M555 13h0M533 26h0M414 241h0M16 230h0M299 76h0M309 326h0M299 32h0M249 77h0M176 206h0M302 181h0M308 133h0M392 109h0M86 354h0M358 316h0M480 178h0M21 143h0M466 184h0M424 135h0M95 289h0M122 208h0M419 372h0M253 341h0M3 187h0M70 234h0M502 370h0M244 290h0M149 216h0M367 51h0M75 3h0M344 376h0M478 197h0M465 297h0M259 283h0M107 150h0M406 112h0M63 79h0M101 240h0M250 308h0M155 82h0M156 122h0M507 51h0M58 206h0M468 359h0M530 228h0M278 8h0M64 109h0M97 43h0M515 26h0M246 357h0M304 363h0M167 48h0M325 170h0M374 314h0M350 48h0M548 179h0M512 64h0M143 201h0M87 138h0M388 294h0M539 309h0M261 59h0M328 337h0M494 234h0M98 274h0M243 372h0M184 365h0M506 252h0M275 295h0M34 161h0M113 287h0M53 87h0M435 278h0M171 247h0M439 248h0M377 143h0M493 318h0M398 262h0M3 60h0M266 365h0M122 97h0M89 53h0M132 243h0M349 361h0M204 196h0M410 123h0M32 104h0M60 291h0M361 67h0M550 362h0M133 214h0M41 273h0M161 12h0M123 12h0M5 285h0M320 217h0M59 278h0M-3 12h0M103 97h0M492 174h0M480 327h0M354 -4h0M345 63h0M480 255h0M501 150h0M307 57h0M296 299h0M281 367h0M414 1h0M10 14h0M451 172h0M335 208h0M192 39h0M92 316h0M443 119h0M192 350h0M77 104h0M422 59h0M17 104h0M113 165h0M515 232h0M198 91h0M153 323h0M473 22h0M12 362h0M325 135h0M452 102h0M323 57h0M231 82h0M435 162h0M47 213h0M170 194h0M3 253h0M323 299h0M334 144h0M142 142h0M539 253h0M37 78h0M317 79h0M190 330h0M252 235h0M205 332h0M47 297h0M22 306h0M373 377h0M529 205h0M61 24h0M195 70h0M266 328h0M343 317h0M276 71h0M30 186h0M393 178h0M71 189h0M79 63h0M80 35h0M187 56h0M225 224h0M47 348h0M46 52h0M465 264h0M481 36h0M217 195h0M-4 151h0M253 269h0M468 116h0M310 2h0M275 42h0M212 5h0M28 285h0M11 83h0M389 270h0M538 67h0M559 319h0M154 2h0M55 99h0M113 374h0M218 171h0M555 130h0M455 310h0M59 147h0M189 377h0M259 118h0M363 9h0M65 164h0M3 72h0M265 315h0M309 20h0M182 286h0M273 97h0M436 91h0M535 172h0M180 157h0M237 25h0M403 54h0M516 205h0M464 320h0M86 13h0M167 327h0M497 59h0M360 340h0M440 308h0M416 18h0M36 133h0M27 13h0M287 322h0M499 103h0M283 234h0M459 161h0M511 96h0M159 360h0M541 297h0M346 330h0M491 357h0M217 35h0M200 291h0M439 177h0M234 303h0M73 246h0M538 355h0M113 233h0M446 150h0M313 345h0M185 120h0M383 23h0M171 364h0M306 95h0M101 300h0M160 279h0M45 183h0M407 95h0M45 24h0M225 326h0M241 -3h0M561 337h0M393 317h0M455 370h0M290 287h0M322 -3h0M403 234h0M96 371h0M175 179h0M155 48h0M73 15h0M471 137h0M389 88h0M283 259h0M77 318h0M503 357h0M398 38h0M411 66h0M473 242h0M88 160h0M311 373h0M197 306h0M39 310h0M25 54h0M373 241h0M263 204h0M26 354h0M366 209h0M133 50h0M60 0h0M215 18h0M5 1h0M400 375h0M221 49h0M453 193h0M395 154h0M160 171h0M124 318h0M260 81h0M531 9h0M4 39h0M288 352h0M464 150h0M448 281h0M445 45h0M292 133h0M20 167h0M284 153h0M371 175h0M-3 224h0M458 21h0M358 140h0M140 325h0M491 276h0M320 318h0M187 199h0M355 371h0M2 23h0M252 250h0M128 374h0M31 209h0M449 239h0M129 360h0M281 310h0M343 88h0M197 162h0M506 218h0M314 39h0M392 6h0M487 126h0M130 184h0M0 326h0M441 80h0M58 308h0M370 329h0M75 133h0M45 250h0M268 186h0M8 205h0M157 203h0M51 263h0M328 284h0M357 232h0M117 32h0M533 283h0M47 141h0M192 134h0M47 9h0M521 265h0M206 358h0M514 109h0M439 290h0M550 30h0M234 315h0M171 149h0M54 174h0M107 347h0M148 366h0M122 54h0M211 65h0M363 266h0M309 203h0M505 166h0M543 133h0M369 352h0M123 -4h0M160 138h0M212 107h0M532 -4h0M526 323h0M553 59h0M198 236h0M112 332h0M100 165h0M468 213h0M279 121h0M-5 88h0M268 246h0M81 199h0M548 204h0M272 264h0M516 12h0M292 243h0M130 346h0M233 108h0M457 52h0M295 267h0M427 349h0M403 340h0M231 253h0M546 330h0M463 281h0M398 194h0" stroke="#2069d8" stroke-width="8.6" stroke-linecap="round" fill="none" stroke-opacity="0.9"/>
<g fill="#1c60d0" fill-opacity="0.9"><ellipse rx="4.3" ry="1.7" transform="translate(410 349) rotate(178)"/><ellipse rx="4.3" ry="1.7" transform="translate(234 190) rotate(178)"/><ellipse rx="4.5" ry="1.7" transform="translate(342 290) rotate(90)"/><ellipse rx="5.3" ry="2.1" transform="translate(245 113) rotate(18)"/><ellipse rx="4.7" ry="1.8" transform="translate(384 331) rotate(73)"/><ellipse rx="4.2" ry="1.7" transform="translate(461 237) rotate(46)"/><ellipse rx="4.2" ry="1.6" transform="translate(213 306) rotate(70)"/><ellipse rx="4.3" ry="1.7" transform="translate(156 186) rotate(165)"/><ellipse rx="4.8" ry="1.9" transform="translate(51 127) rotate(39)"/><ellipse rx="4.2" ry="1.6" transform="translate(530 146) rotate(176)"/><ellipse rx="5.4" ry="2.1" transform="translate(221 278) rotate(106)"/><ellipse rx="4.9" ry="1.9" transform="translate(377 34) rotate(41)"/><ellipse rx="4.9" ry="1.9" transform="translate(78 175) rotate(142)"/><ellipse rx="5.2" ry="2" transform="translate(76 87) rotate(48)"/><ellipse rx="4.4" ry="1.7" transform="translate(137 112) rotate(123)"/><ellipse rx="4.2" ry="1.7" transform="translate(8 241) rotate(100)"/><ellipse rx="4.8" ry="1.9" transform="translate(424 254) rotate(116)"/><ellipse rx="5" ry="1.9" transform="translate(194 272) rotate(154)"/><ellipse rx="4.6" ry="1.8" transform="translate(427 230) rotate(134)"/><ellipse rx="4.7" ry="1.8" transform="translate(370 23) rotate(31)"/><ellipse rx="4.3" ry="1.7" transform="translate(172 229) rotate(144)"/><ellipse rx="5.4" ry="2.1" transform="translate(429 316) rotate(31)"/><ellipse rx="4.5" ry="1.7" transform="translate(464 64) rotate(4)"/><ellipse rx="4.4" ry="1.7" transform="translate(527 127) rotate(70)"/><ellipse rx="4.4" ry="1.7" transform="translate(89 75) rotate(130)"/><ellipse rx="5.4" ry="2.1" transform="translate(555 89) rotate(129)"/><ellipse rx="4.4" ry="1.7" transform="translate(58 54) rotate(138)"/><ellipse rx="5.3" ry="2.1" transform="translate(49 154) rotate(101)"/><ellipse rx="4.8" ry="1.9" transform="translate(73 349) rotate(17)"/><ellipse rx="4.7" ry="1.8" transform="translate(487 375) rotate(152)"/><ellipse rx="4.5" ry="1.8" transform="translate(175 128) rotate(72)"/><ellipse rx="4.5" ry="1.8" transform="translate(561 274) rotate(159)"/><ellipse rx="4.9" ry="1.9" transform="translate(320 14) rotate(3)"/><ellipse rx="5.2" ry="2" transform="translate(348 213) rotate(35)"/><ellipse rx="5.3" ry="2.1" transform="translate(90 119) rotate(100)"/><ellipse rx="4.9" ry="1.9" transform="translate(109 360) rotate(114)"/><ellipse rx="5.2" ry="2" transform="translate(515 146) rotate(157)"/><ellipse rx="4.2" ry="1.7" transform="translate(139 300) rotate(171)"/><ellipse rx="5.3" ry="2.1" transform="translate(103 5) rotate(110)"/><ellipse rx="4.5" ry="1.8" transform="translate(205 134) rotate(99)"/><ellipse rx="4.3" ry="1.7" transform="translate(245 90) rotate(14)"/><ellipse rx="5" ry="2" transform="translate(481 216) rotate(65)"/><ellipse rx="5.2" ry="2" transform="translate(389 342) rotate(86)"/><ellipse rx="4.2" ry="1.7" transform="translate(-5 265) rotate(106)"/><ellipse rx="4.2" ry="1.7" transform="translate(144 279) rotate(85)"/><ellipse rx="4.5" ry="1.7" transform="translate(495 26) rotate(149)"/><ellipse rx="4.8" ry="1.9" transform="translate(177 273) rotate(118)"/><ellipse rx="4.3" ry="1.7" transform="translate(538 237) rotate(164)"/><ellipse rx="5" ry="1.9" transform="translate(358 164) rotate(156)"/><ellipse rx="5.3" ry="2.1" transform="translate(419 88) rotate(152)"/><ellipse rx="4.7" ry="1.8" transform="translate(312 279) rotate(57)"/><ellipse rx="5.1" ry="2" transform="translate(111 122) rotate(102)"/><ellipse rx="5.3" ry="2.1" transform="translate(300 349) rotate(26)"/><ellipse rx="4.8" ry="1.9" transform="translate(541 223) rotate(31)"/><ellipse rx="4.9" ry="1.9" transform="translate(400 358) rotate(118)"/><ellipse rx="4.2" ry="1.6" transform="translate(179 321) rotate(8)"/><ellipse rx="4.4" ry="1.7" transform="translate(49 335) rotate(119)"/><ellipse rx="4.4" ry="1.7" transform="translate(342 170) rotate(93)"/><ellipse rx="5.1" ry="2" transform="translate(222 97) rotate(6)"/><ellipse rx="5.4" ry="2.1" transform="translate(1 355) rotate(104)"/><ellipse rx="4.8" ry="1.9" transform="translate(508 341) rotate(111)"/><ellipse rx="5.1" ry="2" transform="translate(505 35) rotate(52)"/><ellipse rx="4.3" ry="1.7" transform="translate(379 115) rotate(173)"/><ellipse rx="5.3" ry="2.1" transform="translate(256 130) rotate(0)"/><ellipse rx="5" ry="2" transform="translate(513 81) rotate(168)"/><ellipse rx="5.1" ry="2" transform="translate(529 338) rotate(51)"/><ellipse rx="4.9" ry="1.9" transform="translate(139 89) rotate(43)"/><ellipse rx="5" ry="1.9" transform="translate(358 101) rotate(147)"/><ellipse rx="4.9" ry="1.9" transform="translate(159 261) rotate(117)"/><ellipse rx="4.2" ry="1.6" transform="translate(314 151) rotate(132)"/><ellipse rx="4.7" ry="1.8" transform="translate(353 183) rotate(93)"/><ellipse rx="5.2" ry="2" transform="translate(366 125) rotate(154)"/><ellipse rx="4.9" ry="1.9" transform="translate(498 133) rotate(59)"/><ellipse rx="4.5" ry="1.8" transform="translate(432 6) rotate(79)"/><ellipse rx="4.6" ry="1.8" transform="translate(480 164) rotate(79)"/><ellipse rx="5.2" ry="2" transform="translate(550 72) rotate(158)"/><ellipse rx="4.4" ry="1.7" transform="translate(385 240) rotate(130)"/><ellipse rx="5" ry="1.9" transform="translate(533 86) rotate(20)"/><ellipse rx="4.5" ry="1.7" transform="translate(36 321) rotate(77)"/><ellipse rx="4.5" ry="1.7" transform="translate(307 112) rotate(45)"/><ellipse rx="4.4" ry="1.7" transform="translate(111 268) rotate(56)"/><ellipse rx="5" ry="2" transform="translate(341 -3) rotate(7)"/><ellipse rx="5" ry="1.9" transform="translate(72 298) rotate(177)"/><ellipse rx="4.9" ry="1.9" transform="translate(376 342) rotate(52)"/><ellipse rx="4.9" ry="1.9" transform="translate(458 340) rotate(33)"/><ellipse rx="4.4" ry="1.7" transform="translate(249 24) rotate(94)"/><ellipse rx="5.2" ry="2" transform="translate(246 193) rotate(46)"/><ellipse rx="5" ry="1.9" transform="translate(95 222) rotate(50)"/><ellipse rx="5" ry="2" transform="translate(106 73) rotate(173)"/><ellipse rx="5.3" ry="2.1" transform="translate(443 352) rotate(151)"/><ellipse rx="4.6" ry="1.8" transform="translate(160 239) rotate(80)"/><ellipse rx="5" ry="1.9" transform="translate(270 215) rotate(149)"/><ellipse rx="5.2" ry="2" transform="translate(429 192) rotate(141)"/><ellipse rx="5.3" ry="2.1" transform="translate(473 369) rotate(125)"/><ellipse rx="5" ry="2" transform="translate(561 209) rotate(174)"/><ellipse rx="5.4" ry="2.1" transform="translate(477 289) rotate(80)"/><ellipse rx="4.8" ry="1.9" transform="translate(504 266) rotate(109)"/><ellipse rx="4.3" ry="1.7" transform="translate(329 247) rotate(94)"/><ellipse rx="5.4" ry="2.1" transform="translate(1 110) rotate(27)"/><ellipse rx="5.3" ry="2.1" transform="translate(336 273) rotate(67)"/><ellipse rx="5.3" ry="2.1" transform="translate(152 63) rotate(134)"/><ellipse rx="4.3" ry="1.7" transform="translate(563 120) rotate(121)"/><ellipse rx="4.7" ry="1.8" transform="translate(50 319) rotate(135)"/><ellipse rx="4.7" ry="1.9" transform="translate(257 377) rotate(97)"/><ellipse rx="4.3" ry="1.7" transform="translate(381 185) rotate(104)"/><ellipse rx="4.9" ry="1.9" transform="translate(286 185) rotate(36)"/><ellipse rx="4.3" ry="1.7" transform="translate(353 257) rotate(155)"/><ellipse rx="4.2" ry="1.6" transform="translate(172 297) rotate(152)"/><ellipse rx="4.5" ry="1.7" transform="translate(376 221) rotate(21)"/><ellipse rx="4.6" ry="1.8" transform="translate(186 105) rotate(138)"/><ellipse rx="5.3" ry="2.1" transform="translate(281 196) rotate(89)"/><ellipse rx="5.1" ry="2" transform="translate(503 183) rotate(8)"/><ellipse rx="5" ry="2" transform="translate(215 257) rotate(148)"/><ellipse rx="4.9" ry="1.9" transform="translate(524 70) rotate(89)"/><ellipse rx="4.9" ry="1.9" transform="translate(400 245) rotate(51)"/><ellipse rx="4.3" ry="1.7" transform="translate(144 126) rotate(135)"/><ellipse rx="4.9" ry="1.9" transform="translate(180 75) rotate(96)"/><ellipse rx="5.2" ry="2" transform="translate(328 262) rotate(170)"/><ellipse rx="5.3" ry="2.1" transform="translate(296 157) rotate(73)"/><ellipse rx="4.8" ry="1.9" transform="translate(359 80) rotate(60)"/><ellipse rx="4.8" ry="1.9" transform="translate(24 29) rotate(99)"/><ellipse rx="5" ry="2" transform="translate(495 5) rotate(88)"/><ellipse rx="4.5" ry="1.8" transform="translate(72 331) rotate(100)"/><ellipse rx="4.9" ry="1.9" transform="translate(490 199) rotate(10)"/><ellipse rx="5" ry="1.9" transform="translate(328 376) rotate(50)"/><ellipse rx="4.3" ry="1.7" transform="translate(260 175) rotate(4)"/><ellipse rx="4.6" ry="1.8" transform="translate(216 140) rotate(93)"/><ellipse rx="4.4" ry="1.7" transform="translate(293 56) rotate(0)"/><ellipse rx="5" ry="2" transform="translate(421 111) rotate(176)"/><ellipse rx="5" ry="2" transform="translate(234 276) rotate(174)"/><ellipse rx="5.4" ry="2.1" transform="translate(155 99) rotate(86)"/><ellipse rx="4.3" ry="1.7" transform="translate(30 342) rotate(20)"/><ellipse rx="4.7" ry="1.9" transform="translate(542 2) rotate(85)"/><ellipse rx="5.1" ry="2" transform="translate(207 267) rotate(115)"/><ellipse rx="4.3" ry="1.7" transform="translate(47 360) rotate(156)"/><ellipse rx="4.2" ry="1.6" transform="translate(424 40) rotate(145)"/><ellipse rx="4.2" ry="1.7" transform="translate(397 210) rotate(44)"/><ellipse rx="4.7" ry="1.8" transform="translate(402 82) rotate(143)"/><ellipse rx="4.6" ry="1.8" transform="translate(241 38) rotate(98)"/><ellipse rx="4.6" ry="1.8" transform="translate(435 212) rotate(147)"/><ellipse rx="4.8" ry="1.9" transform="translate(85 335) rotate(66)"/><ellipse rx="4.2" ry="1.6" transform="translate(119 145) rotate(154)"/><ellipse rx="4.3" ry="1.7" transform="translate(81 260) rotate(45)"/><ellipse rx="5.3" ry="2.1" transform="translate(23 116) rotate(55)"/><ellipse rx="4.4" ry="1.7" transform="translate(374 286) rotate(94)"/><ellipse rx="4.6" ry="1.8" transform="translate(523 296) rotate(103)"/><ellipse rx="5.3" ry="2.1" transform="translate(222 369) rotate(124)"/><ellipse rx="4.4" ry="1.7" transform="translate(561 255) rotate(148)"/><ellipse rx="4.2" ry="1.6" transform="translate(492 340) rotate(62)"/><ellipse rx="4.5" ry="1.8" transform="translate(160 312) rotate(54)"/><ellipse rx="5.1" ry="2" transform="translate(183 11) rotate(104)"/><ellipse rx="4.9" ry="1.9" transform="translate(293 86) rotate(38)"/><ellipse rx="4.6" ry="1.8" transform="translate(205 172) rotate(17)"/><ellipse rx="5.2" ry="2" transform="translate(457 134) rotate(98)"/><ellipse rx="5.1" ry="2" transform="translate(144 264) rotate(42)"/><ellipse rx="4.5" ry="1.8" transform="translate(93 104) rotate(24)"/><ellipse rx="5.1" ry="2" transform="translate(425 295) rotate(47)"/><ellipse rx="4.6" ry="1.8" transform="translate(52 36) rotate(163)"/><ellipse rx="5" ry="2" transform="translate(498 299) rotate(89)"/><ellipse rx="4.2" ry="1.6" transform="translate(142 35) rotate(144)"/></g>
<path d="M96 120h0M255 229h0M73 64h0M534 347h0M460 82h0M325 159h0M477 247h0M40 335h0M415 327h0M384 259h0M562 302h0M330 59h0M306 267h0M213 175h0M263 314h0M561 335h0M349 147h0M483 34h0M402 145h0M127 30h0M211 71h0M212 366h0M10 68h0M246 62h0M271 174h0M378 235h0M336 351h0M356 217h0M72 328h0M192 -5h0M34 96h0M313 223h0M363 322h0M218 34h0M407 42h0M522 251h0M555 266h0M64 36h0M313 5h0M514 332h0M181 200h0M413 164h0M332 207h0M22 364h0M484 110h0M8 135h0M47 293h0M93 214h0M534 141h0M461 186h0M483 156h0M119 252h0M3 189h0M414 119h0M190 51h0M224 284h0M516 178h0M297 121h0M520 287h0M162 352h0" stroke="#b02848" stroke-width="3" stroke-linecap="round" fill="none" stroke-opacity="0.8"/>
<path d="M215 152l30 -4l32 26l-18 4l-30 -10z" fill="#dcefee" stroke="#a9d6ee" stroke-width="2"/>
<path d="M330 198l46 -2l12 20l-18 40l-16 -8z" fill="#e2f0ee" stroke="#a9d6ee" stroke-width="2"/>
</g></g>
<path d="M920.8 1402.3H1003.9M920.8 1399.2v6.2M1003.9 1399.2v6.2" stroke="#111" stroke-width="1.7" fill="none"/>
<text transform="translate(962.35 1400.3) scale(1 1.041)" font-size="9" text-anchor="middle" style="font-family:'Liberation Serif',serif" fill="#222">100.00 μm</text>
<path d="M1501.3 1403.8H1584.4M1501.3 1400.7v6.2M1584.4 1400.7v6.2" stroke="#111" stroke-width="1.7" fill="none"/>
<text transform="translate(1542.85 1401.8) scale(1 1.041)" font-size="9" text-anchor="middle" style="font-family:'Liberation Serif',serif" fill="#222">100.00 μm</text>
<path d="M2084 1402.6H2167.1M2084 1399.5v6.2M2167.1 1399.5v6.2" stroke="#111" stroke-width="1.7" fill="none"/>
<text transform="translate(2125.55 1400.6) scale(1 1.041)" font-size="9" text-anchor="middle" style="font-family:'Liberation Serif',serif" fill="#222">100.00 μm</text>
<path d="M919.3 1800.8H1002.4M919.3 1797.7v6.2M1002.4 1797.7v6.2" stroke="#111" stroke-width="1.7" fill="none"/>
<text transform="translate(960.85 1798.8) scale(1 1.041)" font-size="9" text-anchor="middle" style="font-family:'Liberation Serif',serif" fill="#222">100.00 μm</text>
<path d="M1501.3 1802.2H1584.4M1501.3 1799.1v6.2M1584.4 1799.1v6.2" stroke="#111" stroke-width="1.7" fill="none"/>
<text transform="translate(1542.85 1800.2) scale(1 1.041)" font-size="9" text-anchor="middle" style="font-family:'Liberation Serif',serif" fill="#222">100.00 μm</text>
<path d="M2083.3 1800.8H2166.4M2083.3 1797.7v6.2M2166.4 1797.7v6.2" stroke="#111" stroke-width="1.7" fill="none"/>
<text transform="translate(2124.85 1798.8) scale(1 1.041)" font-size="9" text-anchor="middle" style="font-family:'Liberation Serif',serif" fill="#222">100.00 μm</text>
<rect x="0" y="2928.4" width="2433" height="21.6" fill="#fff"/>
</svg></body></html>
